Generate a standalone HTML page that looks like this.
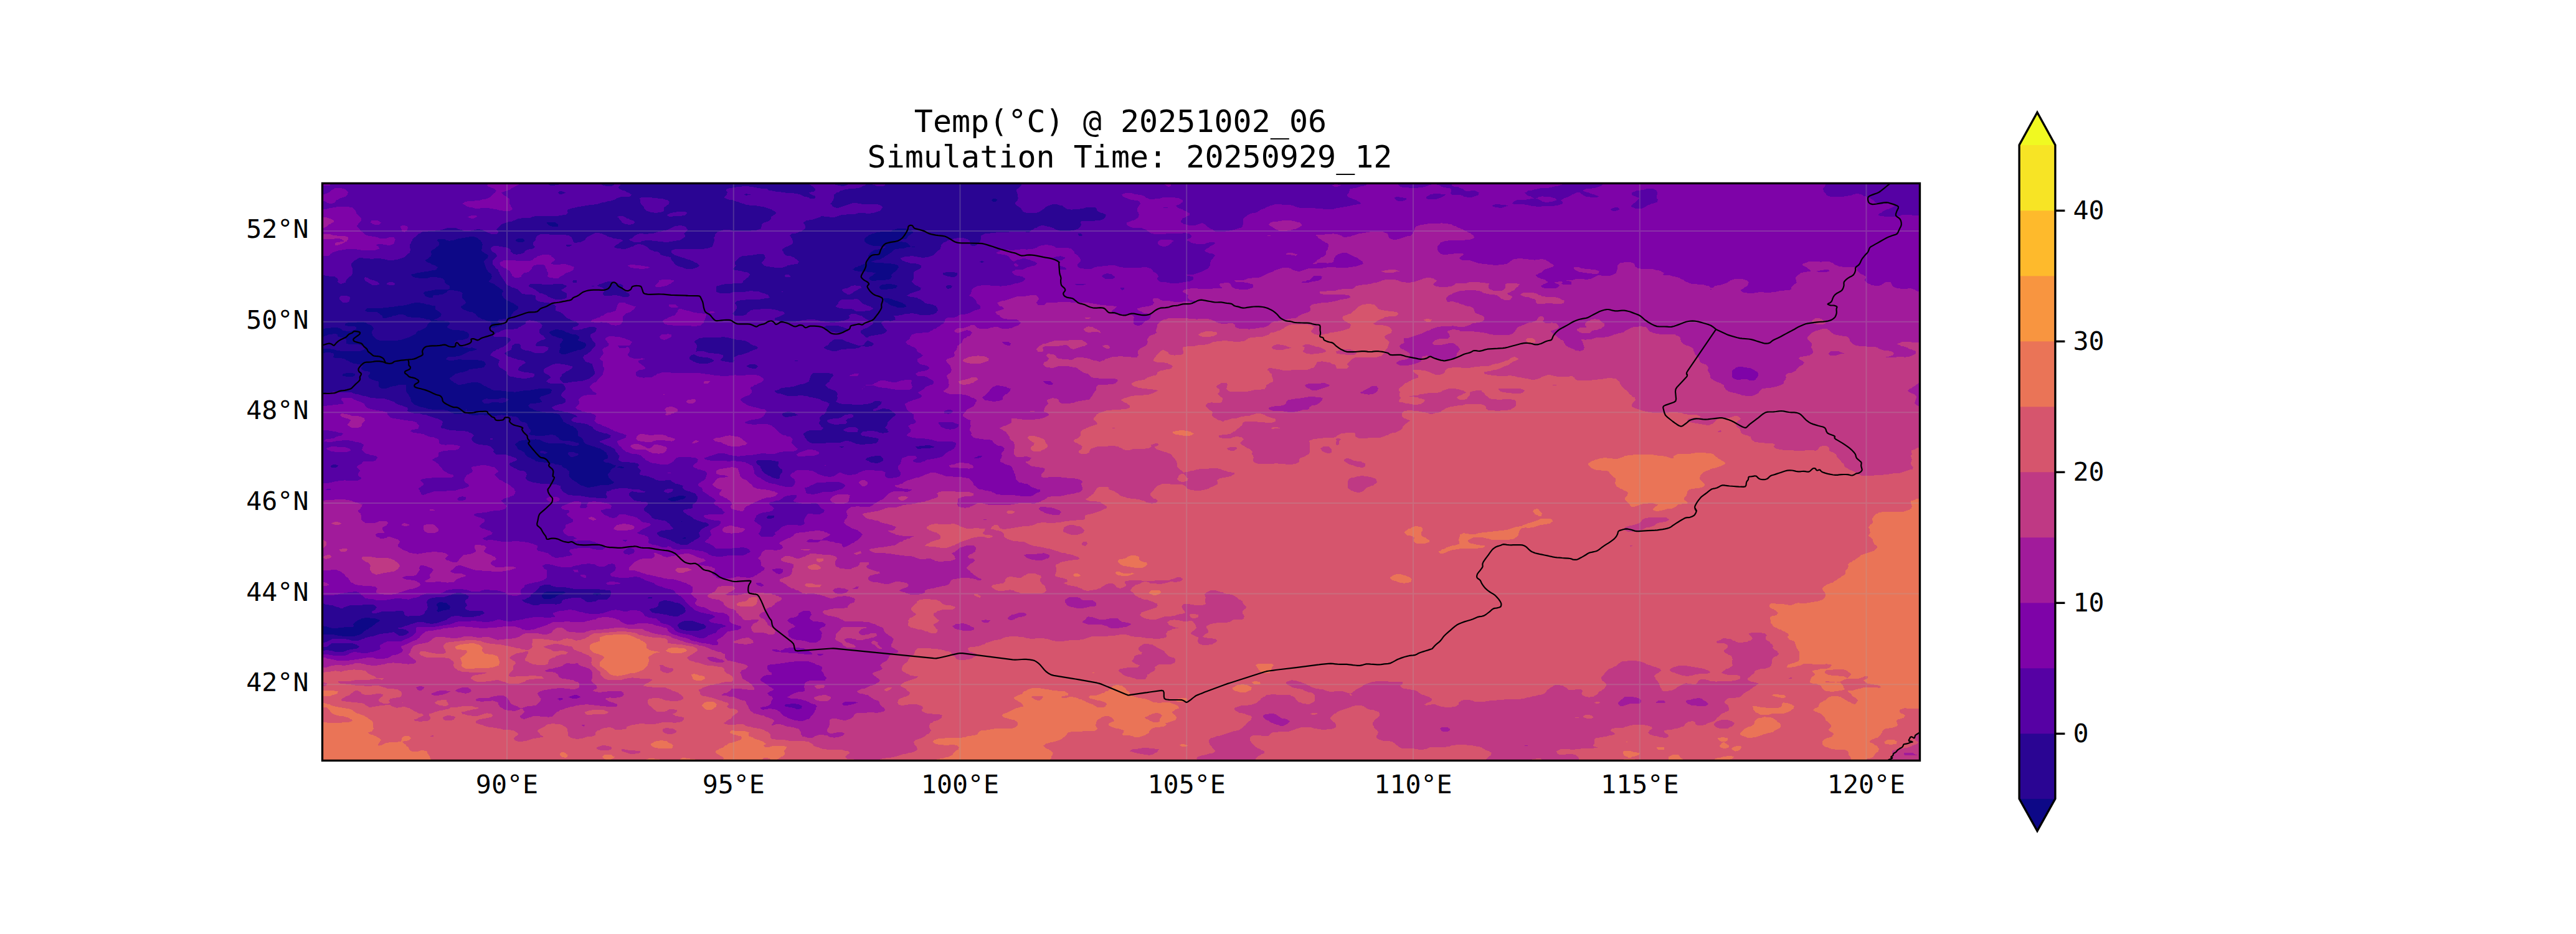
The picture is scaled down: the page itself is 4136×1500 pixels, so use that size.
<!DOCTYPE html>
    <html><head><meta charset="utf-8"><title>Temp</title>
    <style>
    html,body{margin:0;padding:0;background:#fff;}
    body{width:4136px;height:1500px;overflow:hidden;}
    svg{display:block;}
    text{font-family:"DejaVu Sans Mono","Liberation Mono",monospace;fill:#000;}
    .t{font-size:50px;text-anchor:middle;}
    .l{font-size:41.67px;}
    </style></head><body>
    <svg width="4136" height="1500" viewBox="0 0 4136 1500">
    <rect width="4136" height="1500" fill="#fff"/>
    <defs><clipPath id="ax"><rect x="517.5" y="294.4" width="2565.0" height="927.1"/></clipPath></defs>
    <g clip-path="url(#ax)">
    <rect x="517.5" y="294.4" width="2565.0" height="927.1" fill="#7e03a8"/>
    <rect x="517.5" y="294.4" width="2565.0" height="927.1" fill="#0d0887"/>
<g shape-rendering="crispEdges">
<path fill="#2a0593" fill-rule="evenodd" d="M518 291l2568 0 0 933 -2572 0 0-206 4 1 18 0 2 1 3 0 1 1 6 0 2 1 18 0 4-1 2-1 1 0 3-1 2-1 1-1 3-2 0-1 2-1 2-2 2 0 3-3 3-1 2-2 4-2 0-1 2-2 3-1 3-3 1 0 -1 0 -2-1 -4-1 -2-1 -6 0 -4-1 -6 0 -2 1 -4 0 -2 2 -4 1 -2 2 -2 1 -3 3 1 3 1 0 -1 0 -2 2 -12 0 -4 1 -6 0 -2 1 -10 0 0-1 -2 0 -4-1 -2-1 -4 0 -1-1 -3 0 -2 1 0-436 4-2 1-1 1 0 4-1 6 0 2 1 2 0 2 2 0 3 -2 1 4 2 10 0 2 1 2 0 2 1 2 2 2 0 2 1 2 2 2 0 4 2 4 0 2 1 3 0 1 1 2 1 3 1 -3 2 0 3 6 3 4 0 2 1 2 0 0 3 -3 3 1 3 0 1 6 3 4 1 2 1 2 0 2 2 0 7 2 2 4 1 6 0 2-1 4-1 0-1 2 0 4-1 2 0 4-1 2-1 12 0 0 3 1 0 -1 0 0 8 1 1 2 3 1 1 1 2 2 3 1 3 0 3 4 4 4 2 1 0 1 1 4 1 2 1 3 0 1 1 2 0 4 1 2 1 4 0 2 1 18 0 4 1 2 0 4 2 2 2 1 0 3 1 2 1 10 0 2-1 4 0 2-1 0-6 1 0 0 6 3 2 2 1 2 0 2 1 8 0 4-1 6 0 2 1 6 0 4 1 8 0 4-1 2 0 4-1 2 1 6 0 4 1 2 0 4 1 4 0 2 1 2 2 1 0 1 3 2 2 3 1 3 0 2 1 3 2 0 3 1 1 2 4 2 1 0 3 -2 3 -1 0 1 2 4 1 4 0 2 1 14 0 1-1 5 0 4-1 2 0 4 1 2 0 0 1 3 2 3 3 0 1 4 1 2 1 12 0 0 1 4 0 2 1 4 1 3 0 1 3 -4 2 -6 0 -4-1 -2 0 -1-1 -3 0 -2-1 -3-1 -25 0 -1-1 -1 0 -4-1 -8-4 -4 0 -2-1 -3 1 -13 0 -2 1 -4 0 -2 1 -2 0 -2 1 -2 2 -1 0 -2 3 2 3 1 1 2 4 4 1 2 2 4 1 1 3 1 2 1 1 3 2 2 1 1 0 3 2 2 1 1 0 3 3 2 0 4 1 6 0 2 1 6 0 4 1 3 0 3 1 2 1 4 0 2 1 3 0 1 1 1 2 1 1 4 1 2 2 3 2 1 0 0 5 -1 1 1 2 0 1 2 3 4 3 1 0 1 2 3 1 3 3 1 0 3 2 2 1 2 0 4 2 4 1 2 0 4-1 2 0 4-1 2 0 1-1 3 0 2-1 12 0 4-1 2-1 1 0 3-2 0-1 -4-2 0-1 -2-1 -2-2 -1-3 -1-2 0-1 2-3 2-2 0-1 2-3 6-3 1-3 -3 0 -6-3 -4-1 -2 0 -4-1 -1-1 1-3 4-1 2-2 0-3 -2-3 0-1 -2-2 -2-1 -2-2 -4-2 -1-1 -1 0 -4-1 -4-2 -2 0 -2-1 -4-1 -2-1 -4-1 -2-2 -2-6 -2-1 -2-2 -4-2 0-7 -2-3 -3-3 -1 0 -3-3 -3 0 -2-2 -3-1 -1 0 -2-2 -4-2 0-2 -4-6 -1-3 -1 0 -2-1 -4-1 -3 0 -1-1 -10 0 -4-1 -2 0 -4-1 -2-1 -4 0 -2-1 -4-1 0-1 -2-1 -4-1 0-1 -3-3 1 0 2-2 2-1 8 0 2-1 4 0 2-1 3-1 -3-2 0-1 -2-3 2-2 2-1 2 0 2-1 4-1 2-1 4-1 1-2 1-3 -2-2 -3-1 -16 0 -3 1 -2 0 -4 1 -2 0 -4 1 -9 0 -3 1 -2 0 -4 1 -2 0 -4 1 -2-1 -10 0 -2-1 -6 0 -3-1 -9 0 -4-1 -2-1 -1-1 -3-1 -2-1 -1-1 -3-1 -2-1 -1-1 -3-2 -2-1 -4-1 -8 0 -4 1 -3 0 -3 1 -2 1 -4 0 -2 1 -4 0 -2-1 -3-2 -1 0 -2-1 -2-2 -2-1 -2-2 1-3 1 0 3-3 1 0 2-2 2-1 1 0 3-1 4-1 2 0 3-1 1 0 2-1 4-1 0-1 2-1 4 0 2-1 6 0 2-1 4 0 4-1 2-2 2-3 -1-3 -1 0 -2-2 -4-1 -2 0 -4-1 -24 0 -2-1 -4 0 -2 1 -4 0 -2 1 -6 0 -4-1 -2-1 -1-1 1 0 2-2 2-1 10 0 4-1 2 0 4-1 1-1 1 0 4-2 1-1 1 0 6-3 4 0 2-1 4-1 1-1 -1-1 -4-1 -2-1 -4 1 -2 0 -3-1 -3 0 -4-1 -2-1 -3-1 -1 0 -2-1 -3-2 -1-1 0-2 4-2 1-1 7 0 4-1 2-1 3-1 1 0 1-3 0-3 -1-1 -1-2 -3-1 -4-2 -4 0 -4-1 -8 0 -4-1 -6-3 0-1 2-3 2-2 0-2 -3-2 -3 0 -4-1 -8 0 -4-1 -2 0 -3-1 3 0 2-1 4-1 0-1 2-1 2-2 1-3 -3-2 -2-2 -3-2 -1 0 -1-3 0-3 -1-1 -4 0 -2-1 -4-1 -2 0 -4-1 -2-1 -4 0 -2-1 -8 0 -2 1 -2 0 -4 1 -2 1 -3 0 -1 1 -2 0 -4 1 -6 0 -2 1 -5 0 -1 1 -6 0 -4 1 -6 0 -2 1 -25 0 -3 3 0 1 4 2 15 0 3 2 2 1 0 1 4 2 0 3 -1 0 1 0 2 1 4 0 1-1 1 0 4-1 2 0 3-2 3 0 4-1 2-1 6 0 4 1 2 1 0 1 4 1 2 0 4 1 12 0 2 1 4 0 2 1 4 1 3 0 3 2 0 1 -1 1 -3 2 -2 3 0 1 -1 2 -3 2 -8 4 -3 0 -3 3 0 2 -6 3 -3 1 -1 1 -2 1 -4 1 -1 0 -1 1 -4 1 -2 1 -4 0 -2 1 -28 0 -2-1 -4-1 -2-2 -2-3 -2-1 0-2 -1-3 1-3 0-1 2-2 -1-3 -1 0 -3-3 -6-2 0-1 -3-1 -2-1 -10 0 -2 1 -12 0 -4 1 -1 0 -1 3 -1 0 1 1 2 0 4 1 8 0 4 1 0 4 -4 1 -2 1 -1 0 -3 1 -6 0 -2-1 -4 0 -3-3 -3-1 -2-1 -10 0 -2 1 -6 0 -4 1 -6 0 0-237zM1591 321l3 3 4 0 2-2 2-1 -4-2 -4 0 -2 2zM878 357l1 3 1 1 4 2 2 0 0 1 10 0 0-4 -4-2 0-1zM1434 369l-2 1 -2 2 -17 0 -1 1 -4 0 -2 1 -4 1 -2 0 0 1 -4 1 -2 1 0 1 -4 2 -2 3 0 3 2 3 6 3 4 1 2 1 10 0 2 1 8 0 -2 2 -2 1 -2 0 -2 1 -2 0 -4 1 -2 0 -4 1 -2 2 -2 1 -4 6 0 4 -2 2 -1 3 -1 1 -1 2 -1 1 -4 1 -2 1 -1 1 -3 0 -2 2 -2 0 -2 1 -2 2 -2 0 2 1 2 2 4 0 2 1 12 0 4 1 6 0 2 1 5 0 -2 1 -3 2 -2 2 -3 1 -1 2 -1 1 1 2 4 2 6 0 1-1 13 0 4-1 2 0 4-1 0-1 2-3 -1-3 3-3 2-1 5-5 2-3 -1-3 -4-1 -2-1 -4 0 -2-1 -10 0 -2-1 -12 0 -4-1 -2 0 -2-1 2 0 2-1 4-1 2-1 4 0 2-1 3-2 1 0 2-2 4-2 2-2 1 0 3-2 4-4 4-2 4 0 2-1 6 0 4-1 2-1 4 0 2-1 4 1 2 0 1-1 -7 0 -2-3 -4-3 -2-1 -4 0 -2-1 -6 0 -3-1 3-1 2-1 3-1 7 0 3-3 2-3 1 0 2-2 2-1 2-2 0-1 -4-3 -2 0 -4-1 -2-1 -12 0 -4 1 -2 1zM747 381l-1 1 -4 0 -2 1 -4 0 -2 1 -4 1 -2 1 -4 0 -2 1 -4-1 -2 0 -2-2 -11 0 -1 3 3 3 0 3 -1 2 -4 2 -2 2 0 1 -4 1 -1 1 -1 3 1 3 -1 3 -1 1 -3 2 -2 2 -3 1 1 3 4 2 3 1 1 1 2 1 4 1 2 2 3 1 -2 3 -1 1 -2 1 -4 0 -2 1 -3 0 -3 1 -4 0 -2 1 -4 0 -2 1 -4 0 -2 1 -4 1 -2 0 -3 1 3 3 2 1 4 1 2 0 4 1 12 0 2-1 4-1 8 0 4 1 2 0 4 1 2 2 2 1 0 3 2 3 6 3 0 5 -4 1 -20 0 0 1 -4 0 -2 1 -4 0 -2 1 -4 0 -2 3 -1 0 3 3 0 1 4 2 1 0 1 1 6 0 1-1 1-3 8 0 2-1 4 0 2-1 1-1 3-1 2-2 0-1 4-1 6 0 2 1 4 0 2 1 2 0 2 1 2 2 1 0 -1 2 0 6 4 4 1 0 1 3 -2 3 -1 0 -3 2 -2 1 1 3 1 1 4 2 1 0 1 1 4 1 2 1 4 0 2 2 3 1 1 0 1 3 1 1 3 2 1 0 2 2 4 1 2 0 0 1 4 1 2 1 2 0 3 3 -1 3 0 1 -3 2 3 1 6 0 2-1 4-1 2-1 4 0 0-2 -2-2 -2 0 -2-2 -2-1 2-1 1-2 5 0 2-1 6 0 4-1 1-1 1-2 1-1 1-3 2-1 0-2 2-1 3-2 1 0 2-3 0-3 -2-1 -3-2 -1 0 -2-2 -2-1 -2 0 -2-2 -3-1 -1 0 -2-2 -2-1 -2-2 0-1 -2-3 0-3 2-3 -1-3 -1 0 -4-2 0-1 -2-1 -3-2 -1 0 -3-3 -3-1 -2-1 -3-1 1-3 2-1 1-2 1-3 -1-3 -3-3 -2-1 -1-2 -1-1 -1-2 -2-6 -1-2 0-1 -1-3 1-2 1-1 3-2 1-1 1-3 -3-3 -3-1 -2-2 -1 0 -2-3 1-3 0-3 1-3 -1-3 -2-2 0-1 -2-2 -2-1 -2-2 -2-1 -4-1 -6 0 -2 1zM829 384l-1 3 4 2 6 0 4-1 0-2 -1-2 -3-1 -6 0 -2 1zM1424 456l-4 1 -2 0 -4 1 -1 1 -1 2 -1 1 3 3 10 0 2-1 6 0 4-1 2 0 1-1 2-3 -3-1 -2-1 -3 0 -2-1zM1418 480l2 3 0 1 3 2 1 0 2 2 6 3 4 1 1 0 1 1 4 1 8 0 4-1 1-1 -1-3 -4-1 -1-2 -1 0 -4-1 -4-2 -2 0 -2-1 -4-1 0-1 -2 0 -4-1 -6 0zM885 531l-1 1 -3 2 5 5 4 1 1 0 1 1 4 1 2 1 3 0 3 3 -2 3 0 1 -3 2 0 3 1 3 -1 3 -1 2 0 4 1 0 3 2 6 0 2-1 3-1 1 0 2-1 4-1 1-1 2 0 3-1 2-1 4 0 1-1 1 0 4-2 1-1 1-2 1-1 0-3 -1 0 -2-2 -4-1 -2-1 -4-1 -1-1 3-3 0-3 -2 0 -2-2 -2-1 -4 0 -4-1 -4-2 -2 0 -2-1 -3-2 -1 0 -2-1 -4 0 -2-1 -4 0 -2 1 -4 1zM551 600l-1 2 0 2 4 0 2 1 10 0 4-2 0-3 -2 0 -2-1 -10 0 -2 1zM989 750l3 1 2 0 4 1 2 0 3-2 -3 0 -2-1 -4 0 -2 1zM1081 798l-3 1 -2 1 -4 1 0 1 6 3 6 0 2-1 2 0 2-1 4-1 2 0 1-1 3-1 1-2 -1-1 -4-1 -6 0 -2 1 -4 1zM1093 837l1 1 1-1zM1095 864l1 1 4 0 2-1 -2-1 -4 1zM875 951l-1 0 -2 3 -1 0 -1 3 1 3 1 1 2 1 10 0 4-2 2 0 3-3 3-1 2-1 4 0 6-3 0-1 -4-1 -26 0zM951 954l1 1 4 0 2 1 4-1 2 0 2-1 -2 0 -2-2 -7 0 -3 1zM702 969l-1 3 2 3 0 3 -2 3 3 2 2-1 3-1 1 0 2-1 4 0 2-1 4 0 0-1 1-3 -1-2 -1-1 -3-2 0-1 -2-1 -4 0 -2-1 -4 0zM530 537l2 0 4-1 2 0 3 1 1 1 0 2 2 1 4 1 2 0 4 1 2 3 0 6 1 0 3 1 14 0 4 1 2 1 3 0 1 1 3 2 -1 1 -1 2 -1 1 -4 1 -2 1 -30 0 -4-1 -2 0 -4-1 -2-1 -4 0 -2-1 -16 0 0-17 4-1 2-2 4-1 4-2zM808 639l2 0 2 1 2 0 4 2 -1 0 -3 2 -2 1 0 1 -3 0 -3 1 -4 0 -2-1 -10 0 -2 1 -4 1 -6 0 -2-1 -2-2 1-3 1 0 2-1 4-1 2 1 16 0 2-1 4-1zM868 724l4 0 2 1 4 1 1 0 -1 2 -4 1 -2-1 -4 0 -2-2zM914 726l8 0 0 1 4 1 3 1 1 0 -2 1 -2 2 -1 0 -3 1 -2 1 -4 0 -1-2 -1 0 -2-3 1-3z"/>
<path fill="#5601a4" fill-rule="evenodd" d="M518 291l368 0 -2 2 -3 1 0 3 3 1 6 0 2-1 4 0 2-1 4 0 2-1 16 0 1-1 1 0 4-1 2 0 4-1 2-1 20 0 4 2 3 1 1 1 2 1 3 1 1 1 2 0 4 1 8 0 4-2 2-3 4-2 2 1 1 1 1 3 -3 3 1 3 6 3 1 0 3 1 2 2 2 0 2 1 2 2 2 0 -1 3 -1 0 -3 1 -11 0 -4 1 -2 1 -1 0 -3 2 -2 1 -1 0 -3 1 -2 1 -4 0 -2 1 -2 0 -1 1 -3 0 -4 1 -2 1 -1 0 -3 1 -2 0 -4 1 -6 0 -2 1 -5 0 -1 1 -4 0 -2 1 -4 0 -2 1 -3 0 -1 1 -2 0 -4 1 -2 1 -2 0 -1 3 1 3 -2 1 -2 2 -4 0 -2 1 -4 0 -2 1 -36 0 -4 1 -1 0 -2 1 -3 1 -12 0 -2 1 -4 0 -6 3 -2 0 0 1 -4 1 -2 0 -4 1 -1 0 -1 1 -4 1 -2 1 -1 0 -3 3 -2 3 -1 0 -2 3 3 3 0 1 -1 2 -3 1 -8 0 -1-1 -3-1 -8-4 -3-1 -1 0 -2-1 -4 0 -2 1 -2 0 -2 1 -2 0 -4 1 -8 0 -4-1 -1-1 -1 0 -4-1 -2-1 -3-1 -13 0 -2 1 -4 1 -2 1 -2 0 -2 1 -6 0 -2 1 -10 0 -2 1 -6 0 -4 1 -2 2 -2 0 -3 3 -1 2 -3 1 -3 3 0 3 -1 0 -1 3 -2 2 0 7 1 0 0 3 -1 2 0 1 -2 2 -2 1 -3 3 -1 2 -4 1 -2 1 -4 1 -2 1 -4 0 -2 1 -10 0 0-1 -2 0 -4-1 -2 0 -4-1 -8 0 -4 1 -2 0 -4-1 -8 0 -2-1 -5 0 -3 1 -2 2 -4 2 -1 1 -1 2 -2 1 0 3 1 3 1 2 0 8 -1 2 -3 3 -1 0 -1 2 -2 1 -2 3 -1 3 -1 1 -4 1 -2 1 -4-1 -2-2 1-3 -1-3 -4-2 -1-1 -7 0 -4-1 -2 0 -4-1 -2-1 -4 0 0-150zM896 309l2 3 4 0 2-1 4-1 0-1 -4-1 -2-1 -4 0zM1034 291l24 0 -1 0 -3 2 -2 1 0 1 -4 0 -2 1 -4 0 -2-1 -4 0 -1-1 -1 0 -2-3zM1300 291l30 0 0 1 3 2 1 1 2 0 4 1 2 1 1 0 3 1 2 0 4 1 2 0 4-1 2-1 1 0 0-3 -1 0 -2-1 -4-1 -15 0 0-1 45 0 0 1 4 1 8 0 4-1 1-1 19 0 3 3 -2 3 -1 1 -2 1 -10 0 -4-2 -2 0 -2-1 -10 0 -2 2 -4 1 -2 2 -4 1 -2 0 -4 1 -8 0 -4 1 -2 0 -4 1 -2 1 -2 0 -2 1 -2 2 -2 0 -2 1 -2 2 -1 0 0 6 -1 3 -4 6 -2 0 2 1 2 2 0 1 4 2 1 0 1 1 4 0 2-1 4-1 2-1 3-1 1 0 2-1 4-1 1-1 1 0 4-1 6 0 2 1 4 0 2 1 24 0 4 1 2 1 1 0 2 3 -2 3 -3 3 -4 1 -2 1 -4 1 -3 0 -3 1 -6 0 -1-1 -11 0 -2 1 -4 1 -12 0 -2 1 -7 0 -3 1 -2 1 -4 1 -1 0 -1 1 -6 0 -4-1 -6 0 -2-1 -4 0 -2 2 -4 1 -2 1 -1 0 -3 1 -2 1 -4 0 -2 1 -4 0 -2 2 -2 1 1 3 1 1 1 2 0 3 -1 2 -4 2 -2 2 -2 0 -4 2 -4 1 -4 0 -2 1 -2 2 2 3 0 1 2 2 1 3 0 3 -3 3 -1 0 -1 1 -4 2 -2 0 -1 1 -3 2 -1 0 -1 3 2 3 0 2 1 1 3 2 2 1 5 0 1 1 4 1 2 1 0 1 4 2 2 3 1 0 -1 1 -1 2 -1 1 -4 0 -2 1 -4 0 -2 1 -4 0 -2 2 -4 1 -1 0 -1 1 -12 0 -3-1 -3 0 -4-1 -2 0 -4-1 -2-1 -3-3 1-3 3-3 1-2 2-1 -2-1 0-2 -2-3 -11 0 -1 1 -4 0 -2 1 -6 0 -4 1 -6 0 -6 3 -2 3 -1 0 -3 3 0 5 2 1 -3 3 -1 2 -2 1 4 2 4 0 2 1 4 0 2 1 4 1 2 0 3 1 3 3 -2 3 0 1 -4 2 -2 3 -2 0 -1 3 -1 1 -2 1 -12 0 -4 1 -10 0 -2 1 -2 0 -4 1 -2 1 -3 0 -1 2 0 8 4 1 2 1 16 0 2-1 4-1 18 0 1-1 5 0 2-1 4 0 2 1 8 0 4 2 4 1 2 0 0 1 4 1 2 1 0 2 2 1 -1 1 -3 1 -4 0 -2 1 -5 0 -1 1 -22 0 -2 1 -6 0 -4 1 -3 0 -3 3 0 2 2 1 1 3 0 3 -2 3 -3 3 -2 3 2 2 2 1 12 0 4-1 2-1 1-1 2-3 1 0 2-2 2-1 2 0 2-1 10 0 2-1 16 0 2 1 4 0 2 1 1 0 3 1 2 1 4 0 2 1 1 0 1 3 -10 5 -4 1 -1 0 -1 3 -1 0 1 1 2 0 4 1 2 1 2 0 2 1 6 0 2 1 4 0 2-1 6 0 3-1 3 0 4-1 2-1 6 0 2-1 11 0 3 1 2 0 4 1 2 1 5 0 1 1 6 0 4 1 6 0 2-1 4 0 1-1 1 0 4-1 2 0 4-1 2-1 1 0 3-2 0-2 -2-2 2-1 2-2 8 0 4 2 4 1 1 0 1 1 3 2 1 1 8 4 4 1 2 3 -2 3 -1 0 -3 2 -2 1 0 1 -4 1 -2 1 -2 0 -2 2 -2 1 0 3 2 3 1 0 3 3 1 0 1 2 4 0 1-2 1 0 4-1 2 0 4-1 2 0 4-1 2 0 4-1 2-1 1-1 3-2 0-1 -2-3 -2-1 -1-2 -1-1 -1-2 -2-3 2-3 1 0 2-1 6 0 4 1 2-1 4-1 2-1 -1-3 -1-2 -2-1 8 0 2-1 4 0 2-1 3-1 7 0 2-1 4 0 2 1 4 0 2 1 4 1 14 0 4-1 2 0 1-1 3-1 2-2 2-3 -1-3 -1-1 -1-2 -1-1 -4-1 -1-1 -1 0 -4-1 -2 0 -4-1 -2-1 -3-3 -1 0 -2-2 -2-1 -2 0 -2-2 -4 0 -1-1 -5 0 -2-1 -4-1 0-1 4-1 1-2 1 0 4-1 2-1 3-1 1 0 2-1 4-1 0-1 1-3 -1 0 -4-2 -1-1 -1 0 -4-2 -4-4 1-3 1-1 1-2 0-9 1-2 1-1 3-1 2-1 1-1 3-1 1-2 0-3 -1 0 -4-2 -2 0 -3-1 -7 0 -2-1 -4-1 -2 0 -1-1 -3-1 -2-1 -1-1 -1-3 2 0 2-1 4-1 6 0 2-1 4 0 2 1 4 0 2 1 4 0 2 1 4 0 2-1 4 0 2-1 3-1 1 0 2-1 2-2 2-1 1-2 1-1 3-2 1 0 2-3 0-1 1-2 0-3 3-2 0-1 2-1 4-1 0-1 2-1 4-1 2-1 1 0 3-1 2 0 4-1 8 0 4 1 2 1 1 0 3 2 1 1 1 3 0 4 4 1 2 0 4-1 0-1 3-3 3-2 0-1 1-3 0-6 1 0 6-3 6 0 4-1 6 0 2-1 18 0 4-1 24 0 2 1 4 0 1-1 1 0 2-3 2 0 3-3 3 0 2-2 3-1 1 0 2-1 3 0 3 1 1 0 3 1 2 0 4 1 2 1 1 0 3 2 2 1 4 1 2 1 16 0 2-1 4 0 2-1 4-1 5-5 1-2 0-1 -1-3 1-2 20 0 4-1 6 0 2-1 4-1 0-1 3-3 1-3 -6-3 -2 0 -2-1 -3-1 -1-1 -1-3 -3-3 -14 0 -2 1 -4 1 -2 0 -4 1 -8 0 -4 1 -2-1 -4 0 -2-1 -3-2 -1 0 -3-3 -3 0 -2-1 -4-1 -6 0 -2 1 -4 1 -1 0 -1 1 -4 2 -2 3 -1 0 -3 2 -2 1 0 1 -4 1 -2 1 -16 0 -2-1 -4-1 0-1 -4-6 -2 0 -2-2 -2-1 -2-2 0-1 1-3 3-2 0-1 1-3 -1-3 0-3 -2-6 1-3 1 0 2-2 2-1 2-3 0-3 2-3 1444 0 0 933 -2572 0 0-179 6 0 4-1 2 0 4 1 2 0 4 1 2 1 12 0 4-1 4-2 2 0 2-1 4 0 2-1 4 0 1-1 1 0 3-3 -3-1 -2-2 -4-1 -2-1 -34 0 -2 2 -1 0 -3 3 -1 0 -1 1 -6 0 -4-1 0-4 4-2 2 0 4-1 2-1 1-1 3-1 2-1 1-1 23 0 0 1 4 0 2 1 4 1 8 0 4-1 2-1 1-1 3 0 2-2 4 0 0-1 2 0 4-1 2 0 4-1 1-1 1 0 4-1 2-1 4 0 2-1 6 0 4-1 2 0 4-1 2 2 1 0 3 2 2 2 6 0 3-1 1 0 2-1 3-2 1-1 0-2 -4-2 -1-1 -1 0 -4-1 -6 0 -1-2 5 0 2-1 4-1 0-1 2 0 4-1 4-2 2 0 2-1 4-1 2-1 10 0 2 1 4 1 2 0 4 1 2 0 4-1 2 0 4-1 2-1 4-1 2-1 3-1 1 0 2-2 4-2 2-2 4 0 2-1 6 0 4 1 1 0 1 1 18 0 2-1 2 0 2-1 4 0 2-2 1 0 3-1 2-2 -3-2 -1-1 -20 0 -2-1 -4-1 -1-1 0-3 3-3 -1-3 -1 0 -1-3 1-3 4-2 0-1 1-3 -1 0 -4-2 0-1 -2 0 -4-1 -2-1 -6 0 -4 1 -2 1 -2 0 -1 1 -3 1 -4 1 -2 1 -4 1 -12 0 -2 1 -5 0 -1 1 -4 1 -1 1 -1 3 -1 0 0 3 1 1 0 2 1 3 -1 3 0 1 -3 2 -1 2 0 1 -2 3 -1 0 -3 1 -2 1 -16 0 -2 1 -4-1 -2-1 -1-1 0-3 -2-3 -11 0 -2 1 -20 0 -4 1 -2 1 -2 0 -2 1 -6 0 -1-1 1-3 4-1 2-4 1-1 -1 0 -2-3 -4-1 -14 0 -4 1 -19 0 -1 1 -4 1 -2 1 -2 0 -2 2 -2 0 -4-1 -1-1 -1 0 -4-1 -2-1 -3-1 -3 0 -4-1 -2 0 -4-1 -1-1 -1 0 -4-2 0-336 10 0 0-1 8 0 4-1 2 0 4 1 21 0 3 1 2 1 4 1 2 0 4 1 2 1 4 1 2 0 4 1 2 1 4 1 6 0 2 1 12 0 4 1 2 1 2 0 4 2 4 1 1 0 1 2 6 3 3 1 2 0 1 1 4 1 2 1 2 0 1 3 -1 3 4 2 4 1 2 0 0 1 10 0 2 1 4 1 3 0 3 1 2 1 4 1 2 1 4 1 2 1 2 0 6 3 3 3 -1 3 0 1 -2 2 0 3 2 1 2 0 4 1 2 1 2 0 2 1 8 0 4 1 12 0 2 1 3 0 1 1 2 1 4 1 2 3 1 0 -3 3 0 1 -2 2 2 2 0 1 2 2 6 3 4 1 3 0 3 1 6 0 2 1 3 1 3 3 1 0 2 3 -1 3 2 2 2 1 0 1 16 0 2 1 4 1 1 0 1 1 4 1 2 1 1 0 3 3 0 1 -4 2 -2 0 0 1 -4 1 -2 1 -1 0 1 1 0 2 2 2 3 1 1 1 2 1 3 1 1 1 2 1 4 1 4 0 2 1 2 2 1 0 1 3 -1 3 -1 2 0 2 2 2 4 2 4 1 2 1 4 0 2 1 4 0 2 1 12 0 4 1 8 0 4 1 2 1 2 0 0 3 1 3 1 1 1 2 1 1 4 2 2 2 4 1 3 0 3 1 12 0 2 1 4 0 2 1 4 0 2 1 10 0 2 1 12 0 3 1 2-3 -1-2 -1-1 0-3 1-1 0-2 2 0 4-1 2-2 4 0 2-1 4 0 2-1 12 0 4 1 2 0 4 1 10 0 4 2 4 1 2 0 -2 2 -10 0 -3-1 -3 0 -2-1 -1 0 -3 1 -2 2 -1 0 1 1 0 2 2 3 1 0 2 3 3 3 3 0 1 1 6 0 2 1 6 0 4 1 0 3 -6 6 0 2 -1 1 3 3 1 0 3 2 2 1 0 1 3 2 1 2 0 1 6 3 3 0 3 1 2 0 4 1 2 0 3 1 3 3 1 0 3 3 2 3 1 0 2 3 -3 1 -2 1 -6 0 -4 1 -4 0 -4 2 -3 1 0 3 3 3 2 1 4 1 2 1 2 0 4 2 4 1 2 2 4 1 2 2 4 1 1 0 1 1 4 1 8 0 4-1 0-1 2-1 2-2 2 0 2-2 6-3 1-1 3-2 0-1 -2-6 2-2 0-1 3-3 3-1 2-2 1 0 3-1 2-2 -2-3 -4-1 -2 0 -4-1 -2-1 -4-1 -4-2 -2 0 -2-3 -4-2 -1-1 -1 0 -4-2 -2-2 -3-2 0-3 3-1 2 0 4-1 2 0 3-1 1-1 0-5 2-1 2-2 2-1 1-2 1-3 0-3 -2-3 -3-3 -1 0 -2-1 -4-1 -1-1 -1 0 -4-1 -4-2 -2-2 0-2 1-2 -1 0 -2-1 -4-1 -2-1 -4 0 -2-2 -4-2 -2-2 -7 0 -3 1 -8 0 -2-1 -2 0 -2-1 -3-2 -1 0 -2-1 -4-1 -1-1 -1 0 -4-1 -2 0 -4-1 -2 0 -1-1 0-3 1 0 1-3 -5-5 0-1 2-3 -2-2 0-1 -2 0 -4-1 -6 0 -2-1 -12 0 -1-1 -3-1 -1-2 1-3 0-1 1-2 -1 0 -4-6 -2-1 0-2 -3-3 -3-1 -2-2 -4-1 -4-2 -2 0 -2-2 -3-1 -1 0 -1-3 1 0 4-1 2-1 3-1 1 0 2-1 4-1 0-1 1-3 -1 0 -6-3 -4 0 -2-1 -4-1 -2 0 -1-1 -3-1 -2-1 -1-1 -3-2 0-1 -2-2 -2-1 -2 0 -2-2 -2-1 -2 0 -2-1 -4 0 -2-1 -6 0 -3-1 -1 0 -2-1 -3-2 2-3 3-2 4 0 1-1 -1 0 -3-3 -1 0 -2-1 -4-1 -2-1 -4-1 -2 0 -4-1 -2-1 -4 0 -2-1 -4 0 -4-2 -2-2 0-1 6-3 4-1 2-1 4 0 1-1 1 0 4-2 0-4 -3-3 -1 0 -3-3 0-3 1 0 1-3 5-5 0-2 -1-2 -2-3 -1-1 -2-1 -18 0 -2-1 -2 0 -2-2 -2-1 2 0 2-3 4-2 0-1 -2-3 -8-4 -1-2 0-3 1-2 1-1 3-1 2-1 1-1 3-1 2-1 1-1 2 0 3-1 6 0 4 1 3 0 3 1 2 0 4 1 2 1 3 0 0 3 -3 2 -2 1 0 1 -4 1 -2 1 0 1 -4 2 -1 0 -1 3 0 1 -3 2 0 3 2 3 3 3 6 0 4-1 2 0 4-1 6 0 1-1 7 0 4-1 2-1 4-1 2-1 2-2 2-1 5-5 0-3 -2-6 -1-2 0-1 -1-3 -1-1 -4-1 -1-1 -1 0 -4-1 -1-2 -1-1 -1-2 -1-3 2-2 0-1 2 0 4-2 0-1 2-1 4-4 0-1 3-3 3-2 0-4 -4-4 -2-4 -1-1 -1-3 0-3 4-2 1-1 3-1 1-2 1-3 -2-2 -3-1 -7 0 -2 1 -4 1 -2 0 -3 1 0 1 -3 0 -4 1 -6 0 -4-2 2-2 0-1 2 0 4-1 2-2 1 0 0-3 -1 0 -2-1 -2-2 -2 0 -2-1 -4-1 0-1 -2-1 -4-1 0-1 -2-1 -4-4 0-1 -2-1 -3-2 -1 0 -2-1 -4-1 0-5 1-2 -1 0 -2-3 -4-1 -2-1 -4-1 -6 0 -2-1 -4 0 -2-1 -4-1 -2-3 0-4 -2-2 -2 0 -2-1 -10 0 -2-1 -4 0 -6-6 0-1 -2-1 -4-1 0-1 -2 0 -4-1 -2-2 -4-1 -2-2 0-1 -1-2 -2-3 -1-1 -1-2 -1-1 -1-2 -2-3 -1-1 0-2 -2-3 0-1 -2-2 -2-1 -1-2 -3-3 -1-3 0-3 1-3 2-1 1-2 3-3 -1-3 -1 0 -2-2 -4-2 -1-2 -1-3 2-3 4-1 6 0 2 1 4 0 2 1 4 0 2 1 4 1 2 3 0 3 1 0 3 3 2 0 4 1 2-1 4 0 2-1 4-1 0-1 2-3 4-1 2-1 4 0 1-1 1 0 3-3 -3-2 0-5 4-4 0-1 1-3 1-2 1-1 3-1 2-1 12 0 4 1 24 0 2 1 3 0 1 1 4 2 1 3 1 2 0 1 2 3 4 0 2-1 4 0 6-3 2-2 0-1 2-2 4-2 1-1 3-1 6-3 6 0 2 1 2 0 4 2 3 1 1 1 2 1 4 1 1 0 1 1 4 1 2 0 4 1 3 0 3 1 2 2 -6 3 -2 2 -3 1 -3 3 -1 0 1 1 2 1 4 1 3 0 3 1 6 0 1-1 1 0 4-1 4-2 2 0 2-2 3-1 1 0 2-1 4 0 2 1 1 0 3 1 4 2 4 4 4 2 1 0 1 1 4 1 2 0 4 1 2 3 0 1 4 1 2 1 1 0 3 1 2 0 4 1 1 1 1 3 0 1 4 4 0 1 2 2 6 3 4 1 1 0 1 1 4 1 2 1 10 0 2-1 4-1 2-1 3-3 -3-2 -2-2 -4-1 0-1 -2-1 -4-1 0-1 -2 0 -4-1 -4-2 -2 0 -2-1 -4-1 -2-1 -4-1 -2-1 -1-1 -3-2 0-4 4-1 2-1 46 0 2-1 4 0 2-1 4-1 2-1 0-1 1-2 2-6 0-3 -1-3 2-1 0-2 1-3 1-1 3-2 1 0 2-1 4-1 2-1 10 0 2 1 4 1 26 0 4-1 6 0 1-1 1 0 4-1 2-2 0-2 1-1 0-3 3-2 1-1 1 0 4-1 2-1 1-1 3-2 0-4 2-1 3-2 1 0 2-3 -2-3 -4-1 -2-2 -1 0 -3-1 -2-1 -4-1 -2-1 -4 0 -2-1 -4 0 -2-1 -10 0 -2-1 -4 0 -2-1 -3-1 -1 0 -2-1 -4-1 -1-1 -1 0 -4-1 -2-1 -3-1 -3 0 -4-1 -2-1 -3-1 1-3 2-1 1-2 1-3 -2-3 1-3 1 0 4-1 2 0 4-1 2 0 3-1 7 0 2-1 10 0 2 1 6 0 0 1 4 0 2 1 4 0 2 1 9 0 3 3 5 0 1 1 4 0 2 1 6 0 4 1 4 0 2 1 12 0 2 1 4 0 2 1 2 0 8 4 2 0 4 1 2 1 0 1 6 0 3-1 0-3 -3-1 -2-1 -3-1 -1-1 -1-2 1 0 4-1 2 0 3-2 0-3 -3-2 -2-2 -3-2 -1 0 -1-3 0-3zM1194 312l4 2 4-1 2 0 1-1 -3 0 -4-1 -2 1zM1731 375l1 3 0 1 4 0 2-1 -3-3zM909 393l1 3 4 0 2-1 2-2zM1572 420l4 2 4-1 0-1 -4-1 -2 1zM1514 438l0 3 2 1 4 1 2 1 3 0 1 1 6 0 2-1 3-3 0-3 -3 0 -2-1 -12 0 -4 1zM920 450l0 1 -1 2 1 1 6 0 0-4zM971 453l-1 1 -2 1 -4 1 -2 0 0 1 -4 2 -9 0 1 1 2 0 4-1 2 0 4 1 2 1 3 1 1 0 2 3 0 3 -2 3 1 3 1 1 12 0 2-1 6 0 2 1 2 0 6 2 7 0 3-1 1-2 -1-3 -4-1 -2-2 -4-2 0-5 1-2 -1 0 -2-2 -2-1 -2 0 -2-1 -4-1 -1-1 -1 0 -4-1 -6 0 -2 1zM851 456l-3 3 2 2 4 1 2 2 4 1 2 3 1 0 3 3 3 0 3 1 2 1 3 1 1 0 2 3 1 0 3 1 2 1 4 1 2 1 10 0 2-1 1 0 3-1 2-2 0-6 -2-1 -3-1 -1-1 -2-1 -1-2 1 0 2-1 3-2 1 0 2-3 -2-1 -4-1 -1-1 -13 0 -4 1 -14 0 -4-1zM1519 459l0 3 1 1 2 1 4-1 2-1 0-2 1-1 -1 0 -2-1 -4 0 -2 1zM1323 525l1 3 0 1 4 1 2 1 1 0 3 1 2 1 4 0 2 1 10 0 2-1 4-1 2 0 1-1 0-3 -1 0 -2-1 -4-1 0-1 -2 0 -4-1 -2-1 -18 0 -4 1zM1123 543l-3 2 -2 1 -1 0 -2 3 2 3 1 1 1 2 0 3 -1 3 0 3 -2 0 2 1 1-1 11 0 2 1 4 1 2 1 6 0 4 1 6 0 2 1 4 1 1 0 0 3 -1 2 -2 1 -1 3 3 1 2 0 4 1 2 0 4 1 6 0 1-3 -1-3 1-3 1 0 4-2 1-1 5 0 2-1 4-1 2-1 4-1 2-2 1 0 3-1 2-1 3-1 1 0 2-2 2-1 -2 0 -2-2 -2-1 -2 0 -6-3 -2-2 -6-3 -4 0 -2-1 -6 0 -4-1 -2-1 -4 0 -1-1 -1 0 -4-1 -2 0 -4-1 -2 0 -4 1 -26 0 -4 1zM1337 546l-3 3 -1 0 -2 3 -3 3 -1 0 -3 2 -2 1 2 2 3 1 1 1 2 0 4 1 2 1 6 0 4-1 2-1 3-1 7 0 2-1 12 0 4-1 2 0 2-1 2-2 6 0 2 1 4 0 2-1 4 0 0-1 3-3 -1 0 -2-2 -4-2 -3-1 -3 2 -2 3 0 1 -4 2 -6 0 -2-1 -4-1 -2-1 -4-1 -4-2 -2 0 -2-1 -3-1 -1-1 -2-1 -12 0zM1111 570l-3 2 -1 1 0 3 1 2 3 1 1 1 2 1 3 1 1 1 2 0 4 1 12 0 2-1 4-1 2-1 3-2 -3-1 -1-2 -1 0 -4-1 -2-1 -6 0 -4-1 -2 0 -4-1 -2-1 -3-1 -1-2 -2 2zM1275 579l1 1 4 0 1-1zM1204 585l-6 3 6 3 1 0 3 1 6 0 0-1 2-1 1-2 -1 0 -2-2 -3-1zM1304 600l-1 1 -1 2 -1 3 -1 1 0 2 -1 3 -1 1 -4 2 -1 0 -1 1 -4 1 -2 0 -4 1 -2 1 -4 1 -2 1 -5 0 -1 1 -6 0 -4 1 -2 0 -4 1 -2 2 -4 1 -2 0 1 3 1 1 4 1 2 0 4 1 2 1 4 1 2 1 16 0 2-1 6 0 4 1 4 0 4 2 4 0 2 1 3 0 1 1 2 0 4 1 2 1 0 1 4 1 2 1 1 0 3 1 2 2 2 0 -1 3 -1 1 -2 4 -1 1 0 3 -2 3 -3 3 -1 0 -3 2 -1 1 -1 3 1 3 -1 2 -1 1 0 3 3 3 0 1 4 2 0 1 -3 2 -1 1 -18 0 -2 1 -4 1 -2 2 -2 1 0 3 2 2 0 1 2 3 1 0 1 3 2 1 2 2 2 0 2 1 20 0 4-1 20 0 4-1 2-1 4-1 4 0 2 1 2 0 4 2 1 0 1 1 4 1 2 0 4 1 6 0 2-1 10 0 2-1 4 0 2-1 2-3 1-3 -3-1 -2-1 -4 0 -2-1 -4 0 -2-1 -4 0 -2-1 -3 0 -2-1 -1-2 -1-1 1 0 2-2 2-1 4 0 4-1 8 0 4 1 2 0 4 2 2 0 4 1 2-1 4 0 2-1 1-1 -1 0 -1-3 -1-1 -3-2 2-3 1-1 1-2 0-3 3-3 2-1 1-2 1-1 3-2 1 0 2-3 -2-3 -4-2 0-1 -2-1 -3-2 -3 0 -4-1 -2 0 -4 1 -2 1 -4 1 -2 1 -4 0 0-3 4-1 2-1 1-1 2-3 1 0 3-3 1-3 -2 0 -2-1 -6 0 -4 1 -2 2 -4 1 -2 0 0 1 -6 0 -4 1 -14 0 -4-1 -14 0 -2-1 -2 0 -6-3 2-3 1-3 -1-3 1-3 -1-3 -2-1 -1-2 -1 0 -4-1 -4-2 -2 0 -3-3 -2-3 3-2 0-1 2-1 2-2 1-3 1 0 1-3 3-3 -1-3 -3 0 -4-1 -24 0zM1257 663l-1 2 -1 1 3 3 4 1 2 0 4-1 2 0 4-1 2 0 4-1 1-1 -1 0 -4-2 0-1 -2 0 -4-1 -2-1 -4 0 -2 1 -4 1zM1348 717l0 1 4 1 2-1 1-1zM1470 717l2 3 2 1 4 0 2-1 12 0 4-1 2 0 3-2 -3 0 -2-1 -4-1 -6 0 -2 1 -6 0 -4 1zM1406 732l-4 1 -2 0 -4 1 -2 1 -2 0 -2 3 0 1 4 1 2 1 0 1 4 1 2 0 4 1 2 0 4-1 4-2 2-2 0-2 -5-5zM1213 741l1 1 2 4 2 1 3 3 1 3 1 0 0 3 5 5 3 1 1 1 2 1 3 1 1 1 2 1 4 1 1 0 1 1 4 0 2-1 0-4 1-2 2-3 1-1 0-3 -2-2 -2-1 -2-2 0-1 -1-2 1-2 0-4 -4 0 -2-1 -4 0 -2-1 -22 0 -2 2zM532 747l-1 3 1 1 6 0 3-1 1 0 1-3 -1 0 -4-1 -2 0zM1233 828l-1 2 -2 1 2 2 6 0 2-1 3-1 0-3zM873 939l-1 1 -4 1 -2 1 0 1 -5 5 -1 2 -3 1 -3 3 -1 0 -1 3 -1 1 -3 2 -1 0 -3 2 -2 1 -4 0 0 1 2 2 4 2 4 1 1 0 1 1 4 1 2 1 7 0 3-1 2-1 22 0 2 1 4-1 2 0 1-1 3-1 0-2 2-3 1 0 3-1 2 0 4-1 2 0 1-1 15 0 2 2 3 1 3 3 4 1 6 0 2-1 4 0 2-2 3-1 13 0 3-3 3-2 0-1 1-3 0-3 -1-2 -1-1 -5 0 -4-1 -6 0 -2-1 -42 0 -1-1 -3 0 -2-1 -4 0 -2-1 -16 0 -1-1 -1 0 -4-1 -2-1 -1-1zM1039 960l1 1 6 0 1-1 -1-1 -4 0 -2 1zM1059 966l-1 3 -1 0 0 3 -3 3 -1 0 -1 1 -4 1 -2 0 -3 1 1 3 2 2 2 1 1 0 3 1 6 0 2 1 4 0 2 1 4 0 2 1 4 1 2 0 4 1 6 0 2-1 3-2 1 0 2-1 3-2 1-1 1-2 -1-3 0-1 -4-4 0-1 -2-1 -3-2 -1 0 -2-1 -4 0 -2-1 -3-1 -1 0 -2-1 -4 0 -2-1 -4 0 -2 1 -4 1zM1094 999l-4 2 -1 1 -1 3 2 3 0 1 4 2 1 0 1 1 4 0 2 1 18 0 4-1 2-1 4-1 2-1 1-1 1-3 -2 0 -3-3 -3 0 -2-1 -4-1 -2-1 -4-1 -2-1 -12 0 -4 1zM1028 318l2-1 16 0 2 1 6 0 4 1 6 0 2 1 4 1 2 0 0 1 3 2 -1 3 -2 2 -2 1 0 1 -4 2 0 6 -2 1 -4 1 -2 0 -4 1 -2 0 -4-1 -2 0 -4-1 -2-1 -1 0 -3-2 -1-1 -1-3 -2-3 -2-1 -1-2 -1-3 0-3 -1-3zM1078 342l4-1 2 0 4-1 12 0 2 1 1 1 -3 3 0 1 -4 0 -2 1 -12 0 -4 1 -2 0 -4-1 -1-2 1-1 4-1 0-1zM992 348l2-1 6 0 4 2 2 2 3 0 1 1 2 1 4 1 1 0 1 2 1 1 -3 3 -2 0 -2 1 -2 0 -4-1 -2 0 -6-3 0-1 -4-4 0-1 -2-2 -2-1zM1084 363l4 0 2-1 4 0 2 1 1 0 3 1 2 2 0 1 2 2 -3 3 -1 2 -2 1 2 3 0 3 -1 0 -3 2 -2 1 0 1 -4 1 -2 0 -4 1 -2 0 -4 1 -2 0 -4 1 -6 0 -2-1 -6 0 -4-1 -6 0 -2-1 -10 0 -2 1 -4 0 -2 2 -10 0 -2-1 -3-1 -1 0 -2-3 6-2 0-1 3-3 3-1 2-1 3-1 4 0 3 1 6 0 2-1 6 0 4-1 2-1 3-1 3 0 4-1 2-1 4 0 0-1 2 0 4-2 1-1 1 0zM1262 441l3 0 3 1 1 2 -1 1 -6 0 -2-1 1-3zM586 445l4 1 2 1 0 1 4 1 2 1 2 0 4 2 3 1 1 2 1 1 -1 1 -4 1 -6 0 -2-1 -1-1 -3-1 -2-2 -4-2 0-1 -1-3zM626 453l4 0 2 1 2 2 -2 2 -6 0 -4-1 -2-1 -1 0 1 0 2-2 3-1zM1366 459l4 0 2-1 4 1 6 0 1 3 -1 1 -4 1 -2 2 -4 2 -1 0 -1 2 -3 1 -1 1 -2 1 -4 0 -2-2 -4-2 -1-1 -1-2 -1-1 1 0 2-1 4-1 2 0 1-1 3-1zM1255 468l3 0 -2 1 -2-1zM548 475l8 0 4 1 2 1 0 3 -1 3 -1 2 -4 1 -6 0 -3-3 -2-3 0-3zM1376 480l2 1 6 6 4 2 1 0 1 1 4 1 2 1 1 0 3 2 2 1 -2 2 -3 1 -1 1 -6 0 -2 1 -12 0 -4-1 0-1 -2-1 -4-1 -12 0 -2-1 -4 0 -2-1 -4-1 0-2 2-2 2-1 0-2 2-3 4-2 18 0 2-1zM844 516l4-1 2-1 4 1 2 0 4 1 2 0 0 1 4 1 2 1 0 1 3 2 -1 3 -3 3 -1 3 0 3 2 3 4 2 1 1 1 2 2 1 -2 2 -2 1 -2 0 -4 2 -3 1 -1 1 -1 2 -1 3 2 1 12 0 4 1 2 1 1 0 -1 2 0 1 -2 3 -2 0 -2 2 -2 1 -12 0 -4-1 -4-2 -2 0 -2-1 -4 0 -3-1 -2-1 -1 0 -3-3 1-1 0-2 -3-3 -7 0 -2 2 -2 1 0 3 -1 3 -1 1 -2 1 -3 1 -1 0 -2 2 -2 1 2 3 2 2 4 1 1 0 1 1 4 1 2 1 1 0 3 1 2 1 4 0 2 1 2 0 2 2 2 1 -2 2 -3 1 0 1 -3 2 -1 0 -2 3 -1 1 0 3 4 1 2 1 1 0 3 1 6 0 2 1 4 0 2 1 2 0 0 3 -1 2 -3 1 -2 0 -2 1 -2 0 -4 1 -6 0 -2-1 -6 0 -2-1 -2 0 -2-1 -4 0 -4-2 -2-2 0-4 -2-1 -3-2 -1 0 -2-2 -4-2 -1-2 -1-3 -1 0 1 0 2-6 -2-2 -10-5 -3-1 0-1 1 0 1-3 1-1 3-2 1 0 3-3 3 0 2-2 3-1 1 0 2-1 3-2 1 0 2-3 3-3 1 0 2-3 -1-3 -1 0 -4-1 -2-1 -18 0 -2-1 0-3 2 0 2-2 2-1 2 0 2-1 3-2 1 0 2-1 4-1 12 0 2-1 4 0 2-2 2-1 1 0 3-2 4-2 2-2zM1358 666l2 0 4-1 2 0 4 1 0 4 -4 1 -2 1 -2 0 -2 1 -2 2 2 3 -2 3 -10 0 -2 1 -6 0 -2-1 -2 0 -2-1 -4-1 -1-1 -1-2 -1-1 3-1 4-1 2 0 2-1 8 0 2-1 4-1 0-1 2-1 3-2zM1360 687l4-1 8 0 4 1 2 3 -1 3 -1 1 -16 0 -1-1 -1 0 -4-2 -1-1 1 0zM788 704l2 0 2 1 -2 1 -2 0 -2-1zM1070 786l2-1 6 0 3 1 -1 3 -4 2 -4 1 -2-1 -4-1 0-1 2-3z"/>
<path fill="#7e03a8" fill-rule="evenodd" d="M518 291l10 0 3 3 -1 3 0 1 -16 0 0-7zM788 293l1-2 51 0 -3 3 -2 1 -3 2 -6 3 -1 0 -1 1 -4 2 -2 2 -4 1 -2 1 -4 1 -2 1 -2 0 2 1 1 2 1 1 4 2 2 2 2 1 2 2 0 7 2 3 0 2 2 1 1 3 -3 2 -2 1 -10 0 -2-1 -4 0 -2-1 -4-1 -2 0 -4-1 -2 0 -4-1 -12 0 -2 1 -6 0 -4-1 -2-1 -4 0 -2-1 -4-1 -2-2 -4-2 4-2 0-1 2 0 4-1 8 0 4-1 6 0 2-1 3-1 3 0 4-1 1-1 1 0 4-2 0-1 3-3 3-2 1-1 1-2 1-1 -1 0 -2-3 -1 0 -3-1 -4-2 -2 0 -2-3 3-3zM1820 291l66 0 0 1 -4 2 -1 0 -1 3 0 2 -4 1 -2-1 -3-2 -1 0 -2-3 -6 0 -4-1 -8 0 -4 1 -20 0 -4-1 -2-1 -1-1zM2198 291l44 0 0 1 1 2 2 3 3 3 2 0 2 1 8 0 4 1 12 0 2-1 6 0 2-1 2 0 2-1 4-1 0-1 2 0 4-1 6 0 2 1 2 0 2 1 2 2 2 0 2 1 2 0 4 1 2 0 3 1 1 1 0 4 -1 1 1 3 2 1 12 0 4 1 2 1 0 1 4 0 2 1 6 0 4-1 2-1 4-1 2-2 0-1 1-2 -1 0 -6-3 -7 0 -1 1 -6 0 -4-2 -1-2 -1 0 -4-1 -2-1 -1-1 -5 0 -4-1 -1-2 0-3 1 0 4-1 2 0 4-1 26 0 4-1 161 0 -3 3 -2 1 -16 0 -2 1 -4 1 -1 0 -1 1 -4 1 -2 0 -4 1 -2 0 0 1 -4 0 -2 1 -12 0 -4 1 -2 0 0 1 -4 0 -2 1 -4 1 -4 0 -2 1 -2 2 -2 0 2 3 2 2 4 1 2 0 0 1 4 2 6 0 2-2 4 0 2-1 4 1 8 0 4 1 2 1 3 0 1 2 1 1 -1 1 -4 1 -2 1 -4 0 -2 1 -6 0 -1-1 -3 0 -2-2 -6-3 -4-1 -2 1 -4 0 -2 1 -4 0 -2 1 -14 0 -6 3 -2 3 4 1 14 0 4 1 2 0 4 1 1 0 1 1 6 0 4 1 6 0 2-1 18 0 4-1 2 0 4-1 2-1 3-1 0-3 -3-2 0-1 4-1 1-2 1 0 4-1 2-1 1-1 3-1 2-2 1 0 3-1 4-2 4 0 4 3 2 2 3 1 1 1 6 0 2 1 10 0 4-2 -2 0 -2-1 -4-1 0-1 -2 0 -4-1 -4-2 -2 0 -2-1 -4-1 -1-1 1-1 4-1 0-1 8 0 4-1 2 0 4-1 2-1 4-1 5-5 -3-1 -2-1 -1-1 364 0 0 3 -1 0 -2 6 -1 0 -2 3 2 6 1 0 2 3 0 1 4 2 2 0 0 1 22 0 2-1 4 0 2-1 4 0 4-2 2 0 2-1 4 0 2 1 1 0 3 1 2 2 3 0 1 1 2 1 4 1 2 2 3 1 3 3 0 1 4 1 2 1 2 0 2 1 2 0 1-1 5 0 4-1 6 0 2 1 1 0 1 3 -2 2 -8 4 -3 0 -1 1 -6 3 -2 2 -2 0 -2 3 0 1 4 1 3 0 3 1 18 0 2-1 4 0 2-1 1-1 16 0 1 1 12 0 4-1 0 879 -2572 0 0-173 12 0 4 1 2 0 4 1 18 0 2-1 4-1 0-1 2-1 4-1 2-1 4 0 2 1 4 0 2 1 10 0 2-1 4-1 2 0 4-1 2-1 3-1 1 0 3-3 -1-2 0-1 1-3 3-1 2-2 1 0 3-1 2-1 22 0 1-1 1 0 6-3 4-1 2-2 4-1 1-2 5-5 0-7 2-1 28 0 2-1 4 0 2-1 4 0 2-1 4 0 2-1 4 0 1-1 1 0 4-1 4-2 2 0 2-1 18 0 4-1 6 0 2 1 6 0 4 1 8 0 4-1 2 0 4-1 1-1 1 0 4-1 2 0 4 1 1 0 1 1 4 0 2 1 6 0 4-1 2 0 3-1 3 0 4-1 2 0 4-1 2-1 4 0 2-1 4 0 2-1 16 0 2 1 10 0 2-1 4 0 1-1 -3-3 0-3 2 0 2-1 4-1 2-1 6 0 4-1 2 0 4-1 2 0 4 1 2 0 4 1 2 1 4 1 2 0 4 1 2 1 4 0 2 1 16 0 2-1 4 0 2-1 4-1 2-1 3-1 1 0 2-1 4 0 2-1 4 1 2 0 4 1 1 0 1 1 6 0 3-1 1 0 2-1 9 0 3 1 3 0 1 1 4 2 4 6 2 0 4 2 4 0 2 1 6 0 0 1 2 2 2 1 2 2 0 1 4 1 2 1 3 0 1 1 2 0 4 2 1 0 1 2 2 1 2 2 0 1 2 2 6 3 4 1 2 0 0 1 4 0 2 1 4 0 2 1 1 0 3 1 2 1 4 1 2 1 4 1 6 0 6-3 1-2 1 0 4-1 2-1 1-1 3 0 3-3 2-3 1 0 2-2 2-1 2 0 2-1 4-1 0-1 -4-1 -2-1 -3-1 -3 0 -4-1 -2 0 -4-1 -2 0 -1-1 -3-2 0-1 10-5 0-1 -4-2 0-1 -2 0 -4-1 -2 0 -4-1 -2 0 -1-1 -3 0 -2-1 -4-1 -1-1 -1 0 -4-2 0-1 -2-1 -2-2 -2-1 -8-8 0-1 -4-4 0-1 -2-1 -2-2 -2 0 -3-3 -3-2 0-1 -2-3 -4-1 -2-1 -4 0 0-1 -2 0 -4-1 -4-2 -2 0 -2-1 -4-1 -1-1 -1 0 -3-3 -1 0 -2-1 -4-1 -2-1 -4-1 -2-1 -1-1 -3-1 -2-1 -1-1 -3 0 -2-1 -4 0 -2 1 -6 0 0 1 -16 0 -2-1 -4 0 -2-1 -4 0 -2-2 0-3 2-1 3-2 1 0 2-3 0-2 1-1 -1-2 0-1 -1-3 -1 0 -4-1 -2 1 -4 0 -2 2 -3 1 -1 1 -8 0 -2-1 -2 0 -2-2 -3-1 -3 0 -4-1 -2 0 -4 1 -6 0 -2 1 -4 1 -2 0 -4 1 -2 0 0 1 -4 1 -14 0 -4-1 -2 0 -3-1 -1 0 -2-1 -4-1 -2 0 -2-1 -6 0 -6 3 3 3 1 2 4 1 0 6 -1 0 1 1 0 6 -3 2 -1 0 -2 2 -4 1 -1 0 -1 1 -4 1 -2 0 -4 1 -2 0 0 1 -4 0 -2 1 -4 1 -1 0 -1 3 0 1 -4 2 -2 3 -1 0 1 1 0 2 1 3 -1 1 -4 1 -2 1 -6 0 -4-1 -2 0 -4-1 0-1 -2-1 -2-2 -2 0 -2-1 -4-1 -2 0 -3-1 -9 0 -4-1 -6 0 -2 1 -3 0 -1 1 -2 1 -12 0 -4-1 -2-1 -4-1 -2 0 -4-1 -14 0 -4 1 -2 0 -4 1 -2 0 0 1 -4 2 -6 2 -20 0 -4 1 -2 1 -4 1 -2 1 0 1 -4 1 -2 1 -4 0 -2 1 -4 1 -2 1 -4-1 -6 0 -2-1 -10 0 -2 1 -4 0 -2 1 -5 0 -1 1 -16 0 -2-1 -4-1 -6 0 -2-1 -4 0 0-1 -2-1 -1-2 -3-1 -1-2 -1-1 -3-2 -1 0 -2-1 -4 0 -2 1 -6 0 -4 1 -2 0 -4 1 -2 0 -4 1 -1 0 -1 1 -4 0 -2 1 -18 0 -4 1 0-181 12 0 4-1 2 0 2-1 2 0 2-1 4 0 2-1 6 0 4-1 2 1 18 0 4-2 2-2 -2-2 -2-1 -1-3 1-3 2-3 -6-6 2-2 6-3 1-1 2-3 15 0 4-1 2-2 2-3 -2-2 0-1 -2 0 -4-1 -2 0 -4-1 -1-1 -1 0 -4-1 -5-5 2-6 1-2 0-1 -4-2 0-1 -2 0 -4-1 -2 0 -4-1 -2-1 -4 0 -2-1 -10 0 -2 1 -8 0 -2 1 -2 0 -4 1 -6 0 -2-1 -4 0 0-1 3-3 7 0 2-1 4 0 2-2 4-1 2-1 4 0 0-1 3-3 -1 0 -2-1 -4 0 -2-1 -4-1 -2 0 -4-1 -2 0 -4-1 -12 0 0-39 10 0 2-1 6 0 4-1 6 0 2-1 6 0 2-1 -1-3 -1 0 -3-3 1-1 1-2 15 0 2 1 2 2 2 0 4 2 4 1 6 3 1 0 1 3 0 1 2 2 4 2 4 1 1 0 1 1 4 0 2 1 4 0 2 1 4 0 2 1 4 1 2 1 0 3 1 0 2 3 1 1 2 1 4 1 2 0 4 1 2 0 4 1 2 0 4 1 4 0 2 1 6 0 2 1 4 1 1 0 1 3 1 0 2 3 -1 3 -2 2 -2 0 -4 1 -3 0 -2 3 3 1 2 1 4 0 2 1 6 0 0 1 4 0 2 2 2 0 4 2 4 1 3 0 3 1 2 1 3 1 1 1 1 2 0 3 1 2 3 1 3 0 4 1 2-1 10 0 2 1 4 0 2 1 3 1 -2 3 -1 1 -2 1 -4 1 -10 0 -2 1 -6 0 -2 1 -4 1 -1 0 -1 3 0 4 -4 2 -2 0 0 1 -4 2 0 1 4 2 2 2 2 1 3 3 1 2 4 4 2 3 4 2 2 2 4 1 2 1 3 0 1 2 0 2 -4 1 -30 0 -2 1 -9 0 0 1 -3 0 -4 1 -1 1 1 2 2 1 2 3 0 1 -2 2 -2 1 -2 2 -1 0 -1 3 2 2 0 1 2 3 0 2 4 1 2-1 4-1 0-1 2 0 4-1 2-1 3-1 19 0 2-1 12 0 4-1 2-1 4-1 2 0 4-1 2-1 4-1 1-2 -1-3 -4-1 -2-2 0-1 -2-2 2-1 0-2 2-3 0-1 2-2 2 0 2-2 3-1 1-1 1-2 -1-2 -1-1 0-3 1 0 2-1 4 0 2-1 4 0 2-1 8 0 2 1 2 0 4 1 2 1 3 0 3 3 1 0 2 3 1 0 0 1 -2 2 -2 1 -2 2 2 3 4 3 2 3 1 0 3 1 2 2 1 0 3 2 3 1 3 2 2 2 3 2 3 3 0 2 2 1 -1 3 -1 1 -1 2 -1 1 -4 1 -2 1 0 1 -4 0 -2 1 -4 1 -2 2 -2 1 4 4 3 2 1 0 2 3 -2 3 0 1 -4 1 -2 1 -2 0 -2 1 -8 0 -4 1 -2 0 -4 1 -2 0 0 1 -7 0 -3 1 -6 0 -2 1 -2 0 -1 3 3 1 2 1 4 1 2 0 0 1 4 1 2 1 0 3 -2 3 -1 0 -3 2 -1 1 -1 3 2 2 4 1 1 0 1 1 4 1 2 1 2 0 2 2 2 1 1 0 -1 1 0 2 -2 1 -4 1 -2 1 0 1 -4 1 -2 1 -2 0 2 2 2 1 4 1 2-1 6 0 4 1 2 0 4 1 2 0 4 1 14 0 4-1 8 0 4 1 6 0 2 1 4 0 2 1 3 1 3 0 0 1 4 1 2 1 1 0 0 3 -1 1 0 3 3 2 2 0 1 1 4 0 2 1 4 1 1 0 1 1 3 2 3 3 2 0 4 2 4 0 2-1 6 0 2-1 2 0 2-1 4 0 2-1 3-1 -2-3 -1 0 -2-3 2-3 3 0 3-1 4 0 2-1 18 0 4 1 2 1 4 0 2 1 10 0 0-1 2-1 2-2 -1-3 -1 0 -2-1 -4-1 -2-1 -4-1 -2-1 -3-1 -1 0 -2-1 -4-1 -18 0 -2 1 -4-1 -2-1 2-1 4-1 0-1 -4-1 -2-2 -6 0 -4-1 -2-2 -1 0 -2-3 -1-1 0-2 2-3 2-2 0-4 2-1 4-1 0-1 2 0 4-2 0-4 -4-2 0-1 -2-1 -3-2 -1-2 0-1 4-2 0-3 -2-1 -4 0 -4-1 -2-1 -1-1 1-3 2-1 4-1 0-1 2 0 6-3 4-1 2-1 6 0 4 1 1 1 0 3 -1 2 -1 1 1 3 8 0 3-3 -1-3 2-2 0-1 2-1 4 0 2-1 4 0 2 1 6 0 4 1 2 0 0 1 4 0 2 1 4 1 2 3 -1 3 -1 1 -6 0 -4 1 -2 1 -3 0 0 3 5 5 4 1 2 1 3 2 2 0 1 1 4 0 2-1 1 0 3-2 0-1 2-2 10 0 2 1 4 1 1 0 1 1 4 0 2 1 4 1 1 0 1 2 2 1 4 4 4 1 2 0 4 1 3 0 2 3 -3 2 -8 4 -1 0 -3 2 -2 1 0 1 -4 2 -2 0 2 2 4 1 1 0 1 1 4 0 2 2 2 0 3 3 1 3 -1 3 1 3 1 0 3 1 2 1 4 0 2 1 1 0 3 1 2 1 4 1 6 0 2-2 4 1 2 1 0 1 4 2 2 0 4 1 2 0 4-1 15 0 3 1 2 0 4 1 2 0 4 1 3 0 3 1 2 1 3 1 3 3 1 0 3 1 2 1 4 0 2 1 10 0 2-1 4 0 2-1 24 0 4-1 2-1 2-2 2 0 3-3 -1 0 -1-3 -1 0 -4-2 -2 0 -3-1 -3 0 -4 1 -8 0 -4 1 -24 0 -2-1 -1-1 -2-3 -1 0 -2-1 -3-2 -1 0 -2-1 -4-1 0-1 2-3 2-1 2-2 0-1 4-4 0-1 -2-6 2-1 1-2 1 0 10-5 1-1 1-2 1-1 0-3 -1 0 -2-1 -6 0 -4-1 -2 0 -2-1 -2 0 -2-1 -4-1 -1-1 -1-3 2-1 4 0 2-1 22 0 4-4 -2 0 -2-3 -3-3 -1 0 -3-2 0-1 -3-1 -2-1 -1-1 -1-3 2-1 1-2 -1-1 -1-2 -3-1 -2-2 -4-2 0-1 -2-1 -3-2 -1 0 -2-2 -2-1 0-3 -1-3 -1 0 -2-1 -3-2 0-3 3-2 2-2 4-1 0-1 3-3 2-6 0-3 -3-2 -1-1 -1 0 -4-1 -2-1 -4 0 0-1 -2-1 -4-1 -1-1 0-3 1-1 3-2 1 0 2-3 1-3 -1 0 -2-2 -2-1 -4 0 -4-1 -18 0 -2 1 -2 0 -3 3 -1 2 -1 1 -3 2 -6 3 -12 0 -2-1 -4 0 -1-1 -5 0 -2-1 -4-1 0-1 -2-1 -4-1 0-1 -2-2 -2-1 -2-2 0-1 -2-1 -4-1 -2-1 -6 0 -4-1 -2-1 -3-1 -1 0 -2-1 -2-2 -2-1 -2-2 0-1 -2-2 -2-1 -2-4 -1-1 0-3 1 0 2-1 4-1 0-1 2 0 4-2 1-1 1-3 -2-1 -4-1 0-1 -2 0 -4-1 -4-2 -2 0 -2-1 -3-2 -1 0 -2-1 -3-2 -1 0 -2-1 -3-1 -2-1 -1 0 -3-2 -3-1 -4-1 -2-2 -2-3 2-2 0-1 1-3 -1-2 -1-1 -3-1 -2-1 -3-1 -3 0 -4-1 -2-1 -4 0 0-1 -2-1 -4-1 -2-1 -3-3 3-1 1-2 3-3 0-3 -1-3 2-3 3-2 1-1 3-1 2 0 4-1 12 0 2-1 -3-3 -3-1 -1-2 -3-3 -1-3 2-3 1 0 2-3 4-1 2-2 1 0 1-3 2-1 1-2 5-5 0-1 2-6 0-3 -2-3 0-7 -2-2 -2-1 -1-2 1-2 1-1 2-3 1-1 1-2 -2-6 1 0 2-3 1 0 3-1 2-1 1-1 1-3 -2-1 -1-2 -3-3 0-3 6-3 8 0 2 1 6 0 4 1 2 1 2 0 4 2 4 1 2 2 3 1 -2 3 -3 3 -19 0 3 3 0 1 10 0 2-2 3 1 1 1 1 2 0 3 -1 3 -1 0 -1 3 2 3 2 1 4 1 2 1 10 0 2-1 4 1 1 0 -1 1 -4 1 -2 0 -3 1 0 3 3 2 2 1 0 1 4 2 2 3 -2 2 -4 1 -3 0 -3 1 -2 2 -1 0 0 6 1 1 2 1 4 1 2 0 4 1 2-1 10 0 2-1 2-2 2 0 3-3 3 0 2-1 4-1 12 0 2 1 46 0 2 1 6 0 0 1 6 0 4 1 2 0 4 1 7 0 1 1 12 0 4-1 6 0 2-1 4 1 12 0 2-1 16 0 2 1 1 0 3 1 2 2 2 0 2 3 0 1 -1 2 -3 2 -2 1 -1 0 -3 1 -2 2 -3 0 -3 3 -2 0 -1 3 2 3 0 3 -5 5 -4 1 -6 3 -1 0 -1 2 -2 1 4 4 4 2 2 2 3 1 1 1 2 0 4 1 2 1 3 0 1 1 2 0 4 1 2 1 5 0 1 1 3 2 -2 3 -1 2 -1 1 -1 2 -1 1 -3 2 -2 1 -1 0 -3 1 -2 0 -4 1 -2 0 -4 1 -2 0 0 1 -4 1 -2 1 -1 0 1 1 2 1 4 1 4 0 2 1 6 0 2-1 16 0 2 1 4 1 2 1 0 1 4 2 2 3 1 0 2 3 3 3 1 0 3 2 2 1 3 0 1 1 2 1 4 0 2 1 0 1 3 2 -2 6 2 3 3 3 4 3 1 0 -1 3 -1 0 -3 1 -2 1 -16 0 -2 1 -4 0 -2 1 -4 1 -2 1 -12 0 -4-1 -6 0 -2 1 -4 0 -2 1 -4 0 -2 1 -10 0 -2 1 -7 0 -3 1 -2 0 -3-1 -3 0 -4-1 -2 0 -4-1 0-1 -2 0 -4-1 -8 0 -4 1 -1 0 -1 1 -4 1 -2 1 -2 0 -4 2 -4 1 -1 0 1 3 1 0 3 1 2 0 4 1 24 0 2 1 4 0 2-1 6 0 4 1 6 0 2 1 4 0 2 2 2 0 2 1 2 2 2 0 3 3 1 3 0 2 1 1 0 3 1 3 2 2 2 1 0 1 4 1 2 1 0 1 4 2 1 0 1 2 3 1 1 0 2 2 4 0 2 1 4 0 2 1 4 1 2 1 3 0 1 1 2 0 4 1 8 0 4-1 0-1 2-3 1-3 -1-2 0-1 -3-3 -3-2 -1-1 0-3 1-1 3-2 1 0 3-3 3-1 18 0 2 1 4 0 6 3 2 2 4 1 2 1 4 1 2 1 4 0 2 1 4 0 2-1 1 0 3-1 2-2 1 0 3-2 2-1 1 0 3 1 2 1 4 1 1 0 1 1 6 0 4-1 2 0 4-1 2-2 4-1 4-2 2 0 2-1 12 0 4 1 10 0 6 3 -1 3 0 3 3 2 2 1 6 0 4-1 2 0 4-1 2-1 1 0 1-3 0-3 -2-2 0-1 -2-3 0-3 1-3 3-3 1-3 0-3 1-1 1-2 1 0 4-1 2-1 1-1 12 0 3 3 0 1 -4 2 -1 0 -1 3 -1 0 1 0 2 1 4 1 6 0 4-2 2 0 2-2 3-1 3 0 4-1 2 0 4-1 2 0 2-1 2 0 2-1 4-1 0-1 2-1 1-2 3-2 2-2 4-1 2-2 4-1 0-1 2-3 0-2 1-1 0-3 -1 0 -2-1 -4-1 -24 0 -1-1 -1 0 -4-1 -2-1 -4 0 0-1 -6 0 -2-1 -12 0 -4-1 -2 0 -4-1 -2-1 -4-1 0-1 2-3 2-1 2-2 0-1 1-2 -1 0 -4-6 2-1 2-2 4 0 2-1 3-2 -1-3 -2-1 -1-2 0-6 -1-1 -3-2 -1 0 -2-2 -2-1 -2-2 0-1 -1-3 -1-2 -1-1 0-3 1 0 2-1 2-2 2 0 2-1 4-1 0-1 2 0 4-1 2-1 3-1 1 0 2-3 -3-3 -3-2 0-1 4-2 2-2 4-1 0-1 2-3 4-1 4-2 2 0 3-3 0-3 -1 0 -2-2 -6-3 -1-1 -3-1 -2-1 -10 0 -2-1 -2-3 2-1 2-2 4 0 2-1 4 0 2-1 3-1 1 0 2-3 -2-3 -4-1 -2-1 -4 0 -1-1 -1 0 -3-2 -1-1 -1-3 0-3 1 0 4-2 4-4 -2 0 -3-3 -3-1 -2-2 0-3 -4-3 -2-1 -4-1 -2-2 -4-1 0-1 -3-3 1 0 3-3 3-1 1-2 1-3 1 0 1-3 2 0 2-1 4-1 8 0 2-1 8 0 2-1 3-2 1 0 2-2 2-1 2 0 3-3 3-1 2-2 4-2 1-1 1-2 1-1 0-3 3-2 2-1 10 0 2-1 4-1 0-1 2-1 4-1 6 0 0-1 2 0 4-1 2-1 1-1 3-1 2-1 1-1 3 0 2-1 4-1 0-4 -3-3 -1 0 -2-3 0-1 -1-2 -2-3 -1 0 -2-3 -4-1 -2-1 -1-1 1 0 2-1 1-2 1-3 0-3 2-1 1-2 1 0 6-3 4 0 2-1 12 0 4 1 12 0 2 1 4-1 6 0 2-1 4 0 2-1 3-1 1 0 2-1 4 0 2-1 3-1 1 0 2-1 3-2 1-2 0-1 -4-2 -1-1 -1 0 -4-1 -2 0 -4-1 -2-1 -3-3 1-3 2 0 2-2 12 0 8-4 2 0 2-1 4-1 2 0 1-1 3-1 1-2 -1-1 -3-2 -1 0 -2-1 -4-1 -1-1 -1 0 -4-1 -2-1 -4 0 -2 1 -4 1 -2 0 -6 3 -4-2 -2-2 -1-2 -2-3 -1 0 -2-1 -4-1 -2 0 -4-1 -2 0 -4-1 0-2 4-1 2-2 4 0 2-1 6 0 4 1 6 0 2-1 6 0 4-1 6 0 2 1 4-1 6 0 1-1 1 0 4-1 2-2 4-1 2-1 4 0 2-1 4 0 2 1 4 0 2 1 3 1 1 1 2 1 18 0 4 1 1 0 6 6 1 3 1 0 3 2 1 1 1 2 2 1 1 3 0 3 -3 2 -1 1 -1 3 1 3 1 1 4 1 2 0 4 1 9 0 3-1 4-2 2 0 2-1 6 0 4-1 6 0 1-1 11 0 2 1 4 1 2 1 4 0 2 1 28 0 2-1 6 0 4 1 2 1 3 1 1 2 1 1 1 2 3 1 3 3 1 0 1 3 -2 3 0 2 1 1 3 2 2 1 7 0 3 1 2 0 4 1 12 0 2-1 4 0 1-1 5 0 2-1 4 0 4-2 2-2 0-3 -2-1 -2 0 -2-1 -4 0 -2-2 12 0 2-1 4-1 1-1 1 0 4-1 2-1 1-1 3-1 2-1 1-1 3-1 2-4 1-1 0-3 2-6 1 0 2-3 0-1 3-2 -2-3 -1 0 -2-1 -4 0 -2-1 -3-1 -1 0 -2-3 3-3 3-1 2-2 6-3 3-3 -3-1 -6 0 -2 1 -3 0 -1 1 -2 1 -12 0 -4-1 -2 0 -2-1 -2 0 -2-2 -3-1 -1 0 0-3 4-1 3-3 0-2 -1 0 -3-3 -3 0 -2-1 -4 0 -2 1 -25 0 -3 1 -18 0 -1-1 -1 0 -4-1 -2-2 -4-3 -2-1 -4-1 -1-1 -13 0 -4-1 -6-3 -1-2 0-3 1 0 4-1 2-1 1-1 3 0 2-1 3-2 1 0 2-3 1-3 -1-1 0-2 -2-3 0-2 -1-1 1 0 1-3 1-2 1-1 2-3 -1-3 -4-2 -4 0 -2-1 -4 0 -2-1 -4-1 -1-1 -1 0 -6-3 0-1 -1-2 1 0 2-1 4-1 8 0 4 1 2 1 4 0 2 1 4 0 2 1 4 1 2 3 1 0 3 1 2 1 6 0 4-1 6 0 1-1 1 0 4-1 18 0 2 1 4 0 6 3 1 0 0 3 -1 1 -3 2 -1 1 -2 1 -4 1 0 1 2 2 4 2 4 1 2 2 4 1 2 2 4 1 0 4 -4 1 -2 1 0 1 -4 1 -2 1 0 1 -2 2 0 3 2 1 2 2 3 0 1 1 2 0 4 1 8 0 4-1 2-1 4-1 2-1 4 2 3 3 3 2 2 1 0 1 4 1 2 2 4 2 14 0 4-1 2 0 4-1 2 0 1-1 3 0 2-1 4-1 2-1 1 0 3-1 1-2 1-3 0-9 3-3 1 0 3-3 3-1 2-1 4-1 2 0 4-1 2-2 1 0 3-2 2-1 4-1 2-2 4-1 2-1 1-1 3 0 2-1 4-1 8 0 4 1 12 0 2 1 2 0 4 2 4 1 2 0 0 1 24 0 4 1 8 0 4 1 14 0 4-1 2-1 4 0 2-1 4 0 2-1 4 0 2-1 4 0 0-1 2 0 4-1 2 0 4-1 2 0 3-1 -2-3 -1 0 -2-1 -3-2 -1 0 -2-1 -4-1 0-1 -2 0 -4-2 -1-1 0-3 3-3 1-3 0-3 3 0 4-1 2 0 4-1 2-1 4-1 2 0 4-1 2-2 3-2 -1-3zM2644 303l-2 1 -4 1 -2 0 -4 1 -5 0 -1 1 -2 1 -4 1 0 4 4 2 2 0 0 1 4 1 2 1 -2 3 -1 0 -5 5 -2 1 -3 3 1 3 1 0 3 1 2 1 10 0 2-1 1-1 3-1 2-2 4-1 4-2 2 0 2-1 4-1 1-1 1-3 -2-3 0-3 1-3 0-3 -1-3 -6-3zM2297 312l-1 0 -2 2 -3 1 -1 2 -1 1 1 1 4 1 12 0 2-1 3-1 1 0 6-3 3-3 -7 0 -2-1 -10 0 -2 1zM2238 318l4 4 4 1 6 0 2-1 3-1 1-1 0-2 -4 0 -2-1 -4 0 -2-1 -4 0zM2395 330l1 1 2 1 4 1 2 0 4 1 2 0 3-1 1 0 2-1 4-1 2-1 -2 0 -4-1 -6 0 -2-1 -6 0 -4 1 -2 1zM1867 333l1 1 6 0 1-1zM2593 333l-3 1 -2 1 -3 1 3 2 2 1 4 0 2-1 4-1 0-2 -3-2zM1690 414l0 1 4 2 1 0 1 1 10 0 0-1 2-1 3-2 -3-1 -2-1 -4-1 -2 1 -4 0 -2 1zM1699 429l1 2 2 2 10 0 0-1 -3-3 -1 0 -2-1 -4-1 -2 1zM1771 441l-2 3 3 2 2 1 0 1 12 0 4-2 0-2 -4-2 0-1 -2-1 -3 0 -3-1 -4 1 -2 1zM1725 456l1 1 4 1 8 0 4-1 1-1zM1799 462l1 3 2 1 2-1 1 0 0-3zM1516 660l0 4 4 0 2 1 4-1 2-1 1 0 1-3 -4-2 -4 0 -2 1zM1507 678l0 3 3 3 0 1 4 2 1 0 1 1 4 1 2 0 4 1 2-1 4 0 2-1 1-1 3-1 1-2 0-3 -1 0 -4-1 -2-1 -3-1zM1570 732l-2 2 -4 1 0 1 6 0 3-1 1 0 3-3zM1328 774l-4 1 -12 0 -2 1 -3 1 -1 1 -2 1 -4 1 -2 2 -4 1 -3 0 1 1 1 2 1 3 0 3 4 1 2 0 4 1 2 0 4-1 2 0 1-1 3 0 2-1 4-1 14 0 1-1 3 0 2-1 4-1 2-1 1 0 3-1 2-2 1 0 2-3 -2-3 -1 0 -2-1 -6-2zM522 786l2 1 6 0 2-1 -2-1 -4 0 -2 1zM1270 795l-2 1 -4 0 -2 1 -4 1 -2 3 -1 0 -3 2 -2 1 -4 0 -2 1 -4 1 -2 0 -3 1 0 3 3 2 2 1 0 1 3 2 -2 3 -1 1 -2 1 -4 1 -3 0 -3 1 -2 0 -4 1 -2 1 -2 0 -2 2 -2 1 0 3 -1 0 -2 6 3 2 2 2 4 2 1 0 1 3 1 0 -1 2 0 1 -1 3 -1 2 -1 1 -1 3 4 4 18 0 1-1 3-2 1-1 -1-3 2-1 3-2 1 0 2-3 3-3 1 0 2-1 4-1 2-1 16 0 2 1 4 0 2-1 1 0 3-3 -1-3 0-3 1 0 1-3 1-2 1-1 2-3 7 0 2 1 10 0 6-3 1-1 1-3 -6-3 -4-6 -4-2 -6 0 -4 1 -12 0 -2-1 -4 0 -1-1 -1 0 -4-1 -2-1 -1-1 1 0 2-3 1 0 2-3 0-3zM738 798l-2 1 -2 2 -1 0 3 3 6 0 4-1 2-2 0-3 -2 0 -4-1 -2 1zM1000 867l0 1 4 2 3-3zM1005 882l-1 1 -3 2 0 3 3 2 2 0 4 1 2-1 4-1 2-1 0-1 1-2 -1-1 0-2 -2-1 -4-1 -2 0 -4 1zM1261 1131l-1 3 2 1 2 0 4 1 2 0 4 1 1 0 1 1 4 1 2 0 4-1 1-1 1-3 -6-3 -2 0 -4-1 -6 0 -2 1zM3064 291l11 0 -1 2 -4 1 -2-1 -4-1zM2138 297l2 0 4-1 2 0 4 1 3 0 -1 1 -2 1 -4 1 -2 0 -4-1 -2-2 -1 0zM538 302l10 0 2 1 2 0 2 1 2 2 1 0 2 3 -1 3 -4 4 -4 1 -2 1 -1 0 -3 1 -2 2 -2 0 -1 3 -1 0 -2 2 -4 1 -2 0 -4-1 -2-1 -1-1 -3-1 -6 0 0-10 4 0 0-1 2 0 4-1 2-1 1-1 3-1 1-2 1-1 4-1 0-1zM538 333l4-1 18 0 2 1 3 0 3 3 1 0 2 3 1 2 0 1 2 3 1 0 2 3 3 3 0 3 -2 3 -1 0 -2 3 -1 1 -1 2 1 2 4 4 2 3 1 0 5 5 4 1 2 1 4 0 2 1 4 0 2 1 2 0 4 2 10 0 2-1 3-1 8 0 1 3 1 0 -1 1 0 2 -1 3 -1 2 -4 1 -2 1 -4 0 -2-1 -4 0 -2-1 -6 0 -4 1 -1 0 1 1 4 2 1 3 -1 1 -4 1 -2 1 -22 0 -2-1 -4 0 -2-1 -16 0 -2 1 -4 0 -2 1 -5 0 -1 1 -4 1 -2 1 -2 0 -2 2 -2 1 0 2 -4 1 -12 0 0-74 4 0 2-1 4 0 2-1 4-1 2 0 4-1zM752 348l2-1 4-1 6 0 2 2 -6 3 -2 0 -4-1 -4-2zM598 354l7 0 3 1 2 2 2 0 -2 3 -2 1 -6 0 -3-1 -1 0 -2-2 -2-1 2-2 0-1zM644 363l2-1 4 0 2 1 2 0 1 3 -1 3 -2 2 -2 1 0 1 -2-1 -2 0 -1-3 -1-2 -1-1 0-3zM1862 386l2-1 16 0 2 1 3 1 -3 1 -1 2 -1 1 -3 2 -1 1 -2 1 -4 1 -2 0 -4-1 -4-2 -1-3 1-3zM866 411l2-1 4-1 8 0 4 1 1 1 1 2 3 1 1 2 1 1 -1 2 -3 1 -3 3 2 1 4 1 8 0 4-1 6 0 2 1 4 1 1 0 1 1 4 1 2 1 -1 3 -1 2 -3 1 -1 1 -2 1 -4 1 -1 0 -1 1 -3 2 -1 1 -6 3 -2 2 -6 0 -4-1 -2 0 -4-1 -1-1 1-3 0-3 -2-3 0-2 -1-1 -2-6 -1 0 -2-1 -10 0 -2 1 -2 0 -2 1 -2 2 0 2 -6 6 -4 1 -2 0 -4 3 -1 3 -1 1 -4 1 -6 0 -2-2 -1 0 -1-3 -2-2 0-1 -1-3 -1 0 -4-2 0-1 -2-1 -4-1 -2-2 -3-2 0-2 -1-1 2-3 2 0 2-2 18 0 4 1 20 0 4-1 4-4 2 0 2-2 2-1zM1630 423l1 0 3 2 1 1 -1 2 -4 0 -2-2 1-3zM1010 426l2-1 6 0 4 1 6 0 2 1 4 0 2 1 4 0 2 1 2 0 -4 2 -4 0 -2 1 -6 0 -4-1 -6 0 -2-1 -4 0 0-1 -2-1 -3-2zM1060 450l4-1 12 0 2 1 4 0 0 1 -2 2 -2 1 -2 2 -1 0 -3 2 -2 1 -2 0 -2 1 -2 0 -4 1 -6 0 -2-1 -1-1 1 0 2-3 4-4 0-2zM1550 477l1 0 -2 0zM995 486l8 0 1 1 2 1 4 1 2 1 4 1 2 1 3 0 -2 3 -3 3 -1 0 -3 3 -2 1 -4 1 -2 1 0 1 -3 2 -1 3 0 3 1 0 -1 0 0 3 -2 3 0 1 -4 2 -2 0 -4 1 -2-1 -4 0 -2-1 -3-2 -1 0 -2-1 -6 0 -3-1 -3 1 -6 0 -4-1 -2 0 -2-1 2-1 1-2 1 0 4-1 4-2 2 0 2-2 2-1 2 0 3-3 3-1 2-1 4 0 1-1 1 0 4-1 2-1 1-1 2-6 0-1 1-2 2-3zM1076 489l8 0 4 3 1 0 -1 2 -10 0 -4-2 0-3zM1090 496l4 0 2 1 4 1 2 0 0 1 4 0 2 1 4 1 2 1 4 0 2 1 6 0 4 1 4 0 0 3 -1 3 -1 1 0 2 -2 3 0 2 -1 1 -3 2 -2 2 -4 0 -2 1 -6 0 -4-1 -26 0 -4-1 -6 0 -2-1 -4-1 0-1 -2-3 2-3 4-1 2-2 4-1 4-2 2 0 3-3 2-3 1-1 0-2zM1138 501l4-1 2 0 4 1 0 1 -4 1 -2 0 -4-1zM1064 537l6 0 2-1 4 1 2 0 0 3 -2 2 -6 3 -4 1 -2-1 -4-1 0-1 -1-3 1-1 3-2zM1372 600l7 0 -1 1 0 2 -2 1 -12 0 -1-1 1 0 2-1 4-1 1-1zM1412 612l2-1 6 0 4 1 1 0 1 1 4 0 2 1 6 0 4-1 2-1 4-1 2 0 4-1 8 0 2 2 -1 3 2 6 -1 3 -4 2 -22 0 -2-1 -6 0 -1-1 -3 0 -2-1 -6 0 -4-1 -2 0 -4-1 -2-1 -4-1 -12 0 0-1 10 0 2-1 2-2 2 0 2-1 3-2zM1388 621l0 2 -1-2zM1384 624l2 0 -2 1zM532 717l8 0 2 1 12 0 2 1 4 1 1 0 1 2 2 1 -4 2 -4 1 -18 0 -2-1 -4 0 -2-1 -3-1 -1 0 -2-3 2-1 4-1zM1294 723l4-1 6 0 2 1 3 0 1 1 2 1 3 1 0 3 -3 1 -2 1 -4 1 -12 0 -2 1 -10 0 -2-1 -1-3 1 0 2-2 4-1 2-1 4-1zM1324 747l3 0 -3 1 -1-1zM1072 759l7 0 -1 0 -2 1 -4 0 -1-1zM883 798l11 0 2 1 2 2 1 0 -1 2 0 1 -2 1 -4 1 -8 0 -4-1 -2-2 -1-2 1-1 4-2zM920 915l8 0 0 3 1 0 -1 1 -6 0 0-1 -3-3zM932 923l5 0 3 1 1 0 0 3 -1 1 -2 0 -6-3 -1-1zM974 936l2-1 4-1 6 0 2 1 3 0 3 1 3 0 -3 2 -6 0 -2 1 -10 0 -2-1 -1-2z"/>
<path fill="#a11b9b" fill-rule="evenodd" d="M518 349l6 0 2 1 4 1 6 3 0 2 -1 1 -3 1 -2 2 -2 0 -4 4 -4 2 -2 0 0 1 -4 0 0-17zM2060 354l13 0 1 1 4 0 2 1 4 1 2 0 4 3 0 3 -1 0 -3 2 -6 3 -2 0 -4 1 -1 0 -1 1 -4 0 -2 1 -12 0 -3-2 -1 0 -2-1 -3-2 -1 0 -2-2 -4-2 -1-2 1-1 3-2 1 0 2-1 6 0 4-1 2 0 3-1zM2288 360l2 0 4-1 18 0 2-1 4 1 6 0 2 1 4 0 2 2 4 1 1 0 1 1 4 2 1 0 1 1 4 1 2 2 4 1 2 1 0 1 4 1 2 1 0 1 4 2 1 3 -1 2 -4 1 -2 1 -6 0 -4 1 -24 0 -2 1 -5 0 -1 1 -4 1 -2 1 0 1 -2 2 -2 3 0 6 1 0 1 3 2 2 2 1 4 1 6 0 2-1 6 0 4-1 12 0 2 1 1 0 -1 0 -3 3 -3 2 -1 1 1 2 4 2 12 0 2 1 3 1 1 0 2 1 4 1 2 1 4 0 2 1 6 0 4 1 6 0 2 1 6 0 4-1 6 0 2-1 4 0 0-1 2-1 2-2 2-1 2-2 4-1 2 0 4-1 6 0 2 1 6 0 4 1 6 0 2 1 2-1 4 0 4-1 2 0 4 1 2 0 0 1 4 2 2 2 4 2 2 2 1 0 -3 3 -1 0 -3 1 -2 1 -4 1 -1 0 -1 1 -3 2 -3 3 -1 0 -3 1 -2 2 -2 0 1 3 1 1 2 1 3 1 1 1 2 0 4 1 2 1 0 1 4 2 -6 3 -1 0 -3 2 -2 1 2 3 2 0 2 1 18 0 2-1 4-3 -3-3 -1 0 -2-1 -3-2 5 0 4-1 2 0 3 1 -2 3 3 1 12 0 1-1 0-3 -1-1 -4-1 -2 0 -3-1 11 0 4-1 2-1 12 0 4 1 2 0 4-1 2 0 12-6 4 0 2 1 12 0 4-1 6-3 1-1 2-6 0-6 3-2 0-1 2-1 4 0 2-1 10 0 2 1 3 1 1 1 1 2 1 3 1 0 3 2 2 0 4 1 18 0 2 1 4 1 2 0 4 1 1 0 1 2 4 1 0 1 -3 2 3 1 8 0 4 1 2 1 3 0 1 1 2 0 4 1 2 1 0 1 4 1 2 2 4 2 1 0 1 1 4 1 2 1 8 0 2 1 8 0 4 1 2 1 3 0 3 3 4 0 3-3 3 0 2-1 4 0 2-1 4-1 2-1 4-1 0-1 2-1 3-2 1 0 2-1 4-1 12 0 2 1 3 1 2 0 1 2 2 1 -1 3 -1 2 -2 2 -4 2 -2 2 -3 1 1 3 4 2 4 0 2 1 10 0 2-1 4 0 2-1 6 0 4 1 8 0 4-1 6 0 0-1 2 0 4-1 6 0 2-1 6 0 4-1 0-3 2-3 4-3 3-3 -1 0 0-3 -1-3 1-3 3-3 1 0 2-2 2-1 2 0 2-1 4 0 2-1 4 0 1-1 -3-3 -2-1 -2-2 -6-3 1-3 1 0 4-1 4-2 16 0 4 1 2-1 11 0 1 1 4 1 2 2 4 2 1 0 1 1 4 1 2 0 3 1 22 0 1 3 0 3 4 4 4 2 1 0 1 1 4 2 0 2 -1 1 -1 3 2 3 2 2 4 1 2 2 4 0 2 1 6 0 4-1 2-2 1 0 3-2 1-1 9 0 1 3 1 2 0 1 2 2 4 1 2 1 4 0 2 1 10 0 2-1 4 0 2 1 4 1 2 2 4 1 2 2 4 0 0 754 -2572 0 0-168 8 0 4 2 4 0 2 1 3 0 1 1 2 0 4 1 18 0 2-1 6 0 2-1 4 0 4-1 2 0 4-1 2 0 3-1 9 0 4 1 2 1 12 0 4-1 2 0 1-1 3-1 2-2 4-1 2 0 4-1 1-1 1 0 4-2 2-2 1-2 -1-1 -1-2 -1-3 2-1 4-1 0-1 2 0 4-2 1-1 1 0 4-2 1-1 1 0 4-1 2-2 4-2 0-1 2-3 3-3 1 0 2-2 2-1 2 0 2-1 6 0 4-1 2 0 2-1 4 0 4-1 2-1 6 0 2-1 8 0 2-1 4 0 2-1 10 0 2 1 10 0 2 1 8 0 2 1 12 0 2-1 12 0 4-1 6 0 2-1 18 0 4 1 2 1 1 0 3 1 2 2 4 0 2 1 6 0 3-1 3 0 4-1 2-1 1-1 3 0 2-1 4-1 1-1 1 0 4-1 2-2 1 0 3-1 4-2 16 0 4-1 6 0 2 1 22 0 2-1 4-1 2 0 2-1 2 0 2-1 4 0 2-2 4-1 2 0 4-1 8 0 4 1 2 0 4 1 1 0 1 1 4 1 3 1 2 3 1 0 6 3 1 0 1 1 12 0 2-1 1 0 3-1 16 0 2 1 5 0 1 1 4 1 2 1 3 0 1 1 2 0 4 1 2 1 3 0 3 3 0 1 1 2 3 2 2 2 4 1 2 1 1 0 3 1 2 1 4 1 2 0 0 1 4 0 2 1 4 1 2 2 4 1 2 0 0 1 4 0 2 1 4 1 2 0 0 1 6 0 4 1 2 0 4 1 2 1 6 0 3-1 0-3 -2-3 2-3 1 0 2-1 3-2 1 0 2-3 1 0 2-3 1 0 2-3 4 0 2-1 4 0 2-1 4 0 1-1 1 0 4-2 0-2 -1-2 -3 0 -2-1 -4-1 -2-1 -4-1 -2-2 -1-3 0-6 -3-2 0-1 -2-1 -4-1 0-1 -8 0 -4-1 -2 0 -4-1 -2 0 -1-1 -3-1 -2-2 -6-3 -4 0 -2-1 -4-1 -2-1 -2-3 1-3 1 0 1-3 -3-3 -2-1 -5-5 2-3 1-1 0-7 -1-1 -3-2 -1-1 -1 0 -4-2 -1-1 -1 0 -4-1 -2-1 -3-1 -1 0 -2-1 -4-1 -2 0 -1-1 -9 0 -2-1 -4 0 -2-1 -4-1 -2 0 -4-1 -2-1 -4 0 -1-1 -1 0 -4-1 -2 0 -4-1 -1-1 -1 0 -4-1 -4-2 -2 0 -2-1 -4-1 -8 0 -1-1 1-1 0-2 2-3 1 0 2-3 1 0 2-3 10-5 2 0 1-1 15 0 2-1 3-2 0-3 -1-3 4 0 0 1 4 1 2 1 1 0 3 2 2 1 1 0 3 1 2 0 1-1 3 0 2-1 4 0 2-1 4-1 2 0 4-1 2 0 4-1 6 0 2 1 4 1 8 4 4 1 2 1 3 0 3 3 1 0 -1 1 -2 1 -4 1 -1 0 -1 1 -4 1 -2 1 2 1 4 0 2 1 4 0 2 1 5 0 1 1 4 0 2 2 2 0 2 2 0 2 -3 2 -1 1 -1 2 1 2 4 2 2 2 0 1 4 1 2 0 4 1 2 0 4-1 6 0 2-1 4 0 1-1 1 0 4-1 2 0 4 1 7 0 1 1 6 0 1-1 3 0 2-1 3-2 1 0 2-2 4-2 2-2 4-2 1-1 1-3 -2-1 -3-2 -1 0 0-6 -1-3 -1-1 -3-2 2-3 1 0 2-3 0-1 1-2 2-3 1 0 2-2 12 0 4 1 2 0 4-1 2 0 1-1 3-1 1-2 -1-3 -4-2 -1-1 1-2 1-1 3-1 2-1 1-1 3-1 4-2 2 0 2-2 3-1 1 0 1-3 1-1 4-1 2 0 2-1 8 0 2-1 4 0 2-1 6 0 3-1 7 0 2 1 4 0 2 2 3 0 1 1 2 1 3 1 -3 3 -6 3 -2 0 0 2 -4 1 -12 0 -2-1 -4 0 -2 1 -1 0 -2 3 3 1 14 0 3-1 1-1 2-1 10 0 2 1 4 1 4 0 4 2 4 0 3 1 2 0 1 2 0 1 2 3 4-1 2-1 1-1 3-1 2-2 4-1 2-2 4-2 4-4 2-1 2-4 1-1 -1 0 -2-3 -4-2 0-1 -2-1 -4-1 -2-1 -4-1 -2-2 -6-3 -3-3 2-6 1 0 2-3 0-1 1-2 -1-1 0-2 -1-3 1-3 3-3 1 0 2-2 6 0 4-1 2 0 4 1 14 0 1-1 3-1 2-2 4-2 2-2 4-1 0-1 2-1 4-1 0-1 3-3 3-2 0-1 3-3 3-1 2-1 3-1 15 0 4 1 2 0 4-1 2-1 2-2 -4 0 -4-1 -6 0 -2-1 -4 0 0-1 -2 0 -4-1 -2-2 -1 0 1 0 2-1 4 0 2-1 1-1 3 0 3-3 3-1 4-2 2 0 2-1 4-1 1-1 1 0 4-1 2 0 4-1 0-1 2 0 6-3 4-1 2-1 1-1 9 0 2 1 4 1 2 1 1 0 3 1 2 1 4 1 8 0 4 1 12 0 2 1 4 0 2 1 3 0 3 3 1 0 2 3 1 1 1 2 1 3 1 0 5 5 4 1 2 0 4 1 2 1 4 0 2 1 3 0 1 1 2 1 3 1 1 1 2 1 4 0 3 1 22 0 1 1 6 0 4 1 14 0 4-1 1-1 2-1 2-2 1 0 2-1 4-1 0-3 -1-1 -3 0 -2-1 -3-1 -2-1 -1 0 -4-2 0-1 -2-1 -3-2 -3 0 -4-1 -2-1 -4 0 0-1 -2-1 -2-2 -1-3 0-3 -1 0 0-3 -2-3 0-2 -1-1 -2-6 -1 0 -2-2 -2-1 -2 0 -2-1 -4-1 0-1 -2-1 -4-1 0-4 2-3 1-3 -1-3 1-3 1 0 2-3 0-2 1-1 -1 0 -3-3 -3-1 -2 0 -4-1 0-1 -2-1 -3-2 -1-2 0-1 -2-1 -4-1 -8 0 -2-1 -4 0 -4-1 -2 0 -4-1 -2-1 -3-3 1-3 -1-3 -1 0 -1-3 1-3 0-1 1-2 -1-2 0-6 1-1 -1 0 -2-1 -4-1 0-1 -2-1 -3-2 -1 0 0-4 2-2 2-1 2-4 1-1 3-1 2-1 1-1 3-1 2-2 0-1 2-2 1-3 1-1 0-2 -4-2 -1-1 -1 0 -4-1 -2-2 -1 0 -3-1 -2-1 -4 0 -2-1 -18 0 -4-1 -2-1 -3-1 -1 0 -1-3 2 0 2-3 1 0 3-3 1-3 -1-3 0-6 -1 0 -2-6 3-3 3-1 1-2 1-3 -2-6 -2-3 -2-1 -2-2 0-1 -2-2 2-1 1-2 1 0 4-1 2-1 3-1 1 0 1-3 -1-3 1-3 3-3 1-3 0-3 1 0 3-3 3-1 1-2 1-3 2-3 2 0 2-2 2-1 2 0 3-3 2-3 -3-2 -1-1 -1 0 -4-1 -2 1 -1 0 -3 1 -2 1 -4 1 -1 0 -1 1 -2-1 -2 0 -2-3 3-3 3-1 8 0 4-1 1-1 1 0 4-1 2-2 6 0 4 4 2 1 4 1 12 0 2-1 4-1 2 0 2-1 5 0 3 1 2 1 4 1 8 0 4-1 2 0 6-3 4-1 2-2 3-2 -2-3 -1 0 -2-2 -3-1 -13 0 -2-1 -4 0 -6-3 -1-2 -1-1 -4-1 0-1 -3-3 3-1 4-1 1-1 1 0 4-1 2-2 -2-1 -2-2 -2 0 -3-2 0-1 -2-3 3-1 2-1 4-1 2 0 4-1 2-1 3-1 1 0 2-1 4-1 1-1 1 0 4-1 12 0 2-1 4 0 1-1 11 0 2 3 1 0 1 3 -2 3 -3 3 3 3 0 1 10 0 2-2 3-2 15 0 4-1 17 0 3 1 28 0 2 1 4 0 2 1 4 0 2 1 3 0 1 1 8 0 4 1 8 0 4 1 3 0 -3 3 0 1 -4 2 -1 3 1 2 3 1 1 1 24 0 2 1 4 1 1 3 -1 3 0 6 2 3 1 0 3 1 2 0 3-1 1 0 3-3 3-2 0-1 2-1 4-1 0-1 3-3 2-6 -5 0 -4-1 -2 0 -4-1 0-1 -2-1 -4-1 -1-1 -1-3 -1 0 3 0 4-1 2-1 4 0 2-1 4 0 2-1 4-1 1-1 1-2 2-1 -2-1 -1-2 0-3 1-1 6 0 3 1 1 1 2 1 4 1 10 0 2 1 2 0 4 1 12 0 2-1 10 0 2 1 3 1 1 1 2 0 1-1 0-3 -3 0 -4-1 -2 0 -2-2 -1-3 1-3 -4-2 -1-1 -3-1 -2-2 -1 0 1 0 3-3 3 0 2-1 4 0 2-1 10 0 2 1 22 0 2-1 12 0 3-1 -3-1 -1-2 -1-3 2-1 4 0 2-1 6 0 4 2 1 3 1 2 6 3 4 0 2 1 12 0 4-1 2-1 3-1 1-1 0-3 -2-2 -2 0 -2-1 -4-1 -3 0 -3-1 -12 0 -2-3 14 0 4-1 4-2 4 0 4-1 8 0 4-1 1-1 1 0 4-2 1-1 1 0 4-2 1-1 1 0 4-1 2-1 1-1 2-1 6-2 1 0 2-1 4-1 8 0 4 1 2 2 4 1 2 1 2 0 2 1 2 0 4-1 2-1 4-1 2-1 4-1 20 0 4-1 2 0 4-1 12 0 2 1 18 0 2-1 4 0 4-1 2 0 4-1 2-1 4-1 2-1 1-1 -1 0 0-3 -2-1 -3-2 -1 0 -3-3 -3-1 -14-7 -6 0 -4 1 -2 1 -1 0 -3 2 -2 1 0 1 -2 2 0 3 -1 3 -1 1 -2 1 -4 0 -2 1 -4-1 -12 0 -2 1 0 1 -6 0 -1-1 1 0 2-1 3-2 1 0 1-3 1 0 4-2 0-1 2-1 4-1 0-1 3-3 0-3 1-3 2-2 0-1 1-3 0-3 -3-3 -2 0 -2-2 -4-2 -2-2 -4-2 0-1 -2-2 -2-1 2-1 12 0 2-1 10 0 2-1 4 1 2 0 4 1 2 1 1 0 3 2 2 1 4 0 2-1 4 0 4-2 2 0 2-1 4-1 1-1 5 0 2-1 4 0 2-1 4 0 1-1 20 0 3 1 2 1 3 1 1 1 1 2 1 3 0 1 4 2 1 0 1 1 6 0 2-1 2 0 2-1 4-1 1-1 1 0 4-1 2-1 4 0 2-2 3-2 0-3 1 0 2-6 0-1 2-2 2 0 2-1 4-1 2 0 3-1zM2915 435l3 1 2 1 12 0 4-1 1-1 -1-2 -6 0 -4 1 -2 0 -4 1zM2108 444l0 1 -3 2 -3 3 -4 0 -2 2 -4 0 -2 1 -1 0 1 1 12 0 0-1 2 0 4-1 2 0 4-1 2 0 1-1 3-1 2-2 0-1 1-2 -1 0 -2-1 -10 0zM2746 465l4 0 -4-1zM1609 549l1 2 2 2 4 1 2 1 3 0 1 1 0-1 1-3 -1-1 -3-2zM2786 591l0 1 -4 2 -1 3 0 9 1 1 4 2 1 0 1 1 6 0 2-1 10 0 0 1 4 1 6 0 2-1 1-1 2-3 1 0 1-3 0-3 -1-2 -1-1 -3-1 -1-2 -1 0 -6-3 -4 0 -2-1 -4 0 -2-1 -6 0 -4 1zM1675 612l1 2 2 2 4 1 2 1 5 0 1-1 1-2 -1 0 -2-1 -2-2zM1595 621l-1 0 -2 3 -1 0 -2 3 -3 3 0 1 -3 2 -3 3 -1 0 -2 3 3 3 2 1 4 0 2 1 4 0 2 1 4 0 2-1 4 0 2-1 3-1 1-1 0-2 1-3 1-1 3-2 1 0 3-3 3-2 0-1 1-3 -1 0 -4-1 -2-1 -1-1 -3 0 -2-1 -4 0 -2-1 -4 0 -2 1zM1239 915l1 1 3 2 3 3 2 0 2 1 2 0 1-1 3-1 1-2 0-3 -1-1 -4-1 -6 0 -2 1 -4 0zM1213 936l1 1 1 2 1 1 4 1 2 1 4-1 0-2 -4-2 0-1zM1289 981l-1 1 -2 1 -3 1 -1 2 0 1 -2 3 -4 1 -2 1 -4 0 -2 1 -4 3 0 1 2 2 2 1 3 2 1 0 2 2 2 1 1 0 -3 3 -1 0 -3 1 -2 2 -1 0 -2 3 1 3 0 3 1 3 1 0 2 2 3 1 1 0 2 1 4 1 6 0 2 1 4 0 2 1 4 1 2 1 10 0 2-1 3-2 1 0 2-3 0-1 1-2 0-3 1-3 -1-3 -1 0 -2-3 2-3 4-1 2-1 1-1 1-3 -2 0 -2-2 -3-1 -3 0 -4-1 -6 0 -2-1 -1-1 -3-2 0-1 1-3 2-3 -1-3 -3-3zM1261 1041l-3 2 -2 1 -1 0 -3 2 -1-2 -1 0 -4-1 -6 0 -1 1 1 1 4 1 2 1 6 0 4 1 8 0 4 1 12 0 2 1 7 0 3 1 12 0 0-1 -2-3 -2 0 -3-3 -3-1 -4-2 -4 0 -4-1 -14 0 -4 1zM1312 1050l0 1 3 2 3 0 4-2 0-1zM1276 1062l-2 1 -6 0 -4 1 -2 0 -4 1 -4 0 -2 1 -6 0 -2 1 -6 0 -4 1 -1 0 -1 3 0 3 2 3 0 1 4 2 1 0 0 3 -1 1 -6 0 -4 1 -2 1 -1 0 -3 3 -1 3 1 2 4 2 2 2 1 0 3 2 2 2 4 2 2 2 3 1 -3 2 -2 1 -1 0 -3 2 -2 1 2 3 0 1 4 1 2 1 0 2 1 1 -1 1 -1 2 -1 3 0 1 -4 4 -2 1 -1 0 -3 1 -2 0 -4 1 -2 1 2 2 4 1 2-1 4 0 2-1 4 0 2 1 4 0 2 1 1 0 3 2 2 1 1 0 1 3 4 4 4 1 2 2 4 1 2 1 4 1 2 1 4 0 2 1 6 0 4-1 4-2 2 0 3-3 2-3 1 0 4-6 1-3 1 0 0-3 2-3 -2-1 -2-2 -2 0 -2-1 -4-1 0-1 -2-1 -4-1 -1-1 -1 0 -4-1 -2-1 -4 0 -2-1 -10 0 -2-1 -4-1 0-1 4-1 1-2 1 0 4-2 1-1 1 0 4-1 2-1 6 0 4-1 0-4 -1-2 0-3 1 0 0-3 2-3 4-1 2-1 24 0 1-1 2-3 -2-3 -1 0 -2-6 -1 0 -2-3 1-3 0-3 -6-3 -2 0 -2-1 -3-2 -1 0 -2-1 -4-1 -2-1zM921 1116l-1 1 -4 1 -2 1 -2 0 4 2 3 1 7 0 2-1 4-1 0-1 -6-3zM894 1122l2 1 2 2 4-1 2-2 -2-1 -4 0 -2 1zM1354 1128l-2 3 2 2 6 0 4-1 2 0 2-1 2 0 2-1 4-1 1-1 -1 0 -4-1 -14 0zM518 376l12 0 2 1 4 1 3 0 3 1 12 0 2 1 3 1 0 3 -2 3 -1 1 -2 0 -2 2 -4 2 -4 1 -1 0 -1 1 -4 0 0-4 4-1 2 0 4-1 2 0 3-1 -3-1 -1-2 -1 0 -4-1 -6 0 -2 1 -22 0 0-8zM2036 378l6 0 -4 1 -2 0 -3-1zM2066 407l2-1 6 0 4 1 2 1 3 0 -3 3 -2-1 -4 0 -2-1 -6 0 -3-1zM2528 429l8 0 0 1 4 1 2 0 4 1 7 0 1 1 6 0 4 1 2 1 2 0 -1 3 -1 1 -2 1 -6 0 -4-1 -6 0 -1-1 -5 0 -2-1 -4 0 -8-4 -1-1 0-3zM1132 612l8 0 -2 3 -2 1 -6 0 -1-1 1 0 1-3zM1066 633l1 0 -1 2 -2-2zM1106 642l2 0 4-1 2 0 3 1 0 3 -3 2 -2 1 -6 0 -4-2 -1-1 1-1 3-2zM1072 654l4-1 2 0 4 1 6 3 0 4 -4 1 -2 1 0 1 -4 0 -2 2 -2 0 -2 1 -2 0 -3-1 3-2 0-1 -1-3 -2-3 3-2 0-1zM548 664l2 0 4 1 2 0 4 1 2 0 0 1 4 1 8 0 4 1 2 0 0 1 4 1 1 1 1 3 -2 3 -1 0 -2 3 0 3 -1 0 -2 2 -4 1 -8 0 -4-1 -2-2 -1 0 -1-3 2-1 2-4 1-1 -1-1 -3-1 0-1 -3 0 -2-1 -4-1 -2-1 -2-3zM1024 699l4-2 6 0 2 1 4 0 2 1 6 0 4-1 12 0 2 1 1 0 3 1 2 2 4 0 2 1 4 1 2 1 -2 3 -2 0 -2 1 -2-1 -6 0 -4-1 -12 0 -2 1 -2 0 -4 2 -10 0 -2-1 -6 0 -1-1 -3 0 -3-3 1-2 0-1zM1160 702l2-1 4-1 2 0 4-1 2 1 4 0 2 1 4 0 2 1 1 0 3 2 2 1 0 1 3 2 3 3 3 0 -3 2 -2 2 -4 0 -2 1 -4 1 -12 0 -2-1 -4 0 -2-2 -4-1 -2-1 -1-1 -3-1 -2 0 -4-1 -2 0 -1-1 -2-3 3-1 2-1 6 0 2-1zM1114 708l4-1 2 1 3 0 -3 2 -2 1 -4 1 -2 0 -2-1 2 0zM1016 714l2-1 6 0 4 1 6 3 2 0 0 1 4 2 2 0 4-1 1-2 1-1 3-2 4 0 3 1 2 0 4 1 2 1 2 0 2 1 1 2 -1 3 0 1 -3 2 -1 1 -2 1 -4 0 -2 1 -4-1 -6 0 -2-1 -3-1 -1 0 -2-2 -4-2 -14 0 -4-1 -2-1 -3-2 -1-1 0-1 2-2zM1538 744l2-1 6 0 4 1 5 0 1 1 2 1 4 1 1 3 -1 2 -4 0 -2 1 -4-1 -12 0 -2-1 -12 0 -1-1 -1-3 2 0 2-1 4 0 4-2zM1174 750l1 0 3 1 2 0 4 1 1 1 1 3 0 2 1 1 1 3 0 3 2 2 2 1 0 1 4 1 2 1 4 3 2 3 1 0 3 3 2 3 2 0 4 2 4 0 2 1 6 0 4 1 2 0 4 1 2 1 3 0 1 1 2 1 3 1 -5 5 -4 1 -2 0 0 1 -6 0 -4 1 -2 1 -3 0 0 1 -6 2 -1 1 -2 1 -4 1 -2 2 -4 1 -2 2 -4 1 -2 3 -1 0 0 3 -3 2 -2 0 -4-1 -2 0 -3-1 -1 0 -2-1 -4-1 0-1 -1-3 1-2 1-1 0-3 -1 0 -2-3 -4-2 0-1 -2-1 -4-1 0-1 -2-1 -4-1 -1-1 0-3 1-2 2-1 1-3 -3 0 -2-1 -4-1 0-1 -2-1 -3-2 -1-3 3-3 1 0 1-3 1-1 3-2 1 0 2-1 6 0 4-1 2 0 1-1 -1 0 -2-1 -4-1 -6 0 -2-1 -4-1 0-5 6-3 4 0 2-1 4 0 2-1 4 0zM1384 771l4 0 2 2 3 1 0 3 -3 3 -1 0 -1 1 -4 0 -4-4 -1-3 3-2 1-1zM1342 795l4-1 14 0 4 1 1 0 -1 3 0 1 -1 2 0 3 -3 3 -2 1 -4 1 -12 0 -2-1 -3-1 -1 0 -3-3 0-3 3-3 4-2 1-1zM518 804l2 0 4-1 12 0 2-1 16 0 2 1 4 0 2 1 2 0 4 2 4 1 2 0 0 1 4 1 2 1 2 0 -1 3 -1 1 -2 4 -3 1 0 3 3 2 1 1 1 3 0 7 2 2 2 1 2 2 16 0 2-1 4-1 0-1 12 0 3 3 -1 1 -1 2 -1 1 -4 2 -1 0 -1 3 -1 0 1 1 2 4 2 1 -2 1 -8 0 -4 1 -1 1 1 3 0 1 4 1 2 1 0 1 6 0 2-1 2 0 2-2 4 0 2 1 4 1 2 1 4 1 2 1 0 1 2 2 -1 3 -1 0 -1 3 1 3 1 0 3 2 2 2 4 1 2 1 1 0 3 2 2 1 3 0 1 1 6 0 2 1 4-1 2 0 4-1 2 0 4-1 6 0 2-1 6 0 4 1 6 0 2 1 2 0 2 1 2 2 2 0 -3 3 -1 2 -2 1 2 2 2 1 1 0 3 1 2 1 4 1 6 0 2-3 1 0 1-3 4-4 3-2 3 0 4-1 2 0 4-1 1-1 1 0 4-2 0-2 -1-2 -1-3 0-3 2-1 6 0 3 1 4 0 1 1 3 2 -2 3 -3 3 2 2 6 3 3 1 1 0 2 2 4 1 1 0 1 3 1 0 -3 3 -2 0 -2 1 -2 2 0 3 2 2 3 1 1 1 2 1 12 0 4-1 12 0 2 1 3 1 -3 1 -2 1 -4 1 -2 1 -4 0 -2 1 -4 0 -2 1 -16 0 -2-1 -12 0 -4-1 -8 0 -2-1 -2 0 -2-1 -4-1 -6-2 -2-1 -4-1 -2-1 -4 0 -2 1 -1 0 -3 2 -1 1 -1 2 -3 1 -1 1 -1 2 1 1 4 1 2 1 11 0 1 1 4 1 2 1 -2 2 -4 1 -2 0 0 1 -4 1 -2 1 -1 0 -5 5 -6 0 -4 1 -2-1 -6 0 -4-1 -6 0 -2 1 -12 0 -4-1 0-1 4-2 1-1 1 0 3-3 -1-3 1-3 1 0 2-3 0-1 2-2 -2-1 -2-2 -4-1 -3-1 0-1 -3 0 -2-1 -4 0 -2 1 0 1 -1 2 1 3 -6 9 -2 0 -2 1 -12 0 -2 1 -4 1 -1 0 1 1 4 2 1 0 1 1 6 0 4 1 2 0 3 1 1 0 2 2 3 1 1 1 1 2 -1 2 -6 3 -4 1 -1 0 -1 1 -4 0 -2 1 -4 1 -1 0 -1 1 -4 1 -2 1 -2 0 -4 2 -4 1 -3 0 -3 1 -12 0 -1-1 -5 0 -2-1 -4-1 0-4 1 0 1-3 -2-1 -2-2 -4 0 -2-1 -12 0 -4-1 -5 0 -2-1 -1 0 -4-1 -2-2 -1 0 -3-2 0-1 -2-3 -3-3 -1 0 -4-6 -2 0 -2-3 -4-1 -4-2 -8 0 -2 1 -16 0 0-112zM688 819l4-1 2 0 4 1 0 1 -6 0zM946 831l4-1 2 1 1 0 3 2 1 1 -1 1 -4 1 -2-1 -3-1 -1 0 -1-3zM646 841l4-1 2 1 4 1 1 1 -1 1 -4 1 -2 0 -4-1 -2-1zM682 843l4-1 8 0 3 1 3 3 1 0 2 3 1 1 0 3 -4 2 -1 0 -1 1 -12 0 -1-1 -3-1 -1-2 -1-3 0-3 1-3zM992 843l3-1 3 0 2-1 4 0 2 1 4 0 2 1 1 0 3 1 2 2 1 0 -1 2 0 1 -6 2 -2 0 -4 1 -14 0 -4-1 -4-2 2 0 1-3 1-1 3-2zM1166 846l2-1 4-1 2 0 4 1 2 1 4 0 2 1 4 1 2 0 4 1 0 1 -1 2 -3 2 -2 1 -3 0 0 1 -9 0 -4 1 -2-1 -6 0 -2-1 -2 0 -3-3 1-1 0-2 2-2 2-1zM518 935l2 0 4 1 2 2 3 1 -3 1 -2 1 -4 0 -2 1 -4 0 0-8z"/>
<path fill="#bf3984" fill-rule="evenodd" d="M2218 435l4 0 2-1 4 0 2-1 10 0 2 1 4 1 3 0 -1 0 -2 1 -4 0 -2 1 -4 1 -12 0 -2-1 -4-1zM2288 447l2-1 6 0 4 1 2 0 0 1 4 2 1 0 -1 2 -1 1 -3 2 -1 1 1 2 4 2 2 0 4 1 12 0 2-1 4 0 6-3 0-1 2-1 16 0 2-1 4-1 14 0 4 1 6 0 2 1 4 0 1 1 -1 3 0 3 2 3 2 0 4 2 12 0 4-1 0-1 3-3 0-6 3-1 14 0 4 1 3 0 -1 0 -2 3 0 1 -4 2 -2 3 0 1 -4 1 -2 1 0 1 -4 1 -2 1 2 3 1 0 3 1 2 2 -2 3 0 1 -4 1 -6 0 -2-1 -3-1 -1 0 -2-3 -4-2 -1-1 -1 0 -4-1 -6 0 -2-1 -4 0 -1-1 -1 0 -4-1 -2-2 -1 0 -3-1 -2 0 -4-1 -14 0 -4 1 -6 0 -2 1 -1 0 -3 1 -2 1 -4 1 -2 2 -4 1 -2 3 -1 0 -1 3 1 3 1 2 2 0 4-1 2 0 4 1 2 1 3 0 1 1 2 1 4 1 1 0 1 1 4 1 2 1 4 0 6 3 2 6 0 1 4 2 1 0 1 1 4 1 2 1 3 3 0 3 -3 3 -2 1 -4 1 -2 0 -4 1 -3 0 -3 1 -2 2 -1 0 -3 1 -2 1 -4 1 -8 0 -4-1 -2 0 -4-1 -2 1 -16 0 -2 1 -5 0 -1 1 -4 1 -2 1 -1 0 -3 2 -2 1 -3 0 -1 1 -8 4 -4 1 -2 1 -4 1 -2 1 -1 0 -3 1 -2 1 -4 1 -6 0 0 6 1 0 -3 3 -1 0 -3 2 -1 1 1 3 0 1 4 2 1 0 1 1 4 2 2 2 3 1 1 2 0 4 -1 0 -2 3 -1 0 -2 1 -4 1 -2 0 -4 1 -2 0 0 1 -4 2 0 2 1 1 3 1 2 1 12 0 4-1 2 0 2-1 2 0 2-1 4-1 1-1 1 0 4-2 0-1 1-3 0-3 1-1 4 0 2-1 4 1 2 1 2 0 4 2 3 1 1 0 2 1 4 0 2 1 4 0 2 1 6 0 4-1 2-1 1-1 3-1 2-2 0-2 1-1 0-3 3-2 0-1 2-3 -2-3 -3-3 -1 0 -2-3 -4-1 -6 0 -2 1 -2 0 -2 1 -2 0 -4 1 -12 0 -2-2 1-3 1-1 3-2 1 0 2-1 4-1 12 0 1-1 1 0 2-3 -1-3 -3-3 1-3 1 0 4-1 2-1 4 0 2 1 4 0 2 1 0 1 22 0 2 1 6 0 4 1 3 0 3 1 2 0 4 1 2 1 4 0 2 1 24 0 3-1 1 0 2-1 2-2 2-1 2-4 1-1 2-3 1 0 2-1 4-1 0-1 2 0 6-3 4-1 2 0 4-1 0-1 2 0 4-2 0-1 2-3 0-1 4-1 2 0 3 2 0 3 -2 3 3 2 2 1 6 0 4-1 2 1 4 0 2 2 2 1 1 3 -3 3 -2 1 -4 1 -2 1 -2 0 1 3 3 3 1 0 3 2 2 2 3 2 3 3 2 0 3 3 1 3 1 0 1 3 2 1 2 2 2 0 4 2 3 1 1 1 2 1 4 0 2 1 4-1 2-1 1-1 1-3 -3-9 -1-2 -3-1 3-1 2 0 4 1 2-1 6 0 4-1 2-1 4-1 12 0 2-1 4 0 1-1 1 0 4-1 4-2 2 0 2-1 4-1 2 0 1-1 3 0 2-2 6-3 1-1 3-1 2-1 4-1 6 0 2-1 4 0 2 1 4 0 2 2 2 1 1 3 1 1 2 1 3 1 1 1 2 0 4 1 2 0 4 1 23 0 1 1 2 1 3 1 3 3 0 3 1 0 0 3 3 3 6 3 2 0 6 3 1 0 2 3 0 3 1 0 2 6 1 0 2 3 3 3 0 2 1 1 1 3 4 2 3 1 1 0 2 2 2 1 1 3 -1 3 1 3 1 2 1 1 1 3 0 4 3 2 1 1 8 4 4 1 2 2 3 1 1 1 0 2 2 3 0 1 3 2 1 1 2 1 4 1 2 0 0 1 4 0 2 1 4 1 1 0 1 1 4 1 2 0 4 1 8 0 4-1 6-3 2-2 0-1 2-2 2-1 1-2 5 0 2-1 6 0 4-1 2 0 2-1 2 0 2-1 4-1 6-3 0-4 3-3 1-3 -1-3 2-3 1 0 2-1 4 0 2-1 1-1 3-1 2-2 0-1 2-2 2-1 1-2 1 0 4-2 1-1 1-2 1-1 -1 0 -3-3 -3-1 -2-2 2-3 4 0 2-1 4 0 2-1 4 0 0-1 2-1 3-2 0-3 -1-3 -2-2 0-1 1-3 0-3 -1-1 -1-2 -1 0 -4-4 0-3 1-2 3-2 0-1 3-3 3-1 4-2 2 0 2-1 4-1 2-1 7 0 3 2 2 1 0 1 2 2 2 1 2 2 2 0 2 1 2 0 4 1 2 0 4 1 3 0 3 1 2 2 1 0 2 6 3 3 6 3 3 0 1 1 12 0 2 1 12 0 4 1 2 2 3 1 1 0 2 1 4 1 6 0 2 1 2 0 2 1 2 2 1 0 -1 2 -2 2 -4 1 -2 1 -4 0 0 1 16 0 2-1 10 0 2 1 4-1 2 0 4-1 6-3 2-2 0-3 -2-1 -4-1 -1-1 -1 0 -4-1 -2-2 -1 0 -3-1 -2-1 -4 0 0-1 -2-1 -4-1 -1-1 1 0 4-1 4-2 14 0 2 1 16 0 0 60 -3 2 -3 3 0 1 -4 2 -2 2 -3 1 -3 3 -2 0 -3 3 1 2 6 3 3 1 3 3 1 0 0 3 -3 9 3 3 3 1 2 1 4 1 0 570 -2572 0 0-152 10 0 1-1 1 0 4-1 2-1 4 0 1-1 11 0 2 1 4 0 1-1 5 0 2-1 4 0 4-2 10 0 0 1 4 0 2 1 4 1 4 0 2 1 8 0 3-1 3 0 4-1 2 0 4-1 2-1 6 0 4-1 2 1 10 0 2 1 6 0 4 1 2-1 6 0 2-1 2-2 0-1 -3-3 -1 0 -2-3 -1 0 -3-2 -1-1 -1-3 3-3 2-6 1-1 1-2 1-1 4-1 1-1 1 0 4-1 2 0 4-1 2 0 2-1 2 0 2-1 3-2 1 0 2-3 4-2 1-1 15 0 2 1 6 0 2 1 10 0 2-1 4 0 2-1 4-1 12 0 2 1 4 0 2 1 6 0 4-1 8 0 4 1 2 1 3 1 1 0 2 1 4 1 2-1 6 0 3-1 9 0 4-1 2 0 4-1 1-1 2 0 3-2 2-2 4-1 2-1 19 0 3 1 2 0 4 1 6 0 2-1 3-1 1 0 3-3 2-3 1 0 2-2 3-1 7 0 2 1 3 2 3 3 1 0 3 1 8 0 4 1 12 0 4-2 2 0 2-1 4-1 6 0 2-1 10 0 2-1 6 0 4-1 6 0 0-1 15 0 3 1 2 0 4 1 20 0 3 1 1 1 2 1 4 1 1 0 1 1 4 1 2 1 1 0 3 1 2 0 4 1 2 0 4 1 5 0 1 1 2 0 4 1 2 1 0 1 4 1 2 1 2 0 4 2 4 1 1 0 1 1 4 1 2 1 2 0 2 1 2 0 4 1 2 1 5 0 1 1 4 1 2 0 4 1 1 0 1 1 4 1 8 4 2 0 4 2 4 1 3 0 3 2 2 1 2 0 0 6 2 3 2 2 4 0 2 1 2 0 2 1 2 0 4 1 2 1 3 0 1 1 2 0 4 1 2 1 1 0 2 3 -3 2 -2 2 -4 1 -2 1 0 1 -2 2 2 3 2 6 0 1 4 2 2 2 4 1 2 3 2 0 4 6 1 0 0 3 -1 1 -8 0 -4-1 -6 0 -2-1 -16 0 0 1 -2 3 -1 0 -3 2 -2 1 -4 0 -2 2 -2 1 2 1 6 0 2 1 4 1 6 0 6 3 1 0 1 1 4 1 2 1 3 0 3 3 0 1 1 2 2 3 1 2 0 1 2 3 0 1 3 2 3 3 3 0 1 1 2 0 4 1 2 1 4 0 2 2 4 1 2 0 0 1 4 1 2 1 3 3 -2 3 -3 3 2 1 3-1 1 0 2-1 6 0 4 1 1 0 1 1 4 1 2 1 5 0 1 1 4 0 2 1 4 1 1 0 3 3 2 3 0 3 2 3 0 1 4 0 2 1 4 1 6 0 2-1 2-2 2 0 2-1 4-1 6 0 2 1 4 0 2 2 4 1 2 0 4 1 2-1 4 0 2-1 3-1 1 0 2-2 2-1 -2-2 -2-1 -8 0 -2 1 -2 0 -4 1 -2 0 -4-1 -1-1 -1-2 -1-1 1 0 1-3 1-2 1-1 1-3 0-6 1-3 1 0 2-1 6 0 4 1 2 0 0 1 4 0 2 1 4 0 2-1 3-1 1 0 2-1 3-2 1 0 1-3 1-2 1-1 3-1 14 0 4-1 8 0 4 1 2 0 4-1 2 0 2-1 2 0 2-2 2-1 -2-1 0-2 -2-1 -3-2 -1-1 -1-2 -1-3 -3-3 -1 0 -2-1 -4-1 0-1 -2-1 -3-2 -1 0 -3-3 -3 0 -2-1 -4-1 -2 0 -4-1 -3-3 1 0 8-4 4 0 2-1 1-1 3-1 4-2 2 0 2-1 4-1 0-1 6-3 1-3 -1 0 -3-3 -1 0 -3-3 -3-2 -1-1 1-3 4-1 2-1 3-1 1 0 2-1 3-2 -2-3 -1-1 -1-2 3-3 4-2 1-1 3-1 2-4 1-1 1-3 2-1 2-2 4-1 2 0 4-1 0-2 -2-2 -4-2 -1-1 -3-1 -1-2 0-3 1-2 1-1 2-6 -3-2 0-1 -6-3 -2-2 -2-1 -2-2 0-1 -1-3 -1-2 -1-1 -3-1 -4-2 -2 0 -2-2 -2-1 -2 0 -2-1 -4-1 -1-1 -7 0 -4-1 -26 0 -4-1 0-1 -2-1 -4-1 0-1 -2-1 -4-1 -2 0 -1-1 -3 0 -2-1 -4 0 -4-2 -2 0 -3-3 1-3 2-1 4 0 2-1 3-1 3 0 4-1 14 0 4-1 2 0 1-1 1-3 2-1 1-2 1 0 4-1 2-2 1-3 -3-3 -4-1 -2-1 -4 0 -2-1 -4 0 -2 1 -6 0 -4 1 -2 1 -1 0 -3 1 -2 0 -4-1 -2-1 -4-1 0-1 -2 0 -4-1 -2-1 -4 0 0-1 -2 0 -4-1 -8 0 -4 1 -2-1 -4 0 -2-2 -4-2 -1-1 -1 0 -4-1 -2-2 -4 0 -2-2 -4-2 -2-2 0-1 -4-1 0-1 -2-1 -4-1 0-4 4-1 2-1 1-1 3 0 2-1 4-1 0-1 3-3 1-3 0-3 1-3 1-1 0-5 -4-1 -2-1 -4 0 0-1 -2 0 -4-1 -4-2 0-3 2-1 2-2 4-1 6 0 2 1 1 0 3 1 2 1 4 1 2 0 4-1 4-2 2 0 2-2 3-1 1 0 2-2 10 0 2 1 6 0 4 1 11 0 1 1 2 0 4 1 2 1 1 0 1 3 -2 2 0 1 -1 3 0 3 1 3 0 1 4 1 2 1 0 1 6 0 4 1 8 0 3-2 1 0 2-1 4-1 2-1 2-3 1-3 14 0 0 3 -1 1 -3 2 1 3 4 2 4 1 2 1 4 1 2 1 3 0 1 1 1 2 -1 0 -4 1 -2 0 -4 1 -2 1 -2 0 -2 1 -2 2 0 3 2 3 4 1 2 1 6 0 4 1 2 0 0 1 4 0 2 1 6 0 4-1 2-1 4-1 2-1 6 0 4 1 2 0 4 1 1 0 1 1 3 2 -1 3 -4 2 -4 1 -1 0 -1 1 -4 2 0 1 4 1 2 1 2 0 4 2 4 1 2 1 12 0 4-1 2 0 4-2 1-1 0-3 1 0 4-2 2 0 3-1 3 0 4-1 2-1 4 0 0-1 2 0 4-1 2 0 4-1 2-1 3-3 1-2 0-1 2-2 3-1 3 0 3-1 3 0 4-1 12 0 2 1 4 0 2 1 1 0 3 1 2 1 4 0 2-2 1 0 -1 0 -2-1 -4-1 0-1 -2-1 -3-2 -1 0 -2-3 -4-2 0-1 -2-2 -2-1 -2-2 0-1 2-3 2-1 1-2 1-1 4-1 0-1 3-3 -1-1 -1-2 -7 0 -3-3 3-2 0-1 2-1 4-1 0-1 2-1 2-2 1-3 0-3 -3-2 -1-1 -11 0 -2 1 -4 1 -2 1 -2 0 -2 1 -2 2 0 1 -4 2 -2 2 -4 1 0 1 5 5 1 3 -2 2 -4 1 -2 1 -10 0 -2 1 -6 0 -4-1 -3 0 0-1 -3-1 -2-1 -3-1 -5 0 -2 1 -8 0 -4-1 -2-1 -4-1 0-1 -2 0 -4-1 -8 0 -4-1 -5 0 -2-1 -5 0 -2-1 -4 0 -2-1 -6 0 -4-1 -14 0 -4-1 -2-1 -3-1 -1-2 0-1 4-1 2 0 4-1 2 0 3-1 7 0 2-1 4 0 2-1 4 0 2-1 4 0 2-1 6-4 2-1 2 0 2-2 2-1 2 0 2-2 4 0 2-2 4-1 1-1 -17 0 -2-1 -4 0 -2-1 -4 0 0-1 -2-1 -4-1 -6-3 -1-1 7 0 4-1 2-4 1-1 -1 0 -2-1 -4-1 -1-1 -1 0 -4-1 -2-1 -4 0 0-1 -2 0 -4-1 -2-1 -1-1 -3-1 -2 0 -4-1 -2-1 -4 0 -2-1 -4-1 0-1 -2-1 -2-2 -1-3 3-1 2 0 4-1 2 0 3-1 3 0 4-1 2 0 4-1 2-1 4-1 2-1 1-1 3 0 2-1 12 0 4-1 2-1 1 0 3-1 2-1 4 0 2-1 6 0 4-1 2 0 4-1 2-1 4 0 2-1 4 0 2-1 1-1 3 0 2-1 4-1 0-1 2 0 4-1 4-2 0-3 -2-2 0-1 1 0 3-2 2 0 1-1 22 0 1 1 22 0 2 1 4 1 1 0 0 3 -1 1 -4 1 -8 0 -4 1 -2 0 0 1 -4 1 -2 1 0 6 -1 0 0 3 1 2 0 1 2 1 4 1 2 0 4 1 2-1 4 0 2-2 1 0 3-1 2-1 1-1 3-1 2-1 6 0 4 1 3 1 2 0 1 1 36 0 1-1 5 0 2-1 4 0 2-1 18 0 4 1 2 0 4-1 0-1 2 0 4-1 2-2 4-1 2-2 1 0 3-2 0-1 3 0 3-1 14 0 4-1 2 0 2-1 2 0 2-1 4 0 2-1 4 0 1-1 1 0 4-1 2 0 4-2 2-3 0-3 -2-6 2-3 -2-3 -4-1 -2-1 -4 0 -1-1 -11 0 -2-1 -6 0 -4-1 -18 0 -2 1 -6 0 -4-1 0-5 2-2 2-1 1-2 1-3 -2-1 -3-1 -3 0 -3-1 -3 0 -4-1 -2 0 -4-1 -2-2 -3-2 -1 0 -1-3 2 0 3-1 2-2 2-3 -2 0 -2-1 -4-1 -2 0 -4 1 -8 0 -4-1 0-1 -2-3 0-6 1-3 0-6 -1-3 0-1 -3-2 -1 0 -2-3 -1 0 0-3 -2-3 -3-3 0-1 -2-2 -4-2 -1-1 -3-1 -1-2 1 0 4-2 1-1 2 0 3-1 6-3 2-2 0-6 8 0 2 1 6 0 2 1 18 0 4-1 6 0 0-1 2 0 4-1 2-1 1-1 3-1 2-2 -3-3 -3-1 -3-2 1 0 2-6 2-3 2-1 1-2 -1-2 -1-1 0-3 1 0 2-1 4-1 2-1 4 1 2 0 4 2 0 3 2 2 4 1 12 0 2-1 4 0 4-2 1 0 3-1 4 0 2-1 4 0 1-1 5 0 3-3 2-3 1 0 1-3 1-2 1-1 2-3 1-1 0-5 2-2 2-1 14 0 2-1 6 0 4-1 2-2 3-2 -1-3 -2 0 -2-1 -24 0 -4-1 -6 0 -2-1 -1 0 -3-2 0-1 -2-1 -2-2 -2 0 -2-1 -4-1 -2-2 -3-2 -1 0 -2-3 -4-1 -2 0 -4-1 -2 0 -3-1 -15 0 -4 1 -2 1 -4 1 -2 0 -4-1 -2 0 -4-1 0-1 -2-1 -2-2 2-2 0-1 2-1 4-1 0-1 2-3 -2-3 -1 0 -1-3 2-2 2 0 4 1 2 0 3 1 3 3 0 1 4 2 4 0 2 1 8 0 4 1 2 0 4-1 0-1 2-1 4-1 8 0 4 1 2 0 4 1 1 0 1 1 4 1 2 1 4 0 2 1 4 1 4-2 2 0 3-3 3 0 2-1 4-1 1-1 8 0 3-1 6 0 2 1 11 0 1 1 10 0 0-1 2-3 -1-3 0-3 1-2 1-1 3-2 1-1 1 0 4-2 4-4 1-3 -1-3 1-3 1-1 1-2 1-1 4-1 1-1 2 0 3-2 1-1 -1-3 2-6 0-3 2-3 2-1 1-2 1-1 4-1 0-1 3 0 3-1 2-1 30 0 4 1 8 0 4 1 2-1 15 0 3 1 2 0 4 2 3 1 1 1 2 1 4 1 1 0 1 1 10 0 1-1 8 0 3 2 1 1 0 3 1 1 4 1 2 1 12 0 4 1 2-1 6 0 4-1 2 0 4-1 6 0 0-1 2 0 6-3 0-1 3-3 3-1 2-1 4 0 4-1 2 0 4-1 2 0 3-1 1 0 2-1 4 0 2-1 6 0 4-2 1-2 1 0 4-2 1-1 1 0 4-1 2-1 3-1 1 0 2-3 0-3 -1-3 3-3 2 0 2-1 4 0 2-1 4 0 2-1 10 0 2-1 4 0 2-1 4 0 0-1 2 0 4-1 2-1 4 0 2-1 4 0 2-1 4-1 0-2 -3-2 -3 0 -4-1 -32 0 -4-1 -2 0 -1-1 0-3 9 0 4-1 12 0 2-1 3-1 3 0 4-1 14 0 4-1 0-1 2-2 2-1 2 0 2-1 4 0 2-1 6 0 3-1 3 0 4-1 2-1 4 0 1-1 1 0 4-1 4-2 2 0 2-1 16 0 2 1 2 0 4 2 4 1 4 0 2 1 6 0 2-1 4 0 2-1 4-1 1-1 1 0 4-1 4-2zM2939 564l-3 3 1 3 1 1 10 0 2-1 4-1 2-1 4 0 1-1 -1 0 -4-1 -2-1 -3-1zM2121 615l-1 1 -18 0 -4 1 -2 1 -1 0 1 2 0 1 2 2 4 1 2 2 4 1 6 0 2-1 4-1 1-1 1 0 4-1 2-1 3-1 1 0 3-3 -1 0 -2-1 -4-1 -1-1zM2200 621l-2 2 -3 1 -1 1 -2 1 -3 1 0 1 -6 2 3 2 2 0 4 1 2 0 4 1 2-1 4 0 6-3 2-3 0-1 1-2 -1-1 -1-2 -1-1 -6 0zM2089 639l-3 1 -6 0 -2 1 -4 0 -2 1 -4 0 -2 3 -1 0 0 3 -3 2 -2 1 -2 0 -2 1 -8 0 -4 1 -2 0 -3 1 -1 0 -1 3 1 1 4 1 2 1 16 0 2 1 4 0 2 1 10 0 2-1 4 0 0-1 2 0 4-1 2-1 6 0 4-1 0-3 2-1 3-2 3 0 4-1 2-2 1 0 3-2 0-1 3-3 1-3 -2 0 -2-1 -6 0 -4-1 -8 0 -4 1 -2 0 -4 1zM1668 816l1 3 1 1 2 1 3 1 1 1 2 1 4 1 1 0 1 1 4 0 2 1 10 0 2-2 2-3 -2-1 -1-2 -1 0 -4-1 -4-2 -2 0 -2-1 -6 0 -4-1 -8 0zM1578 834l2 1 2 0 4-1zM1644 891l2 3 2 2 4 1 2 1 4 1 2 0 4 1 8 0 4-1 4-2 2 0 3-3 0-3 -1 0 -2-1 -4-1 -2-1 -4 1 -6 0 -2 1 -16 0 -2 1zM1375 942l-3 2 -2 1 -2 0 2 1 6 0 2-1 0-1 1-2zM1340 945l0 1 -3 2 2 3 1 1 2 1 4 1 6 0 2-1 4-1 2-2 3-2 -3-1 -2-1 -3-1 -3 0 -4-1 -2 0 -4 1zM1714 960l-2 2 -2 1 0 3 1 3 1 1 1 2 1 1 4 1 2 1 3 0 1 1 2 0 4 1 8 0 4-1 2 0 1-1 3 0 2-1 6 0 4-1 0-4 -3-3 -1 0 -2-2 -16 0 -1-1 -1 0 -3-3 -1 0 -2-1 -12 0zM1635 984l-1 1 -4 1 -2 1 -4 0 -2 2 -2 1 -3 3 1 1 4 2 2 0 4-1 2-2 1 0 3-1 2-1 4 0 2-1 1 0 3-1 2-2 -2-2 -2-1zM1744 993l-3 3 -3 2 0 2 4 1 2 1 4 1 20 0 4 1 2 1 2 0 2 1 2 2 2 0 2 1 12 0 2-1 4 0 2-1 4 0 2-1 1-1 3-1 2-2 -2-1 -4-1 -2 0 -3-1 -3 0 -3-2 -2-1 -3-3 -12 0 -2 1 -2 0 -4 1 -8 0 -4-1 -2-1 -4-1 -2-1 -4 0 -2-1 -4 2zM1576 996l0 2 1 1 3 1 6 0 2-1 0-1 2-2 -4 0 -4-1 -2 1zM1535 1002l-1 0 -2 2 -3 1 2 3 1 1 2 1 4 1 1 0 1 1 4 0 2 1 12 0 4-1 2-1 1 0 -1 0 0-3 -2-1 -4-1 -2-2 -4-1 0-1 -2 0 -4-1 -2 0 -4 1zM1134 1056l4 4 4 2 1 0 1 1 4 0 2 1 10 0 4-2 -4-2 -1-1 -3 0 -2-1 -4-1 -1-1 -1 0 -4-1 -6 0 -2 1zM910 1065l-6 3 -2 2 -4 1 -2 0 0 1 -4 0 -2 1 -4 1 -5 0 -1 1 -2 1 -4 1 4 2 8 0 4 1 1 0 1 1 4 2 1 3 1 2 3 1 1 1 6 0 2 1 4 0 2 1 4 0 2 2 4 1 2 0 0 1 2 2 0 6 -4 2 -4 1 -6 0 -2-1 -6 0 -4-1 -8 0 -4 1 -6 0 -2 1 -4 0 -2 1 -4 0 -2 1 -4 1 -1 0 -1 1 -3 2 1 3 4 6 1 0 -1 1 0 2 -2 3 -1 0 -5 5 -4 0 -2 1 -6 0 -4 1 -2 1 -4 1 -2 0 -4-1 -2-2 -4-1 -6-3 -2-4 -1-1 -1-3 -2-1 -1-2 -1 0 -4-2 -8 0 -4 1 -2 0 -4 1 -2 0 0 1 -4 1 -14 0 -4 1 -1 0 -1 3 2 1 4 0 2 1 4 0 2-1 10 0 2-1 4 1 2 1 3 1 1 0 0 3 2 3 0 1 4 2 2 2 4 1 1 0 1 1 6 0 4 1 2 0 4-1 2-1 1 0 3-2 2 0 2 2 2 3 0 1 -3 2 -3 3 -1 0 0 3 1 1 2 1 4 1 2-1 4-1 1-1 2 0 3-1 2-1 10 0 2 1 10 0 2 1 4-1 2 0 3-2 2-3 3-3 2 0 2-2 2-1 2 0 2-1 4-1 0-1 2 0 4-1 2-1 4 0 1-1 1 0 4-1 2 0 4-1 6 0 2-1 4 0 2 1 6 0 4 1 6 0 2 1 8 0 2 1 14 0 3-1 0-3 -3-1 -4-2 -2 0 -2-1 -4-1 -2-2 -3-2 3-1 2 0 4-1 2 1 6 0 4-1 2 0 3-1 1 0 2-2 2-1 -1-3 -1-1 -2-1 -1-1 -21 0 -2 1 -6 0 -4 1 -2 0 -4-1 -2 0 -3-1 -1 0 2-3 2 0 3-3 -1 0 0-3 -2-1 -2-2 -2-1 -2-2 0-1 -1-2 1 0 1-3 0-9 -1-2 -1-1 -2-3 -1 0 -2-1 -4-1 -1-1 -1 0 -4-1 -2-1 -3-1 0-2 -3-1 -1 0 -3 1 -6 0 -2-1zM668 1104l2 3 0 1 4 1 2 0 3-2 1 0 1-3 -1-1 -4-1 -2 0 -4 1zM741 1104l-1 1 -4 1 -2 1 -1 0 -2 3 3 1 2 1 4 0 2 1 3 0 1 1 2 0 2-1 2 0 2-1 3-2 -1-3 -4-2 -1-1zM701 1110l-1 1 -2 1 -4 1 -1 0 0 3 1 0 4 1 6 0 1-1 5 0 2-1 4-1 6-3 1-1 -5 0 -2-1 -10 0 -2 1zM2608 1119l-2 3 -4 2 -1 1 -1 2 -2 1 0 3 2 2 2 1 4 0 2-1 4-1 2-1 4-1 14 0 3-2 0-3 -2-3 -1 0 -2-1 -4-1 -2 0 -2-1zM2720 1122l-4 1 -2 1 -4 0 -2 1 -1 0 0 3 3 3 1 0 3 1 2 1 6 0 4 1 12 0 2-1 3-2 -2-3 -1 0 -2-2 -4-2 -2-2 -4-1 -2 0 -4 1zM2662 1125l-2 2 -2 1 2 1 12 0 2-1 -3-3zM2041 1146l-3 0 -2 1 -4 0 -4 2 0 3 2 2 2 1 0 1 4 1 2 1 0 1 4 2 1 0 1 1 4 1 2 1 2 0 4 2 4 0 2-1 1-1 3-1 5-5 -3-1 -2-2 -4-1 -2 0 -4-1 -2-2 -3-2 -1 0 -2-2 -4-1zM933 1164l1 1 4 2 1-3zM2312 1170l2 3 0 1 4 1 6 0 4-2 0-3 -2 0 -2-2 -10 0zM2446 1197l4 1 2 0 1-1zM3057 1209l0 3 1 1 18 0 3-1 -3 0 -2-1 -3-2zM2444 471l2-1 16 0 2 1 1 0 3 1 2 2 3 0 1 1 2 1 4 0 2 1 15 0 1 1 2 0 4 1 2 1 0 1 4 1 2 1 -1 3 -1 1 -4 1 -12 0 -2-1 -10 0 -2 1 -12 0 -2-2 0-3 -2-2 0-1 -2 0 -4-1 -2-1 -3-1 -3 0 -4-1 -2-1 -3-1 2-3zM1742 510l9 0 -1 1 -2 1 -4 0 -2-1 -1-1zM2554 513l4 0 2-1 4 1 3 0 3 3 1 0 1 2 4 1 0 5 -4 2 -2 2 -2 0 -4 2 -4 0 -2 1 -1 0 -3 2 -2 2 -12 0 -2-1 -2 0 -2-2 -2-1 0-3 2 0 2-2 10 0 2-1 -2-1 -1-2 0-3 1 0 2-3 4-1zM2912 513l2-2 6 0 4 1 2 1 0 1 4 1 1 1 0 3 -1 1 -4 1 -8 0 -4-1 -2 0 -1-1 -2-3 2-3zM1745 525l3-1 2 1 4 0 2 2 4 1 1 0 1 2 3 1 1 1 1 2 -1 1 -1-1 -3-1 -8 0 -4 1 -2 0 -4-1 -2-1 -1-1 -1-3 2-1 2-2zM1718 546l19 0 1 1 4 2 2 2 2 1 -2 2 -2 1 0 1 -4 0 -2 1 -4 1 -2 1 -4 1 -2 1 -4-1 -2-1 -1-1 -2-3 -1 0 -2-1 -4 0 -2 1 -4 0 -2 1 -22 0 -4 2 1 3 0 3 -3 1 -6 0 0-1 -3-3 6-6 1 0 2-1 3-2 3 0 4-1 2-1 1-1 3 0 2-1 4-1 20 0 3-1zM1772 555l2-1 4 0 2 1 1 0 1 3 -2 2 -2 0 -4-1 -1-1 -1 0 -3-3zM1558 573l4-1 6 0 2-1 4 1 6 0 2 1 1 0 3 2 2 1 -1 3 -1 1 -4 1 -2 1 -1 0 -3 1 -2 1 -16 0 -2-1 -4 0 0-1 -2 0 -4-2 -1-1 3-3 2 0 6-3zM1562 606l6 0 2 3 -2 2 -4 2 -2 2 -2 0 -4 2 -4 0 -2 1 -4 0 -2-1 -4-1 0-1 -1-3 1 0 4-1 2-1 4 0 0-1 2 0 4-1 4-2zM1654 660l7 0 0 1 -7 0zM1444 798l4-1 6 0 2 1 2 0 -4 4 -4 2 -2 0 -4-1 -2-2 -1 0 1 0 1-3zM532 840l4-1 2-1 4 0 2 1 4 1 0 1 -4 2 -6 0 -2-1 -4-1zM518 867l1 0 1 1 4 2 0 5 -6 6 -4 1 0-16zM548 882l2-1 6 0 2 1 -1 3 -1 0 -2 1 -6 0 -2-1 -1-3zM1286 882l15 0 -1 1 -2 1 -6 0 -4-1 -2 0 -1-1zM1382 885l1 3 -1 1 -4 1 -2 1 -4-1 -1-2 1 0 4-1 2-1 3-1zM526 891l4 0 2 3 -2 2 -3 1 -1 0 -2 1 -4-1 -1-3 1-1 4-1zM584 894l12 0 2 1 4 0 2 1 18 0 4 1 1 0 1 1 4 1 2 1 0 1 4 2 2 3 1 0 1 3 -4 6 -1 0 -3 2 -2 1 -4 0 -2 1 -4 0 -2 1 -4 0 -2 1 -2 0 -2 1 -2 0 -4 1 -4-2 -2 0 -4-6 0-3 1-3 -1-3 -2-1 -2-2 -4-1 -2-2 -1 0 -2-3 1-3zM517 909l-3 1 0-3zM1088 912l16 0 4 2 3 1 -3 1 -2 1 -4 1 -2 0 0 1 -4 1 -6 0 -4-2 -2-2 0-1 3-3zM1420 921l5 0 -6 0zM1154 942l2 0 4-1 14 0 4 1 1 0 1 3 -2 3 -1 0 -3 2 -2 1 -2 0 -2 2 -2 1 -3 0 3 1 2 1 16 0 2-1 4 0 1-1 1 0 4-1 6 0 2-1 22 0 2 1 10 0 2 1 0 1 4 0 2 2 3 0 1 1 2 1 3 1 0 3 -3 2 -2 1 -1 0 -3 2 -2 1 0 1 -2 2 -2 1 -2 2 -3 0 -1 1 -4 2 -2 2 0 1 -2 2 -4 1 -2 3 -1 0 0 3 3 3 1 0 3 1 2 2 1 0 1 3 2 2 0 1 2 3 1 0 3 2 2 1 1 0 3 2 0 1 1 3 -1 3 0 1 -4 1 -6 0 -4-2 -2 0 -2-1 -16 0 -2-2 -2-6 1-3 1-1 1-2 1-1 4-1 2-2 3-2 -3-1 -8 0 -4 1 -8 0 -4-2 0-1 -2-3 -4-2 0-1 -2-2 -2-1 0-3 -4-2 -1-1 -3 0 -2-1 -4-1 -2-2 -3-2 -1-1 0-2 -3-3 -3-1 -2-2 -4 0 -2-1 -4 0 -2-1 -3-1 -1 0 -2-3 2-3 4-1 2-2 1 0 3-1 2-4 1-1 2-3zM1351 1008l3-1 36 0 2 1 -2 1 -2 0 -4 1 -2 1 0 1 -3 2 0 3 3 2 2 1 4 0 2-1 4 0 4-2 9 0 1 3 -2 2 -3 1 -1 1 -2 0 -4 1 -2 1 -4 0 -2 1 -4 1 -8 0 -3-2 -3 0 -4-1 -6 0 -2 1 -2 0 0 3 2 2 2 1 2 0 4 2 4 1 1 0 1 2 2 1 -2 2 -12 0 -2-1 -1-1 -3-1 -2-4 -6-3 -3-1 -1-1 -1-2 1-3 0-3 1-3 3-2 0-1 2-2 2-1zM1190 1026l2-1 4 0 2-1 4 0 2 2 1 0 3 2 1 1 1 3 1 0 -1 0 -2 1 -4 1 -2 0 -4 1 -2 0 -4-1 -6 0 -2-1 -4 0 -2-1 1-3 1 0 4-1 2-1 3-1zM1402 1029l2 0 6 3 -1 3 5 5 3 1 -3 1 -2 0 -4-2 -1-2 -1 0 -3-3 -1 0 -2-1 -2-2 3-3zM1310 1101l2-1 10 0 2 1 1 0 -1 1 -1 2 -1 1 -4 0 -2 1 -4 0 -2-1 -1-1 -1-3zM1322 1116l3 0 3 1 2 1 3 1 1 1 0 2 -4 3 -2 1 -12 0 -2-1 -2 0 -2-1 -3-2 1-3 2 0 2-1 4-1 2 0 3-1z"/>
<path fill="#d6556d" fill-rule="evenodd" d="M2188 489l4 0 2-1 6 0 4 1 2 0 6 6 0 1 4 1 2 1 3 0 1 1 6 0 2 1 6 0 4 1 3 0 2 3 -3 3 -2 1 -10 0 -2 1 -4 0 -2 1 0 1 -4 1 -8 4 0 1 -4 2 -1 0 1 2 4 1 9 0 3 1 2 0 4 1 2 1 1 0 2 3 1 1 1 2 -1 3 0 1 -4 1 -6 3 -1 1 1 3 0 1 4 2 2 3 1 0 -1 1 0 2 -2 6 0 1 -3 2 -1 2 -1 1 -1 3 0 1 -3 2 0 1 -3 1 -4 1 -1 0 -1 1 -34 0 -6 3 -2 2 0 1 -3 2 -3 3 2 2 2 1 -2 3 -2 1 -16 0 0-1 -1-3 -3-3 -2 0 -2-1 -3-2 -3 0 -4-1 -2 0 -4-1 -2 1 -4 0 -2 1 0 1 -1 2 -2 3 -3 3 -2 0 -4 2 -4 1 -24 0 -2 1 -12 0 -2-1 -2 0 -2-1 -4 0 -2-1 -4 0 -2-1 -5 0 -3 3 2 1 2 2 0 1 3 2 1 1 0 2 2 6 0 3 1 0 -1 0 -2 2 -4 1 -2 2 -3 1 0 3 -1 1 -1 2 -1 1 -4 0 -2 1 -10 0 -2 1 -2 0 -2 1 -2 0 -4 1 -26 0 -4-1 -4-4 2-1 0-2 1-3 -1-2 -1-1 -8 0 -3 2 -3 1 -1 1 -1 2 1 2 2 1 2 2 0 3 -1 1 -2 3 5 5 3 1 0 3 -1 3 -1 1 -3 1 -10 0 -2-1 -4 1 -2 0 -2 1 -2 2 0 3 6 6 3 1 1 1 1 2 -1 3 1 3 1 1 4 2 2 2 4 1 2 0 0 1 4 1 2-2 4 0 2-1 4-1 1-1 7 0 4-1 2-1 3-1 3 0 4-1 6 0 4-2 2 0 2-1 4-1 6 0 2 1 4 1 2 2 3 1 1 0 2 1 4 1 2 1 2 0 2 2 0 3 -4 1 -2 1 -10 0 -2-1 -10 0 -2-1 -18 0 -4 1 -2 6 -1 0 -3 2 -2 2 -3 2 0 1 -3 2 -1 0 -3 2 -2 1 0 1 -4 0 -2 1 -6 0 -4 1 -3 0 0 3 1 1 2 0 4 1 12 0 4-2 2 0 2-1 4 0 2 1 4 0 2 3 1 0 -3 3 0 1 -3 2 2 3 1 1 3 1 1 1 2 1 2 2 1 0 3 1 2 2 1 0 2 3 -1 3 2 3 1 3 -1 3 0 3 2 2 3 1 1 0 2 1 24 0 4-1 2 0 4 1 8 0 4 1 8 0 4-1 2 0 1-1 3-1 2-2 0-3 2-3 2 0 2-1 4-1 0-1 6-3 1-3 0-15 -1-3 2-1 4-1 0-1 6 0 2-1 6 0 4-1 14 0 4-1 3-3 3-1 2-1 1-1 5 0 4-1 12 0 2 1 0 5 1 1 3 1 2 1 12 0 4-1 18 0 1-1 1 0 4-1 4-2 2 0 2-2 3-1 1 0 2-1 4 0 2-1 1-1 3-1 2-1 1-1 3-2 0-1 1-3 3-3 2-1 2-2 4-2 0-1 -4-1 -4-2 -2 0 -3-3 0-6 1 0 2-3 4 0 2-1 6 0 4 1 7 0 1 1 4 0 2 1 4 0 2 1 1 0 3 1 2 1 4 0 2-1 4-1 2 0 4-1 2-2 4-2 2-2 4-1 1-1 1 0 4-1 2 0 4-1 2 0 3-1 7 0 2-1 4-1 24 0 2 1 4 1 2 3 0 3 1 0 3 2 8 0 4 1 6 0 2-1 10 0 2-1 4 0 0-1 6-3 2-3 0-6 -3-3 -3 0 -2-1 -12 0 -4 1 -6 0 -2-1 -6 0 -4-1 -2-1 -3-3 -1 0 -2-3 -3-3 -1 0 -1-3 -10 0 -1 1 -2 0 -4 1 -2 1 0 4 -4 4 0 1 -2 2 -4 1 -6 0 -2-1 -3-2 2-3 1 0 2-1 4-1 0-1 2-1 4-1 0-1 -4-2 0-1 -2 0 -4-1 -2-1 -4 0 -1-1 -12 0 -1 1 -4 1 -2 1 -1 0 -3 2 -2 1 -2 0 -2 1 -14 0 -4 1 -2 0 -4 1 -5 0 -1 1 -2 1 -6 0 -4 1 -4 0 2 1 6 0 2 1 4 0 2 1 0 1 4 0 2 1 4 1 -1 3 -3 2 -2 1 0 1 -4 0 -2 1 -6 0 -4-1 -2 0 -3-1 -3 0 -4-1 -2-1 -4 0 -2-1 1-3 1-2 2-1 -2-1 -1-2 0-3 1-3 -2-3 0-3 3-3 3-1 1-2 1-1 3-2 3-1 3-2 1 0 2-2 3-1 1 0 2-1 4-1 1-1 0-3 -1-1 -3-2 -1 0 -3-3 0-3 12 0 1 1 6 0 2 1 4 1 6 3 1 0 1 1 4 1 6 0 2-1 3-1 1 0 2-3 0-2 1-1 3-2 1-1 5 0 2-1 12 0 4 1 12 0 2-1 4 0 2-1 6 0 3-1 13 0 2-1 4-1 0-1 2 0 4-1 2 0 4-1 2-1 4-1 4-2 2 0 2-1 2-2 4-2 3-1 1 0 6 3 0 1 -6 3 -4 1 -2 2 -3 2 -1 1 -2 1 -4 1 -1 0 -1 1 -4 2 -1 0 -1 1 -4 1 -2 1 -4 0 -2 1 -4 1 -2 0 -4 1 -3 0 0 3 1 1 2 0 4 1 2 0 4 1 6 0 2 1 16 0 1-1 5 0 2 1 4 0 2 1 4 1 4 0 2 1 2 0 4 1 2 0 3 1 2 0 1 1 6 0 2-1 2 0 2-1 4-1 0-1 2-1 4-1 1-1 1 0 4-1 2 0 4 1 2 0 0 1 4 0 2 1 18 0 4-1 2 0 3 2 1 1 1 2 1 1 4 1 20 0 4-1 6 0 2-1 6 0 4-1 2 0 4-1 6 0 2 1 4 0 2 1 0 1 3 2 1 1 1 2 1 3 1 0 1 3 4 4 4 2 2 3 1 0 1 3 2 1 2 2 0 1 4 1 1 1 1 3 -2 3 -1 0 -2 3 -1 2 0 3 1 1 3 1 2 1 3 1 1 0 2 1 4 1 2 1 1 0 3 1 2 0 4 1 2 0 4 1 24 0 2-1 12 0 4 1 3 0 3 1 2 1 4 0 2 1 14 0 4 2 3 1 -3 2 -12 0 -2 1 -2 0 -2 1 -1 2 1 1 4 2 1 0 1 1 4 0 2 1 4 0 2 1 4 0 2 1 4 0 2 1 4 0 4-2 2 0 2-3 3-3 3-2 2-1 2 0 2-1 12 0 4-1 1-1 1 0 4-1 2 0 3 1 1 0 2 3 1 0 -3 3 -1 0 -3 3 -1 3 1 3 0 1 3 2 3 3 0 2 1 1 1 3 4 2 4 1 1 0 1 1 4 1 1 1 1 3 0 1 3 2 1 1 2 1 4 0 2 1 8 0 2 1 12 0 4 2 -2 2 0 2 3 2 1 1 2 0 4 1 2 0 4 1 14 0 4 1 14 0 3-1 13 0 2 1 4-1 4-6 2 0 2-1 6 0 2 1 3 3 0 3 1 2 4 1 2 1 3 2 1 1 1 2 1 3 1 0 2 3 3 3 0 1 3 2 1 0 2 6 4 2 2 2 4 1 8 4 0 1 4 2 1 0 1 1 4 1 18 0 2-1 12 0 4-1 6 0 2-1 4 0 2-1 10 0 1-1 1 0 4-1 2-1 3-1 1 0 2-1 4-1 2 0 1-1 1-3 -2-1 -1-2 -1-3 2-6 -2-6 2-3 -1-3 0-3 1 0 4-1 2-2 4-1 2-1 1-1 3-1 0 462 -4 0 -2 1 -1 0 -3 2 -1 1 -1 3 1 3 1 2 4 1 0 1 -3 3 -6 2 -1 0 -2 2 -4 1 -1 0 -1 1 -4 0 -2 1 -4 0 -2 1 -5 0 -1 1 -4 1 -2 1 0 2 -1 1 1 1 0 6 -4 2 -1 0 -1 2 -2 1 -3 3 -489 0 -1-3 -1 0 -1-3 -1-2 -1-1 -3-2 -1-1 -1 0 -4-1 -8 0 -4 1 -8 0 -4-2 0-1 -1-3 1 0 6-3 14 0 2 1 6 0 2-1 6 0 4-1 18 0 2-1 4 0 2-1 1 0 -3 0 -4-1 -2-1 -1-1 1 0 2-3 0-7 3-2 3 0 4-1 2 0 4-1 2 0 3-1 1 0 2-1 4 0 2-1 3-1 -2-3 -1 0 -2-1 -3-2 3-2 0-1 2 0 4-1 12 0 4-2 2 0 2-1 4-1 2 0 2-1 17 0 3 1 2 0 4 1 2 1 2 0 1 3 -3 2 -2 1 0 1 -2 2 2 3 2 1 4 1 2 1 4 0 2 1 4 1 2 0 4 1 2 0 4-1 1-2 -1-3 -4-1 -2-2 0-2 -1-1 3 0 4-1 6 0 2-1 3-1 3 0 4-1 4-2 2 0 3-3 2-3 1 0 2-2 4 0 2-1 1 0 3 1 2 2 0 2 4 2 8 0 2-1 2 0 2-2 3-1 1 0 2-1 4-1 2-1 4-4 1-2 1 0 3-3 1 0 2-3 4-1 2-2 1 0 3-1 2-2 0-3 -1-3 -3-3 -2-1 -1-2 1-3 3-3 1 0 2-1 10 0 2-1 4 0 2-1 4-3 2-3 1 0 3-2 1-1 1 0 4-2 0-1 2-1 2-2 4-2 1-1 3-2 1-1 -1-1 -4-1 -2 0 -1-1 -3 0 -6-3 0-3 4-2 0-1 2-2 4-2 1-2 1-3 4-1 2-1 4-1 6 0 2-1 4-1 4-4 1-3 0-6 1-1 1-2 1-1 4-1 4-4 -2-2 0-1 -2-2 -4-2 -2-2 1-3 -1-3 -4-2 0-1 -2-2 -4-2 -1-2 0-3 1-2 1-1 -1 0 -2-3 -4 0 -2-1 -16 0 -2 1 -2 0 1 3 3 3 1 0 1 3 -2 1 -2 2 -3 0 0 1 -3 1 -4 0 -2 1 -6 0 -4-1 -2-1 -1-1 -3 0 -2-2 -3-1 -3 0 -4-1 -2 0 -4 1 -2 2 -4 1 -1 0 -1 3 -1 0 1 0 2 1 10 0 4 2 2 2 0 2 -4 4 -2 1 0 3 2 2 3 1 1 1 2 1 3 1 1 1 1 2 1 3 -1 3 0 3 1 3 -2 3 -1 0 -3 2 -2 1 -2 0 -2 1 -2 2 -1 0 -3 3 -1 0 1 1 4 1 2 1 1 0 3 1 14 0 4 1 2 1 0 3 1 0 -1 0 -2 2 -4 1 -1 0 -1 1 -4 0 -2 1 -22 0 -2 1 -4-1 -6 0 -2-1 -3-1 -1 0 -2-1 -6 0 -4 1 -2 3 0 1 -3 2 -1 1 -6 0 -1-1 -5 0 -2-1 -4 1 -1 0 -1 1 -4 2 -1 0 -1 1 -4 2 -2 2 -3 1 -1 1 -2 1 -4 0 -2 1 -6 0 -4-1 0-2 -2-3 -2-6 -2-2 0-1 -3-3 -1-3 -2-2 0-1 2-3 4-2 1-1 3-2 1-1 -1-2 -1-1 -3-1 -4-2 -2 0 -2-1 -4-1 -1-1 -1 0 -4-1 -2-1 -1-1 -3-1 -2-1 -4-1 -2 0 -4-1 -12 0 -2 1 -7 0 -3 1 -2 2 -1 0 -5 5 -4 1 -2 2 -4 1 -1 0 -1 2 -2 1 -3 3 -1 2 -4 4 -1 3 1 3 0 1 4 2 2 3 1 0 0 3 -1 1 -2 4 -3 1 -3 3 -2 0 -4 6 -1 0 -3 1 -2 2 -5 0 -1 1 -4-1 -2 0 -6-3 0-1 -1-2 1 0 1-3 -2-2 0-1 -10 0 -1 1 -10 0 -4-4 -4-2 -1-1 -3 0 -2-1 -6 0 -4 1 -2 2 -3 1 -3 3 -1 0 -2 3 -4 4 -3 1 -2 1 -4 0 -2 1 -4 1 -2 0 -4 1 -1 0 -1 1 -4 0 -2 1 -4 1 -3 0 -3 1 -24 0 -2 1 -10 0 -2 1 -10 0 -2 1 -4 0 -2 1 -16 0 -2-1 -3-1 -1 0 -2-1 -10 0 -2 1 -1 0 -3 2 -2 1 0 3 -1 1 -3 2 -1 0 -1 1 -4 0 -2 1 -10 0 -2-1 -4 0 -2-1 -4-1 -2-1 -3-1 -3 0 -4 1 -2 0 -4 1 -2-1 -3-1 3 0 2-2 3-1 1 0 2-1 3-2 0-3 -3-1 -2-2 -4-1 -4-2 -2 0 -2-1 -3-2 -1 0 -2-3 -4-1 -2-1 -4 0 -2-1 -4 0 -2-1 -4 0 -4-2 -2-2 0-1 4-2 0-3 -1-1 -21 0 -2-1 -18 0 -4 1 -3 0 -3 1 -2 1 -4 1 -1 0 -1 1 -4 2 -2 2 -3 1 -1 1 -2 1 -3 1 -3 3 -1 0 -3 3 -2 0 2 3 1 0 -1 1 -2 0 -1-1 0-3 -3 0 -2-1 -4-1 -2-1 -13 0 -3 1 -6 0 0-1 -2 0 -4-1 -2-1 -3-1 -3 0 -4-1 -2 0 -4-1 -2-1 -4-1 -2-2 -4-1 -1-2 -1 0 -4-1 -4-2 -2 0 -2-1 -4-1 -2 0 -4-1 -2 1 -4 1 -2 1 -1 0 0 3 1 1 6 3 2 2 2 0 2 1 2 0 4 1 2 0 4 1 1 0 1 1 4 2 1 0 1 1 4 1 2 0 3 1 3 3 1 0 0 9 -3 3 -6 3 -4 0 -2-1 -4 0 -2-1 -3-1 -1 0 -2-1 -4-4 0-1 -2-3 -4-1 -2-1 -1-1 -21 0 -2-1 -6 0 -4 1 -4 0 -2 1 -2 2 -2 0 -2 2 -2 1 0 1 -2 2 -2 1 -3 3 -3 1 -2 1 -4 1 -2 0 -4 1 -8 0 -4 1 -1 0 -1 1 -4 1 -2 1 0 3 2 2 3 1 1 1 2 1 4 0 2 1 1 0 3 1 2 1 4 1 1 0 3 3 -1 3 -3 3 -1 0 -3 3 -2 3 -1 1 -3 2 -2 3 -1 0 -3 2 -2 1 -2 0 -2 1 -2 0 -4 1 -2 1 -1 0 -3 1 -2 1 -4 1 -2 1 -4 1 -2 1 -4 0 -2 1 -6 2 -2 0 -3 3 0 3 1 3 0 2 4 4 2 3 1 0 2 3 -2 3 -1 0 -2 1 -4 0 -2 1 -4 1 -2 0 0 1 -4 0 -2 1 -4 1 -1 0 -1 2 -1 1 1 2 1 1 1 2 2 1 -528 0 2 0 2-1 4-1 2-1 4-1 2-1 3-1 3 0 4-1 6 0 2-1 4 0 0-1 2 0 4-1 2-1 3-1 1 0 2-1 4 0 2-1 4-1 2 0 4-1 2-1 1-1 3-1 1-2 -1-3 -2-3 -2-1 0-2 -1-3 1-1 3-2 1 0 2-1 4-1 6-3 2-2 3-2 1 0 3-3 2-3 -2-3 -1-1 0-5 1 0 1-3 2 0 2-2 2-1 2 0 2-1 4-1 0-1 2-1 2-2 1-3 -3-1 -2-1 -10 0 -2-1 -6 0 -4-1 -2-1 -3-1 -1-1 0-2 2-3 -1-3 -1 0 -2-1 -4-1 -2-1 -12 0 -4 1 -2 0 -4 1 -2 0 -4-1 -2-1 0-1 -1-2 1-2 0-1 2-3 4-1 4-2 2 0 6-3 1-3 -3-3 -2-1 -1-2 -1-1 -6-3 -3-2 3-2 0-1 2-1 3-2 1 0 2-1 4-1 2-1 4-1 2-1 4-1 2-3 -6 0 -2-1 -4 0 -2-1 -1-1 -3-1 -2-1 -1-1 -3-1 -2-2 0-2 -1-1 1 0 2-6 4-3 2-2 2-1 0-3 2-1 0-2 2-1 2-2 2-1 2-2 0-1 1-2 1-3 2-1 1-2 20 0 3 1 8 0 4 1 2 0 4 1 2 0 0 1 4 1 2 0 4 1 1 0 1 3 1 0 1 3 2 1 2 2 0 1 3 2 1 0 2 1 10 0 2-1 4 0 2-1 4-1 0-1 2-1 4-1 0-3 -1-1 -3-1 -4-2 -2 0 -3-2 0-1 -1-3 4-2 6 0 3-1 3 0 4-1 4-2 2 0 3-3 3 0 2-1 4-1 1-1 1 0 4-1 2 0 4-1 2 0 1-1 3-1 2-1 3-1 3 0 4-1 12 0 2 1 6 0 4 1 2 1 4 0 2 1 6 0 4-1 12 0 2 1 4 0 2 1 4 1 2 1 3 0 1 1 14 0 2-1 4 0 4-1 14 0 4-1 2 0 3-1 1 0 2-1 4-1 1-1 1 0 4-1 24 0 2-1 10 0 1-1 5 0 2-1 10 0 2 1 1 0 3 1 2 1 4 0 2 1 10 0 2 1 4 0 2 1 9 0 3 1 10 0 2-1 4 0 2-1 3-1 0-3 -1-3 2-2 0-1 2-1 4-1 2-2 4 0 2-1 4 0 0-1 -4 0 -2-1 -4-1 -1-1 -1 0 -4-2 0-1 -2-3 2-1 3-2 3 0 4-1 2 1 6 0 0 1 4 0 2 1 6 0 4-1 2 0 3 1 1 1 2 3 1 0 2 6 -2 3 -1 0 -2 2 -2 1 -2 3 0 1 10 5 2 0 0 3 -1 3 1 3 0 1 4 2 2 0 0 1 10 0 2-1 4 0 2-2 3-1 1 0 2-3 -2-3 -4 0 -2-1 -6 0 -4-1 -2 0 -3-1 2-3 3-2 2-1 2-2 0-2 -1-2 -2-3 0-3 3-1 4-2 2 0 2-1 4 0 2-1 16 0 2-1 1 0 3-1 2-2 4-1 12 0 2-1 1-1 1-3 -1-3 -1 0 -1-3 0-3 1-1 3-2 1 0 1-3 -1-1 -1-2 -3-2 0-1 -1-3 -1-1 -3-2 -1 0 -3-2 0-1 -3-1 -2-2 -4-2 -3 0 -1-1 -4 0 -4-1 -2-1 -1-1 -3 0 -2-1 -4-1 -2-1 -8 0 -4 2 -3 1 -3 3 -1 0 1 1 1 2 1 3 -1 3 0 3 1 3 -2 2 -4 1 -12 0 -2-1 -4 0 -2-1 -10 0 -2 2 0 1 -1 2 1 1 2 4 2 1 1 3 -6 2 -3 0 -2 1 -2 0 -4 2 -4 0 -2 1 -10 0 -2 1 -4 1 -2 1 -1 0 -3 1 -2 1 -10 0 -2-1 -4 0 0-1 -2 0 -6-3 -2-3 2-2 0-1 2-1 4-1 1-1 1 0 4-1 2-1 3-1 1 0 2-1 4-1 1-1 1-2 1-1 -1 0 0-3 -2 0 -6-3 -4-1 -2-1 -3-1 -3 0 -4-1 -2-1 -1-1 -3 0 -2-2 -4-2 -1-2 -3-3 -2-1 -1-2 1-2 1-1 2-3 1 0 2-2 2-1 2 0 2-1 4-1 0-1 2-1 4-1 2 0 4 1 2 2 10 0 2 1 6 0 4-1 2 0 2-1 2 0 2-1 4-1 2 0 4 1 2 0 4-1 2 0 4-2 1-2 -1-1 -3-2 -6 0 -1 1 -2 1 -4 1 -2 0 0 1 -4 1 -20 0 -4 1 -18 0 -2-1 -18 0 -4 1 -3 0 -1 3 2 3 0 2 -6 3 -4 1 -2-1 -4-1 0-1 -2-3 -4-2 -6 0 -2 1 -4 1 -2 2 -4 2 -2 2 -2 0 -4 2 -4 0 -2 1 -4 0 -2 1 -4 0 0-1 -2 0 -4-1 -2-2 -4-1 -2-1 -1-1 -3 0 -2-1 -4 0 -2-1 -4 0 0-1 -2-1 -4-1 0-1 4-1 2-2 1 0 -1 0 -1-3 -1 0 -4-1 -2-1 -4 0 -1-1 -1 0 -4-1 -2-1 -1-1 1 0 2-6 0-6 -1-3 1-3 1 0 3-1 2-2 1 0 3-1 2 0 4-1 2 0 2-1 4 0 4-1 6 0 4-2 -2-1 -2-2 -4-1 -2-1 -3-1 -1 0 -2-1 -4 0 -4-2 -4 0 -4-1 -2-1 -3-1 -1 0 -2-1 -4-1 -2-1 -4-1 -2 0 -4-1 -2 0 -1-1 -3 0 -2-1 -4 0 -3-1 -3 0 -2-1 -1 0 -3-1 -10-5 -8 0 -2-1 -6 0 -4-1 -2-1 -4-1 -2-1 -1-1 -3-2 0-4 -2-3 -4-2 -2 0 -1-1 -3 0 -2-1 -4-1 -2 0 -3-1 3-1 0-2 2-1 2-2 5 0 3 3 2 3 2 0 2 1 6 0 0-1 6 0 2-1 4 0 2-1 4 0 1-1 5 0 2-1 10 0 2-1 4 0 0-1 2 0 6-3 4 0 2-1 6 0 4 1 12 0 2-1 6 0 4-1 2 0 1-1 6 0 3-1 8 0 4-1 8 0 3-1 1-1 0-5 2-1 4-1 2 0 1-1 3 0 2-1 4-1 1-1 1 0 4-1 2-1 1-1 3-1 2-1 3-1 0-3 -3-1 -2-2 -4-2 -2-2 -4 0 -2-1 -10 0 -2-1 -4-1 -1-2 1 0 4-2 0-1 2-1 2-2 2-1 2-2 0-1 2-2 4-6 4-1 12 0 2 1 1 0 -1 3 4 1 2 1 3 1 1 1 4 2 4 4 4 1 2 1 1 0 3 1 2 1 4 0 2 1 6 0 4 1 2 0 4 1 2 1 2 0 2 1 2 2 3 0 1 1 2 0 4 1 2-1 4 0 0-1 3-3 -1 0 -3-3 -3 0 -3-3 -2-3 0-3 3-2 0-1 3-3 2-3 1 0 2-3 4-1 2-1 1-1 13 0 2 1 18 0 4 2 3 3 1 2 3 1 1 0 2 1 4 0 2 1 10 0 2-1 4 0 0-1 2 0 4-1 2-2 4-1 2-1 1-1 3-1 2-1 1-1 0-3 -1-2 0-1 4-2 0-1 2 0 3-1 3 0 4-1 2 0 2-1 2 0 2-2 3-1 1-1 0-2 -4 0 -2-1 -4 0 -4-2 -2 0 -2-1 -4-1 0-1 -2 0 -4-1 -12 0 -2 1 -15 0 0 1 -3 0 -4 1 -2 1 -4 0 -2 1 -4 1 -2 0 -4 1 -2-3 -4-2 -4-4 0-6 -1-3 -1-1 -1-2 -5-5 0-1 -2-3 -4-1 -4-2 -2 0 -2-1 -4-1 -2-1 -4-1 -2-1 -1-1 -1-3 2 0 2-1 3-2 -3-2 -2 0 -4 1 -2 1 -2 0 1 3 -3 2 -2 1 -4 0 -2 1 -18 0 -4 1 -2 1 -6 0 -4-1 -2-1 -1-1 -3-1 -2-1 -1-1 -3 0 -2-1 -10 0 -2 1 -16 0 -2 1 -4 1 -2 1 -2 0 -2 2 0 1 -1 3 -1 1 -4 2 -8 0 -4-2 0-2 1-2 3-1 1-2 1-3 -2-1 -2-2 -2 0 -2-2 -3-1 -1 0 -2-3 2-3 1 0 3-1 5-5 0-6 3-3 4-1 2-2 1 0 3-1 2-1 4-1 2-1 4-1 2-1 -1-3 -1 0 -3-3 -1 0 0-4 4-4 0-1 2-1 3-2 1 0 2-1 4-1 1-1 1 0 4-1 6 0 2-1 12 0 3-1 7 0 2-1 4-1 0-4 -4-2 0-1 -2-1 -4-1 -2-2 -3-2 3-1 2-1 1-1 3 0 2-1 4-1 2-1 4 0 2-1 12 0 4-1 6 0 1-1 1 0 4-1 8-4 1-1 -1 0 -2-1 -4 0 -2-1 -6 0 -4-1 -6 0 -2-1 -4 0 -2-1 -3-1 -1 0 -2-1 -3-2 0-3 3-1 4-2 2 0 2-1 4 0 2-1 4 0 0-1 2-1 3-2 1 0 2-1 4-1 2-1 4 0 2-3 1-3 3-1 2-1 4 0 0-1 2 0 4-1 2 0 4-1 1-1 1-2 2-1 -2 0 -2-2 -2-1 -2 0 -2-2 -4 0 -1-1 -11 0 -2-1 -4-1 0-2 1-2 2-3 1 0 1-3 3-3 2-1 1-2 1-1 4-1 6 3 2 2 0 1 4 2 3 0 3 1 2-1 7 0 3-1 2-2 0-3 -1-3 0-3 1-1 4 0 2-1 12 0 2-1 2 0 2-1 10 0 2-1 4 0 0-1 2 0 6-3 4 0 2-1 6 0 4-1 6 0 2 1 6 0 4 1 8 0 4-1 2 0 4-1 0-1 2-1 3-2 1 0 2-1 6 0 4-1 8 0 3-1 1 0 2-1 4-1 2-1 0-1 2-2 4 0 4-1 2-1 1-1 3 0 2-1 2-2 2 0 3-3 3-1 4-2 2 0 2-1 24 0 4 1 3 0 3 2 2 1 -2 3 0 1 -3 2 1 3 2 1 2 2 3 0 1 1 8 0 1-1 3 0 2-1 4 0 4-2 4 0 4-1 2 0 4-1 2 0 2-1 2 0 2-1 4-1 2-1 1 0 3-2 0-1 1-3 -3-3 -2 0 -2-2 -4-2 -2-2 0-1 -1-2 1-1 1-2 1 0 4-1 2-1 1-1 3 0 3-3 3-2 4-4 2-1 1-2 1 0 4-2 1-1zM2044 555l-2 3 -1 0 3 3 3 0 1 1 12 0 2-1 4-1 2 0 4-1 1-1 -1 0 -4-1 -4-2 -2 0 -2-1 -4 0 -2-1 -4 0 -2 1zM2091 555l1 2 3 1 -1 3 -3 3 1 1 6 3 4 0 2 1 4 0 2-1 6 0 4-1 2 0 4-1 4-2 -2-1 -1-2 -1 0 -6-3 -4-1 -2 0 -4-1 0-1 -2 0 -4-1 -2-1 -6 0 -4 2zM2155 561l-3 1 -2 1 -4 1 -1 0 1 3 0 1 4 0 2 1 6 0 4 1 12 0 2-1 2-2 -2-2 0-1 -2-1 -4-1 -2-1zM2492 618l2 1 4 0 1-1zM2406 624l1 3 1 1 2 1 4 1 2 0 4 1 6 0 2 1 12 0 4-1 2-1 2-3 -4-2 -4-1zM1786 687l0 1 4 0 0-1zM2757 693l1 1 4 0 2-1 -2-2 -4 2zM2145 705l1 3 -1 3 0 3 1 1 3-1 1 0 0-6 2-2 2-1 -2 0 -2-1 -4 0zM2125 717l-3 2 -2 1 2 3 0 1 6 3 4 1 2 0 4-1 0-5 -1-2 -3-2 -1-1zM1969 720l3 3 1 0 3 1 6 0 0-1 2-1 3-2 -3-2 -8 0 -4 1 -2 1zM2158 738l0 3 1 0 3 2 2 1 0 1 4 1 2 1 1 0 3 1 2 1 4 1 2 0 4 1 2 0 4-2 0-5 -4-1 -2-1 -1-1 -5 0 -4-1 -2 0 -6-3 -4-1 -2 0zM2180 765l-4 1 -2 1 -4 0 -2 1 -1 0 -2 3 -1 2 0 11 3 2 1 1 2 1 3 1 1 1 2 0 4 1 2 0 4-1 2-1 4-3 2-3 4-1 2-1 1-1 3 0 2-2 4-2 1-2 -1-3 -3-3 -1 0 -2-1 -4-1 -2 0 -2-1 -4 0 -4-1 -2 0 -4 1zM2647 831l-3 1 -2 0 -4 2 -1 0 -1 3 -1 0 -3 3 -2 1 -4 1 -2 1 -3 0 -1 1 -2 0 -4 1 -2 1 -1 0 -3 2 -1 1 1 3 1 0 3 1 2 1 6 0 4-1 6 0 1-1 1 0 4-1 2-1 1-1 3-1 2-1 4 0 1-1 1 0 4-1 2-1 1-1 3-2 1-1 1 0 4-1 2 0 4-1 2 0 1-1 3-1 2-2 -2-1 -3-2zM1717 843l-3 1 -2 1 -3 1 -1 2 0 1 -1 3 1 3 1 0 3 1 2 1 4 1 2 1 10 0 1-1 1 0 4-1 4-2 1-3 -2-3 -1 0 -3-3 -3-1 -2 0 -4-1 -2-1zM1739 870l-1 1 -1 2 1 3 2 0 2 1 1-1 1 0 2-3 -1-3zM2617 876l1 2 2-1 1-1zM1834 1035l-2 2 -2 1 -2 3 0 3 4 3 2 0 -1 3 -1 1 -4 0 -2 1 -4 1 -2 6 -1 0 -2 3 3 2 2 1 0 1 4 1 2 1 2 0 -2 3 -2 1 -16 0 -2 1 -4 0 -2 1 -4 0 -2 3 -1 0 3 3 1 0 3 3 6 3 1 0 1 1 4 0 2 1 4 1 2 0 0 1 4 1 12 0 2-2 2-3 0-3 2 0 3-3 3-1 4-2 1-3 -1-3 2-1 2-2 4-1 18 0 4-2 2 0 1-3 0-3 -3-3 -2 0 -2-1 -4-1 0-1 -2-1 -4-4 0-1 -2-2 -12-6 -1-1 -3-1 -2-2 -4 0 -2-1 -6 0zM1516 1053l4 1 2 0 2-1zM2688 1071l-6 3 -1 3 3 2 2 1 1 0 3 1 2 1 3 1 1 0 2 1 4 1 2 0 4 1 2 0 4-1 2 0 4-1 2-1 4 0 2-1 12 0 4-1 2-1 -3-3 -3-1 -4-2 -2 0 -2-1 -4 0 -2-1 -4 0 -2-1 -4 0 -2-1 -4 0 -2-1 -12 0 -4 1 -2 1zM2872 1089l0 1 4 0 2-1 -2-1zM2757 1158l-1 1 -3 2 -1 3 0 1 2 2 4 2 4 1 12 0 2-2 3-1 1 0 2-2 2-1 1-3 -3-1 -1-2 -1 0 -4-1 -2-1 -10 0 -2 1 -4 1zM1819 1203l-2 1 -3 2 -1 0 1 1 2 0 4 1 2 1 2 0 2 1 2 0 4 1 2 0 4 1 4 0 2 1 2 0 1-1 3 0 2-1 2-2 2 0 3-3 2-3 -5 0 -4-1 -6 0 -2-1 -10 0 -2 1 -4 0 -2 1zM2288 513l2-1 4 0 2 1 3 0 -2 3 -1 1 -6 0 -2-2 -3-2zM1930 534l4-1 2-1 10 0 2 1 4 0 2 1 0 3 -6 3 -3 0 -3 1 -12 0 -1-1 -1 0 -4-2 0-1 4-2 0-1zM2452 543l7 0 3 1 2 2 1 0 0 3 -1 1 -2 0 -4 1 -2-1 -3 0 -1-1 -2-3zM2042 687l2-1 6 0 4 1 2 0 -2 1 -6 0 -4 1 -2 0 -2-2zM1652 700l8 0 4 1 2 1 2 0 4 2 3 1 3 3 0 1 1 2 2 3 1 1 0 3 -3 2 -1 0 -2 2 -4 1 -2 2 -10 0 -4-2 -1-3 1-3 2-1 2-2 0-2 1-1 -1 0 -2-1 -3-2 -1 0 -3-3 -1-3zM1894 762l4-1 2 0 4 4 2 3 2 0 -1 3 -1 1 -2 1 -4 1 -2 0 -4-1 -2-1 -1-1 -1-3 2-2 0-1zM1616 822l2-2 6 0 4 1 1 1 -1 2 -4 1 -6 0 -3-3zM1496 842l2 0 4-1 2 0 4 1 18 0 2-1 4 0 2 1 4 1 2 2 4 1 2 1 4 1 2 1 10 0 2-1 6 0 4 1 8 0 -1 3 -3 3 1 3 1 0 2 1 6 0 4 1 2 1 -2 2 -4 1 -2 0 -4-1 -2-1 -10 0 -2 1 -4 0 -2 1 -2 0 -4 2 -4 1 -2 1 -4 1 -2 1 -1 0 -3 1 -2 2 -1 0 -3 1 -2 2 -2 0 -4 2 -4 1 -1 0 -1 1 -10 0 -2-1 -4 0 -2-1 -10 0 -2-1 -4 0 -2-1 2 0 2-3 2 0 2-1 3-2 1 0 2-1 4-1 2-1 1 0 3-1 2-2 0-3 -2-3 -4-2 0-1 -2 0 -4-1 -2-1 -3-1 -1 0 -2-2 -2-1 0-3 2-1 2-2 1 0zM1312 897l10 0 0 4 -4 1 -2 1 -4-1 -1-2 0-3zM1298 909l2-1 4-1 2-1 4 0 6 3 2 3 -2 2 -4 1 -8 0 -4-1 -2-1 -1-1 0-3zM1654 921l8 0 4 2 4 1 1 0 1 3 -2 3 0 3 2 3 0 1 3 2 3 3 0 1 1 2 1 3 -2 3 -2 1 -4 1 -32 0 -4-1 0-1 -2 0 -4-1 -2-1 -1-1 -3 0 -2-1 -4 1 -4 0 -2 1 -8 0 -4-1 -2-1 -3-2 -1 0 -3-3 3-3 4 0 2-1 4 0 2-1 4 0 1-1 1 0 2-3 0-3 3-3 1 0 4-1 2 0 4 1 2 0 4 1 6 0 0-1 2-1 3-2 1 0 2-2 4-1zM1292 939l2-2 10 0 2 1 4 1 9 0 -1 1 -1 2 -1 1 -18 0 -2-1 -2 0 -2-3 -1 0zM1564 954l5 0 1 1 4 2 1 0 -1 3 -4-1 -2-1 -3-1 -1-1zM1204 960l4-1 6 0 2 1 1 0 -1 3 0 3 -1 3 -1 2 -6 3 -18 0 -4-1 -2 0 -1-1 0-3 1 0 2-2 4 0 1-1 5 0 2-1 2-2 2-1 0-2zM1478 963l2 0 4-1 8 0 4 1 8 0 0 1 4 1 4 4 4 2 4 1 6 0 2 1 4 1 2 1 -2 3 -4 1 -14 0 -4 1 -2 1 -3 0 -3 3 -2 0 -1 3 1 3 4 4 4 2 0 1 -3 2 -1 1 -2 1 -3 1 0 3 3 3 2 3 2 0 -1 3 -3 3 -6 0 -4-1 -2-1 -1-1 -3 0 -2-1 -6-2 -4 0 -2-1 -4-1 -2 0 -1-1 -3 0 -2-2 -2-1 0-3 1-3 -1-3 2-2 0-1 2-1 4-1 0-1 2-1 3-2 -2-3 -1 0 -2-1 -2-2 -1-3 1-3 2-1 1-2 1-1 3-2 1-1 0-2 2-1 3-2zM1912 986l6 0 4 1 2 0 0 3 -2 2 -4 1 -2 0 -4-1 -1-2 -1-3zM995 1014l10 0 1 1 6 0 4 1 2 0 3 1 1 0 2 2 4 1 2 0 4 1 2 1 4 0 2 1 4 0 2 1 12 0 4 1 2 0 3 1 3 3 0 4 4 0 2 1 6 0 4 1 7 0 1 1 4 0 2 1 4 0 2 1 4 0 6 3 1 0 1 3 -2 3 -1 0 -3 2 -2 1 0 1 -4 1 -2 2 -3 2 2 3 1 1 2 1 4 1 1 0 1 1 4 1 2 0 4 1 2 1 4 1 2 1 2 0 2 1 8 0 4 1 2 0 4 1 3 0 3 1 2 2 1 0 0 3 2 3 1 1 2 1 3 1 1 1 4 2 1 3 0 3 -3 3 -11 0 -1 1 -2 0 -4 1 -2 1 -4 0 -2 1 -4 1 -2 0 -4 1 -1 0 -1 1 -4 1 -2 1 -1 0 -3 2 -2 1 -2 0 0 3 2 2 0 1 1 3 1 1 4 1 2 0 4 1 1 0 1 1 4 0 2 1 4 1 2 1 4 1 2 1 1 0 3 1 2 1 4 1 2 0 0 1 2 2 -3 3 1 2 4 2 6 0 2 1 4 1 1 3 -1 2 -3 1 -3 3 -1 0 -2 3 -3 3 -1 0 -3 2 -2 1 0 1 -4 2 0 1 4 1 3 1 11 0 4-1 8 0 3 1 1 1 2 1 4 1 2 0 4 1 2 1 4 0 2 1 4 0 2 1 4 1 2 1 0 1 4 1 2 1 0 1 3 2 0 6 1 1 2 1 4 0 2 1 13 0 3 1 2 0 4 1 24 0 2 1 4 0 2 2 3 1 3 3 0 1 4 1 2 1 1 0 3 1 2 1 4 1 3 0 3 1 24 0 2 1 4 1 3 0 3 3 0 1 -4 2 -2 3 -1 0 1 2 2 1 0 1 10 0 2 1 4 0 2 1 0 1 4 1 2 1 2 0 -872 0 0-120 4-1 2-1 3-1 1-1 1-2 -1-1 -4-1 -6 0 0-16 6 0 4-1 6 0 2-1 4 0 2-1 4 1 2 0 4 1 2-1 4-1 2 0 4-1 6 0 2-1 4 1 8 0 4 1 3 0 2 3 1 1 8 4 4 1 2 3 12 0 -2 3 -4-1 -2-1 -6 0 -4 1 -2 0 -4 1 -22 0 -2 1 -2 0 -4 1 -18 0 -2 1 2 2 4 1 6 0 2 1 6 0 4 1 2 0 4 1 12 0 2 1 10 0 1-1 11 0 2 1 4 1 2 1 1 0 3 1 2 1 10 0 2 1 4 0 2 2 3 1 1 1 1 2 0 3 -1 3 -1 0 -3 1 -2 0 -4 1 -2 0 -4 1 -2 0 0 2 -2 1 2 3 0 1 -4 1 -6 0 -4-2 -2 0 -2-3 1-3 1-1 3-2 1-1 1-2 -1-1 -4-1 -6 0 -2 1 -4 0 -2 1 -10 0 -2-1 -4-1 0-1 -2-2 -4-2 -2 0 -4 1 -3 3 -3 2 -2 2 -4 1 -2 1 0 1 -4 1 -1 1 -1 3 2 1 4 0 2 1 6 0 4 1 7 0 1 1 6 0 4 1 2 1 0 1 4 2 1 0 1 2 4 0 2-1 4 0 2-1 4 0 2-1 6 0 4-1 6 0 2 2 4 1 2 1 4 1 2-1 4 0 2-1 4 0 2 1 4 1 1 0 1 1 4 2 2 2 3 1 1 0 2 2 4 1 4 0 2 3 -6 3 -1 0 -3 2 -2 1 -3 0 1 3 4 0 4 1 2 0 4-1 6 0 2-1 3-2 0-3 -2-3 0-3 3 0 2-1 4-1 0-1 2 0 4-1 2-1 4 0 1-1 2 0 3-1 2 0 4-1 0-1 2-1 10 0 2-1 4 0 2-1 16 0 2 1 4 1 2 0 3 1 -3 1 -2 1 -4 0 -2 1 -2 0 -2 1 -2 0 -4 1 -2 1 -5 0 1 3 0 1 4 0 2 1 4 1 3 0 3 1 8 0 3-1 1 0 2-1 4-1 1-1 2 0 3-1 2 1 4 0 2 2 2 1 -2 1 -2 2 -2 0 -2 1 -2 0 -4 1 -2 0 -4 1 -2 0 -6 3 -1 0 1 1 0 2 2 1 4 1 2 1 2 0 4 2 3 1 3 0 0 1 6 0 4 1 2 0 3 1 3 0 4 1 2 1 10 0 3 1 3 0 2 1 3 2 1 0 2 3 -2 3 -1 0 -3 2 -1 1 1 3 0 1 4 1 2 1 6 0 4-1 2 0 4-1 1-1 1 0 4-1 2-1 4 0 1-1 4 0 3-1 4 0 0-2 -4-1 -1-2 -3-3 -1-3 3-2 1-1 1 0 6-3 4-3 2-1 4 0 2-1 4 0 2 1 6 0 4 1 2 2 3 1 1 0 2 3 1 0 0 3 1 3 0 6 2 1 2 2 2 0 2 1 2 0 4 1 2 0 4-1 2 0 3-1 1 0 2-1 4-1 6 0 1-1 1 0 4-1 0-5 3-3 3 0 2-2 4-1 2-1 4 0 2-1 4 0 2 1 3 1 1 1 2 1 10 0 2-1 4 0 2-1 0-3 4-1 2-1 3-1 3 0 4-1 2 0 4-1 6 0 2 1 16 0 2-1 4 0 0-1 2 0 4-1 14 0 4 1 2 0 4-1 2 0 4-1 4-4 0-3 -2 0 -2-1 -4 0 -2-1 -4 0 0-1 -2-1 -3-2 3 0 2-1 3-2 0-3 -3 0 -2-1 -6 0 -4 1 -2 2 -4 1 -12 0 -3-3 -3-2 0-1 -2-1 -2-2 -2-1 -1-2 -1-3 0-2 -1-1 1 0 2-3 4 0 2-1 10 0 2 1 1 0 3 1 2 1 4 1 4 0 2 1 12 0 2-1 1 0 3-1 2-1 1-1 0-3 -1 0 -2-3 -4-2 0-1 -2-1 -4-1 -1-1 -1 0 -4-1 -2-2 -4-1 -4-2 -20 0 -2-1 -6 0 -4-1 -2 0 -2-1 2 0 2-3 4-1 2-2 1 0 3-2 1-1 -1-1 -4-1 -14 0 -2-1 -8 0 -2-1 -4 1 -5 0 0 1 -3 0 -4 1 -2 1 -22 0 -2-1 -4-1 0-1 -2-1 -4-4 0-4 -2-3 -1 0 -3-2 0-1 -2-1 -2-2 -2-1 -2-2 0-2 -1-1 1-3 0-6 -4-2 0-1 -2-1 -4-1 -1-1 -1 0 -4-2 -1-1 -1 0 -4-1 -3-1 -1-1 -2 0 -2-3 0-1 -3-2 -3 0 -4-1 -2 0 -4-1 -2-1 -4 0 -2-1 -6 0 -4 1 -2 0 0 1 -4 0 -2 1 -4 1 -2 0 2 2 4 1 2 1 4 1 2 2 4 1 6 0 2-1 6 0 4 1 2 1 3 0 -3 2 -2 2 -6 0 -4 1 -2 1 -2 0 -2 1 -2 2 -3 0 -1 1 -4 2 -1 3 -1 2 0 1 -2 2 -4 1 -12 0 -2-1 -4 0 -4-2 -2 0 -2-2 -3-1 -1 0 -1-3 1-3 1 0 2-6 1-1 0-3 -4 0 -2 1 -4 1 -2 0 -4 1 -2 0 -3 1 -1 1 -2 1 -3 1 -3 3 2 3 1 0 3 2 2 1 1 0 1 3 -3 3 -1 3 0 5 -2 1 -3 3 -1 2 -1 1 0 3 1 0 2 1 6 0 4-1 18 0 2-1 10 0 2 1 7 0 3 3 1 0 -1 1 -12 0 -4 1 -6 0 -2 1 -2 0 -2 1 -2 2 -1 0 -3 1 -2 1 -4 1 -14 0 -4-1 -2-1 -3-1 -1 0 -2-1 -4-1 -2-1 -5 0 -1 1 -4 0 -2 1 -6 0 -4 1 -12 0 -2-1 -4-1 -2-2 -3-2 3-2 0-1 2-1 4-1 2 0 3-1 3 0 4-1 2 0 4-2 -28 0 -2-1 -10 0 -4-2 -2 0 -2-1 -2-2 -2-1 -1-2 -1-3 1-3 -1-3 -4-2 0-1 -2-1 -3-1 -3 0 -2-1 -28 0 -4-1 -2-1 -3-1 -1 0 -3-3 1-2 0-1 2-1 6 0 4 1 2 0 0 1 4 0 2 1 4 0 2 1 12 0 4-2 0-1 -1-3 -2-3 -1-1 0-3 1-2 3-2 0-1 2 0 4-1 6 0 2-1 6 0 4-1 6 0 2-1 16 0 2 1 5 0 1 1 4 1 2 1 2 0 2 1 2 0 4 1 6 0 2 1 7 0 3 1 2 0 4 1 2 0 4 1 2 0 0 1 4 0 2 1 4 1 4 0 4 2 4 0 2 1 4 0 2-1 3-2 1 0 1-3 -1-3 1-3 0-6 17 0 2 1 6 0 4 1 2 0 4 1 2 0 4 1 0-1 2 0 4-1 2-2 4 0 2-1 4 1 4 0 4 2 4 1 2-1 4 0 4-2 2 0 2-1 3-2 1 0 2-2 6-3 1-1 11 0 4-1 8 0 4-1 8 0 4-1zM1059 1068l1 3 0 6 1 0 3 2 2 1 1 0 3 1 2 0 3-1 1 0 2-1 3-2 0-3 -3-1 -2 0 -4-1 -2-1 -4-1 -1-2zM718 1149l-2 1 -4 1 -1 1 1 3 0 1 4 1 8 0 4-1 1-1 1-2 1-1 -1-1 -2-1 -4 0 -1-1zM1065 1170l-1 3 1 3 1 1 4 1 2 1 6 0 4-1 4-2 0-3 -2 0 -2-2 -3-1 -3 0 -4-1 -2 0 -4 1zM690 1182l2 1 2 0 4-1 -4-1 -2 1zM967 1197l-3 1 -2 1 -4 1 0 3 4 1 2 1 12 0 4-1 2-1 0-3 -2-1 -4-1 -2 0 -3-1zM997 1203l1 1 0 2 2 1 4 1 2 1 4 1 2 1 6 0 4-1 2 0 3-1 1-1 0-2 -6 0 -4-1 -8 0 -4-1 -2 0 -2-1zM1426 1104l6 0 -2 3 -6 3 -4-1 0-2 4-2 1-1zM704 1125l2 0 4-1 6 0 1 1 1 3 1 0 1 3 -2 2 -2 1 -4 0 -2-1 -4 0 -2-1 -3-1 -1 0 -2-3 2-1 3-2zM646 1128l1 0 -1 1zM2560 1128l4-1 2 0 3 1 1 0 -4 2 -2 0 -4-1zM2174 1134l2-1 10 0 2 1 1 0 3 2 2 2 4 1 2 1 5 0 1 1 4 1 2 1 2 0 1 3 0 3 -5 5 -2 1 -2 2 0 1 -2 3 0 3 2 3 0 2 1 1 3 2 1 1 1 2 1 1 -1 2 0 1 -2 3 0 3 2 2 4 1 2 1 4 1 8 0 4 1 1 0 1 1 4 2 2 3 1 0 3 3 1 0 1 1 4 1 18 0 2 1 4 0 2 1 6 0 4-1 2 0 6-3 24 0 4-1 2 0 4-1 0-1 6 0 2-1 16 0 2 1 8 0 2 1 2 0 4 1 2 0 3 1 1 0 2 2 3 1 1 1 2 1 4 1 1 0 1 2 3 1 -1 3 -2 2 -2 1 0 1 -3 2 -1 1 -1 2 1 1 4 0 2 1 12 0 4 1 4 0 -395 0 -1-3 0-3 2-1 1-2 1-1 4-1 0-1 2-1 4-1 0-4 -4-1 -2-1 -1-1 -3-1 -2-1 -1-1 -3-2 -1-1 -1-2 -2-1 -1-3 -1 0 -1-3 0-3 1-2 1-1 3-1 12 0 2 1 10 0 3-3 3-2 1-1 7 0 4-1 14 0 4-1 1-1 1 0 4-1 2-1 1-1 3 0 2-1 4-1 14 0 4 1 2 1 4 0 2 1 4 0 2 1 6 0 4-1 6 0 2-1 4-1 1-2 0-3 -1-3 -4-2 0-1 -2-1 -2-2 0-3 2-1 1-2 1-1 3-2 1 0 2-2 6-3 3-1 1 0 2-1 4-1 1-1 1 0 4-1 2-1 1-1zM952 1140l17 0 1 1 6 2 1 0 -3 3 -4 1 -18 0 -2 1 -6 0 -4-1 0-1 -1-3 1 0 4-1 2-1 4 0 0-1zM2104 1146l4-1 6 0 1 1 -1 1 -4 1 -2 0 -4-1 -1-1zM2546 1148l6 0 2 1 2 0 2 3 0 1 -4 1 -6 0 -2-1 -4-1 0-2 1-1zM2528 1152l7 0 -1 1 -4 0 -2-1 -1 0zM2470 1218l4 0 2 3 1 0 3 3 3 0 -40 0 1 0 2-1 4-1 0-1 2 0 4-1 2 0 4-1 2 0 4-1z"/>
<path fill="#ea7457" fill-rule="evenodd" d="M1886 693l2-1 4 0 2-1 6 0 4 1 2 0 4 1 1 0 1 1 4 2 1 0 -1 1 -3 2 -1 0 -2 1 -10 0 -2-1 -4 0 -2-1 -4 0 -2-1 -3-1 0-3zM2696 729l18 0 2-1 4 0 2-1 16 0 2 1 6 0 4 1 3 3 3 2 2 2 4 2 2 2 4 1 2 3 -2 2 -6 3 -4 1 -2 1 -4 1 -2 0 -3 1 -1 0 -2 2 -4 1 -1 0 -1 1 -4 2 -2 3 -1 0 -2 6 1 3 4 4 3 2 0 3 -3 2 -2 1 -3 0 -1 1 -6 0 -2 1 -4 0 -2 1 -1 0 -3 2 -1 1 0 3 -1 3 0 1 -3 2 -1 2 0 3 2 1 2 2 2 1 -2 2 -6 0 -4 1 -3 0 -3 2 -2 2 -6 3 -6 0 -4 1 -2 1 -2 0 -2 1 -2 0 -4 1 -2 0 -4-1 -2-1 1-3 1-1 3-2 1 0 2-3 -2 0 -4-1 -2-1 -6 0 -4 1 -6 0 -2 1 -3 0 -1 1 -2 1 -4 1 -2 1 -4 0 -2-1 -1-3 -3-2 0-1 -2-1 -2-2 -1-3 1-3 2-1 1-2 1-3 -3-3 -3-1 -2-1 -1-1 -3-1 -2-1 -1-1 -3-1 -2-4 -1-1 0-3 1-1 0-5 -4-2 -6-6 0-1 -2-2 -2-1 -8 0 -2-1 -6 0 -4-1 -6-3 0-1 -2-1 -2-2 0-3 2-1 2-2 4-1 4-2 2 0 2-1 4-1 2 0 4-1 2 0 4 1 6 0 2 1 6 0 4-1 2-1 4-1 2-2 4 0 2-1 6 0 4-1 30 0 2 1 4 0 2 1 7 0 3 1 2 0 4 1 2 1 4 1 2 0 1-1 0-3 3-1 4-2zM3080 801l2-1 4-1 0 339 -24 0 -3-1 -1 0 -2 1 -4 1 -2 1 0 3 2 3 2 0 2 1 2 2 1 0 -1 1 -1 2 -1 1 -4 1 -2 1 -3 0 -1 1 -1 2 1 3 0 2 1 1 -3 3 -1 0 -3 1 -2 1 -4 0 -2 1 -4 0 -2 1 -3 2 -1 2 0 1 -2 3 0 1 -3 2 -3 3 -2 0 -4 2 -4 1 -2 3 -1 0 1 1 2 1 3 1 3 3 2 0 3 3 1 2 1 1 -1 2 0 1 -2 2 -2 1 -4 6 0 1 -4 1 -2 1 -4 0 -2 2 -4 1 -2 2 -4 1 -22 0 2 0 2-2 2-1 2-2 0-1 -1-3 -3-2 0-4 -1-3 -1 0 -4-2 -14 0 -4-1 -2 0 -4-1 -2-1 -3-1 -1 0 -2-1 -3-2 -1-1 0-5 2-3 6-3 2 0 2-1 4-1 0-1 2-3 -3-3 -3-1 -2-2 1-3 3-3 0-3 -2-1 -5-5 -1 0 -1-3 -1-2 -4-4 -2-3 -4-1 -4-2 -2 0 -2-2 -2-1 2 0 2-3 1 0 3-1 2-2 0-2 1-1 2-3 1 0 2-1 3-2 1 0 3-3 3-2 1-1 1 0 4-1 8 0 4 1 2 0 0 1 4 2 2 2 3 1 1 1 2 1 3 1 1 1 2 1 4 1 3-3 2-3 -2-3 -1 0 -2-2 -4-2 -1-2 -3-3 -2-1 -2-2 2-1 6 0 4-1 2-1 1 0 3-1 2 0 4-1 2-1 22 0 2 1 4-1 -2-3 -2 0 -2-1 -4 0 -2-1 -4 0 -2-1 -4 0 -2-2 -2-1 -2-3 4-1 2-2 1 0 0-3 -5 0 -4 2 -4 1 -1 0 -1 1 -18 0 -4 1 -8 4 -16 0 -2-1 -4 0 -2 1 -1 0 1 0 2 1 12 0 4-1 2 1 4 0 2 2 1 0 2 3 1 2 0 1 2 3 -2 1 -4 1 -2 0 -4 1 -5 0 0 1 -7 0 -1-1 -5 0 -2-1 -3-2 -1-1 -1-2 -1-3 -4-1 -2-1 -3-1 -3 0 -4-1 -2-1 -1-1 1 0 2-6 0-1 3-2 3-3 -3-3 -1-3 2 0 2-1 4 0 2-1 4-1 8 0 4-1 2-1 1-1 2-3 -3-1 -2 0 -4-1 -2 1 -18 0 -4-1 -12 0 -6 3 -2 0 -4 1 -2 1 -4 0 -2 1 -7 0 0-1 1-2 0-1 2-1 4-1 1-1 2 0 3-1 2-1 4-1 1-3 0-12 -1-1 -1-2 -2-3 -1-2 0-1 -2-6 -3-3 -1 0 -2-1 -4-1 0-1 -3-3 1 0 2-3 -1-3 -1 0 -4-2 -1-1 -1 0 -4-2 -1-1 -1 0 -4-1 -2-2 -1 0 -3-1 -2-2 0-1 -2-2 -1-3 0-3 -1-2 0-1 1-3 3-1 2 0 4-1 1-1 1-2 1-1 -1 0 -2-3 -4-2 -1-1 -1 0 -4-2 -1-1 0-3 1-2 2-1 6 0 2 1 12 0 2 1 4 0 2 1 4 0 2-1 4-1 0-1 2 0 4-1 2 1 10 0 2-1 4 0 2-1 4 0 2-1 4 0 2-1 4-1 1-1 1 0 3-3 1 0 1-3 0-3 -1-2 -1-1 -2-3 -1-1 0-3 2-2 2-1 2-2 4-1 4-2 2 0 2-2 4-2 2-2 4-2 2-2 4-2 3-3 0-3 1-3 2-1 1-2 1-3 -1-3 3-3 2 0 2-2 2-1 2 0 2-3 1 0 3-2 2-2 3-2 1 0 2-1 4-1 2-1 4-1 2-1 3-1 1 0 3-3 3-2 0-2 -1-2 -3-1 -2-4 -1-1 0-3 -2-3 -1 0 -2-2 -2-1 1-3 1 0 1-3 -1-3 0-2 -1-1 -1-3 2-2 0-1 2-1 3-2 0-3 -1-3 1-3 1 0 1-3 3-3 2 0 2-2 4 0 1-1 35 0 2-1 4-1 2-1 1 0 3-2 1-1 1-3 -2-6 0-3 2 0 4-1 2-2zM2931 1077l-1 2 -1 1 1 1 6 3 2 0 4 1 8 0 4 1 6 0 6 3 2-1 1-2 3-2 0-1 -3-3 -1 0 -2-3 -1 0 -3-1 -2-1 -16 0 -2 1 -10 0zM2464 818l4-1 2 1 1 1 2 3 3 3 -1 3 -1 1 -4 0 0-1 -2-1 -4-1 0-1 -3-3 1-2 0-1zM2474 833l14 0 4 1 1 3 -1 1 -3 2 -1 1 -2 0 -4 1 -2 0 -4 1 -3 0 -3 1 -2 1 -4 1 -2 1 -4 0 -2 1 -4 0 -2-1 -4 1 -2 0 -2 1 -2 2 0 1 -2 6 0 1 -4 4 -2 1 0 1 -4 1 -2 0 -4 1 -26 0 -4-1 -2-1 -4 0 -1-1 -1 0 -4-1 -14 0 -3 1 -1 1 -2 1 -3 1 0 3 3 2 2 1 3 0 1 1 2 0 4 1 2 0 4 1 6 0 0 1 -2 2 -2 1 -6 0 -2 1 -28 0 -2 1 -4 0 -2 1 -4 0 -2 1 -4 1 -6 3 -2 0 0 1 -6 0 -1-1 -1-3 2 0 2-2 2-1 2 0 2-1 3-2 1 0 2-1 4-1 2-1 4 0 2-1 4-1 1-1 0-3 -1-2 -1-1 1 0 2-6 0-3 1 0 3-1 2-1 4 1 2 0 4 1 8 0 4-1 2-1 4 0 1-1 7 0 4-1 6 0 2-1 6 0 3-1 7 0 2-1 4 0 2-1 3-1 1 0 2-1 4-1 2-1 4 0 2-1 4 0 1-2 1 0 4-1 2-1 1-1 3 0 2-1 4-1 2-1 4-1zM2272 845l4 0 2 1 3 0 3 3 0 3 -2 3 0 2 -1 1 1 1 1 2 1 1 4 1 2 1 0 1 4 2 1 0 0 3 -1 1 -4 1 -2 1 -12 0 -4-1 -2-2 0-3 1-3 -1-1 -3-2 -1 0 -2-1 -4 0 -3-2 -2-3 2-3 1 0 2-2 2-1 2 0 2-2 4-1zM1810 894l4-1 2-1 6 0 4 1 2 1 1 0 0 3 1 3 4 2 4 1 3 0 1 3 -4 4 -4 2 -12 0 -2-1 -4 0 -2-1 -4 0 -2-1 -4 0 -6-3 -3-3 0-3 1-1 2-1 4 0 2-1 1 0 3-1zM1792 918l5 0 1 1 4 1 2 1 10 0 3-1 3 1 1 0 -1 1 -4 1 -2 1 -4 1 -8 0 -4-1 -2 0 -4-2 -1-1zM1726 921l4 0 2 1 3 2 1 0 -4 2 -6 0 -2-1 -1-1 1-2 1-1zM2236 924l4-1 2-1 6 0 4 1 2 1 2 0 4 2 4 1 2 3 1 0 -1 3 -2 2 -4 1 -2 0 -4 1 -2-1 -4 0 -2-1 -4-1 -1-1 -1 0 -4-1 -3-2 -1-3 2-1zM1850 948l12 0 2 3 -2 3 -1 0 -3 1 -2 1 -4 0 -2-1 -3-1 -1 0 -1-3 1-1 3-2zM976 1020l6 0 4-1 20 0 4 1 1 0 1 1 4 1 8 4 2 0 2 2 2 1 1 0 3 2 2 1 0 1 2 2 0 6 2 1 2 2 2 0 2 1 2 0 4 1 2 0 4 1 4 0 -2 0 -2 1 -4 0 -2 1 -4 1 -2 2 -3 1 -1 1 -1 2 1 3 0 3 -2 6 0 1 -3 2 -3 3 0 1 -4 2 -2 0 0 1 -4 1 -2 1 -1 0 -3 1 -6 0 -2 1 -4 1 -2 0 0 1 -4 0 -2 1 -4 0 -2 1 -4-1 -2 0 -4-1 -2-1 -1 0 -2-3 -1 0 -2-3 -4-2 -2-2 -3-2 -1 0 -1-3 0-3 1-3 3-3 1 0 2-3 -2-3 -1 0 -3-1 -2-1 -3-1 -1 0 -2-1 -4-1 0-1 -2-1 -2-2 -1-3 0-3 1-3 4-2 1-1 3 0 2-1 4-1 1-1 0-6 1 0 4-1 2-1 4-1zM740 1035l2 0 4-1 6 0 2-1 6 0 4 1 2 1 2 0 2 1 2 2 1 0 2 3 -1 3 1 3 3 3 5 0 1 1 6 0 4 1 2 1 1 0 3 3 2 6 0 3 -1 3 -1 1 -4 1 -2 1 -1 0 -2 1 -3 0 -4 1 -20 0 -4 1 -12 0 -6-3 -1-3 1-3 -3-9 1 0 3-3 3-1 1-2 3-3 -1-2 -1-1 -6 0 -2-1 -6 0 -3-2 0-3 3-1 2-1 3-1zM1076 1041l2-1 10 0 2 1 7 0 3 1 2 2 1 0 -3 3 -4 1 -2 1 -16 0 -2-1 -4-1 -2-1 -2-2 2 0 2-2 2-1zM2018 1067l2-1 22 0 2 2 1 0 -3 3 0 2 -1 1 0 3 -2 3 -1 1 -12 0 -6-6 0-1 -2-3 -3-3zM1753 1080l4 0 -1 1 -2 0zM1112 1083l2-1 4 1 2 0 0 1 4 1 2 0 4 1 1 0 1 3 -2 2 -3 1 -1 1 -8 0 -3-1 -1 0 -2-3 0-1 -1-2 -1-3zM2012 1095l2-1 4 0 2 1 3 0 1 3 -3 1 -7 0 -2-1 -3-3zM1790 1101l2-1 4 0 2 1 3 0 3 3 2 0 4 6 1 0 3 3 1 3 1 1 4 1 2 1 4 1 2 1 4 0 2 1 4 0 2 1 4 1 8 4 5 0 1 1 6 0 2-1 12 0 4 2 4 1 6 3 1 3 -1 1 -4 1 -2 1 0 1 -4 2 1 3 3 2 1 1 2 3 0 1 -1 2 -2 2 -4 1 -1 0 -1 1 -4 1 -2 1 -3 0 2 3 -3 2 -2 1 -5 0 -1 1 -6 0 -4 1 -2 1 -4 3 -1 3 -1 2 -4 1 -2 2 -4 1 -2 1 -4 1 -6 0 -2-1 -3-1 -1 0 -2-1 -10 0 -2-1 -1-1 1 0 2-3 0-1 1-2 -1 0 -2-1 -4-1 -2-1 -4 0 -2-1 -4-1 -6-3 0-2 1-2 3-1 2-1 3-1 -1-3 -2-1 -2-2 -4-2 -6 0 -2 1 -4 1 -2 2 -3 1 -1 1 -1 2 -1 3 0 1 -1 2 1 3 2 3 1 0 -1 0 -2 3 -1 0 -3 1 -17 0 -3 1 -16 0 -2 1 -3 0 -1 1 -2 4 -2 1 -2 2 -2 1 0 1 -6 3 -4 1 -2 1 -2 0 -2 1 -2 0 -4 1 -2 1 -3 0 -3 3 -2 0 4 4 4 2 1 0 1 1 4 2 2 3 1 0 -1 1 0 2 -2 3 0 2 -1 1 -2 3 2 3 -192 0 3-2 3-1 1 0 2-2 4 0 1-1 4 0 3-1 4-1 2 0 1-1 3-1 4-2 1-3 1 0 2-3 4-2 1-1 1-3 -2-1 -2-2 -2 0 -2-1 -6 0 -4 1 -6 0 -2-1 -6 0 -4-1 -2 0 -1-1 -3-2 -1-1 3-3 2 0 2-1 4-1 8 0 2-1 26 0 2-1 4 0 4-2 4 0 4-1 2 0 4-1 2-1 1-3 3-2 1-1 7 0 4-1 2 0 4-1 2 0 3-1 27 0 4-1 2-1 1-1 3-2 0-4 -2-3 -2 0 -2-2 -4 0 0-1 -2 0 -4-1 -2-1 -3 0 -1-1 -2-1 -2-2 2-1 1-2 1 0 4-1 2-1 1-1 3-1 2-1 1-1 3-1 4-2 1 0 3-1 4-1 2 0 2-1 -2-1 0-2 -2-1 -2-2 -4-2 -1-1 -3-1 -2-2 1-3 1 0 6-3 4-1 2-2 0-1 2-2 2 0 2-1 3-2 1 0 2-1 4-1 12 0 2 1 4 0 2 1 5 0 1 1 4 0 2 1 6 0 4 1 9 0 3 2 2 1 1 0 0 3 -1 1 -2 0 -4 1 -2 0 -3 1 3 2 6 0 2-1 3-1 5 0 2 1 2 0 4 1 2 1 0 1 4 0 2 2 2 0 2 1 2 2 1 0 3 1 2 1 3 1 1 0 2 2 3 1 1 1 2 1 10 0 2-1 1-1 2-3 -2-3 -1 0 -2-1 -4-1 -2-1 -4 0 -2-1 -4-1 -2 0 -1-1 -3 0 -3-3 1 0 2-2 10 0 1-1 1 0 4-1 4-2 2 0 2-2 2-1 2 0 2-2 4-2 2-4 2-1zM1655 1119l3 2 2 2 4 1 2 1 3 0 3-2 1-1 2-3 -3-1 -14 0zM1850 1146l0 1 -4 1 -2 1 0 1 -4 1 -2 1 -1 0 3 3 1 0 3 1 2 2 2 0 4 2 6 0 4-1 0-4 4-6 -2-1 -2-2 -4-1 -2 0 -4 1zM1984 1101l4-1 2 0 4-1 2 0 4 1 2 0 8 4 -1 3 0 1 -6 2 -1 1 -2 1 -9 0 -6-2 -1 0 -2-1 -3-2 0-3 3-1zM518 1110l2-1 16 0 2 1 5 0 -1 3 0 1 -4 1 -2 1 -2 0 -4 2 -16 0 0-7 1-1zM2846 1116l2-1 6 0 4 1 6 0 3 3 -1 1 -2 1 -4 0 -2-1 -4 0 -1-1 -1 0 -4-1 -3-1 0-1zM1894 1122l4-1 6 0 2 1 0 3 -2 1 -4 1 -8 0 -4-1 0-1 4-3zM517 1128l1 1 2 0 4 1 2 1 3 0 1 1 2 1 4 1 1 0 1 1 4 0 2 1 4 0 2 1 4 0 2 1 4 0 2 1 3 1 3 3 1 0 3 2 2 1 1 0 3 1 2 1 4 1 2 2 3 1 3 3 1 0 3 2 2 1 0 2 1 1 0 6 1 3 -2 3 -2 2 -4 1 -2 0 2 2 4 2 2 0 4 2 1 0 1 1 4 2 1 0 1 2 2 1 -4 6 -1 3 1 1 2-1 1 0 3-1 6-3 2 0 4-1 12 0 2-1 4 0 1-3 0-3 1-1 4-2 6 0 2 2 2 1 -4 4 -4 1 -2 0 -4 1 0 1 2 2 2 1 2 2 0 1 4 2 1 3 1 2 1 1 3 1 8 0 3-1 1 0 2-1 4 0 2 1 2 0 2 2 0 1 2 3 0 1 2 2 1 3 1 2 0 4 -178 0 0-64 10 0 2 1 22 0 2-1 10 0 2-1 4-1 -1-3 -3 0 -2-2 -2-1 -2 0 -2-1 -4-1 -6 0 0-1 -2 0 -4-1 -6-3 -2-2 0-1 -1-2 -3-2 0-1 -2-1 -10 0 0-8zM1132 1128l4-1 8 0 4 1 2 3 1 0 -1 2 0 1 -2 2 -2 1 -2 2 -2 1 -6 0 -4-1 -5-5 1-3 3-3zM2864 1128l2 1 4 0 2 1 4 1 2 2 3 1 -1 3 -2 2 -2 1 0 1 -6 3 -4 1 -2 1 -19 0 -3 1 -2 1 -12 0 -4-1 0-1 -2-1 -4-1 0-1 -2-3 -1 0 0-3 -1-3 6 0 2 1 2 0 4 1 6 0 2 1 18 0 4-1 2-2 1 0 0-3 2-3zM2830 1152l4-1 2 1 6 0 4 1 2 2 1 0 3 2 1 1 1 2 3 1 1 1 1 2 0 3 -1 2 -3 1 -1 1 -6 3 -2 2 -3 0 -1 1 -2 0 -4 1 -2 1 -2 0 -4 2 -4 1 -2 1 -4 1 -2 0 -4 1 -6 0 -2-1 -3-1 -2-1 -1 0 -4-2 0-2 1-2 3-2 0-1 2-2 8-4 2 0 2-1 3-2 1 0 1-3 0-3 3-3 4-2 4 0 1-1zM1174 1173l4 0 2 1 16 0 2 1 4 1 1 0 -1 3 0 3 2 1 4 1 2 1 0 1 4 1 2 1 1 0 3 1 2 1 3 1 1 0 2 3 2 0 -2 2 -2 1 2 3 6 0 4-1 2-1 18 0 4 1 1 1 -1 2 -1 1 -2 3 1 3 0 3 -2 1 -2 2 -2 0 -2 2 -2 1 0 1 -4 1 -2 1 -4 0 -2-1 -3-2 -1 0 -2-1 -6 0 -1 1 -1 3 -3 3 -65 0 2-3 2-1 2-2 -3-3 -3-1 -2-2 -4-2 -1-1 0-3 1-1 4-1 0-1 2-1 4-1 1-1 1 0 2-3 2 0 3-3 3-1 2 0 4-1 2-1 4-1 2-1 3-1 1-1 1-2 -1-2 -1-1 -3 0 -2-1 -4-1 -3 0 0-1 -3-1 -2-1 -1-1zM2758 1185l4 0 2-1 4 0 2 1 3 0 1 1 0 3 -4 2 -6 0 -2-1 -3-2 -1-1zM3032 1188l9 0 3 2 2 1 -1 3 -1 1 -4 0 -2 1 -4 0 -2-1 -4 0 -2-1 0-1 -1-2 1 0 2-2 3-1zM1052 1191l2-1 4 0 2-1 4 0 2 1 4 0 2 2 4 2 1 0 1 1 3 2 -1 3 -2 2 -20 0 -4-1 -2 0 -6-3 -1-1 0-3 1 0 2-1 3-2zM2612 1191l2 0 -2 1 -3-1zM2764 1193l4-1 2 2 1 0 3 2 2 1 0 3 -2 1 -4 1 -2 0 -4-1 -2-1 -1-3 3-3zM1894 1196l4-1 2 0 4 1 2 1 2 0 -4 2 -6 0 -3-1 -1-1zM2659 1200l12 0 1 1 0 3 -10 0 -1-1 -1-2zM2782 1200l4-1 2-1 6 0 2 2 -1 3 -1 0 -2 2 -3 1 -1 0 -2 1 -1-1 -3-1 -2-2zM2608 1206l10 0 2 1 4 1 2 0 4 1 3 0 -1 2 0 1 -2 1 -4 1 -2 1 -4 0 -2 2 -4 0 -2-2 -4-1 -2-4 -1-1 1 0 1-3zM902 1208l2 0 3 1 3 3 2 0 -1 3 -1 1 -2 1 -4-1 -2 0 -1-1 -2-3 1-3zM970 1212l12 0 0 1 3 2 2 0 -1 2 -6 3 -6 0 -4-1 -2-2 -1-2zM2690 1212l4 0 2 1 2 4 2 1 3 3 -1 2 -2 1 -28 0 2 0 4-1 2-2 -1-3 0-3 1 0 6-3zM2768 1215l2 0 4-1 6 0 2 1 2 0 -4 4 -4 1 -2 1 0 2 -1 1 -22 0 0-3 1-1 3-2 1 0 2-1 4 0 2-1 3-1zM1042 1218l8 0 2 1 6 0 2 1 4 0 2 1 4 0 2 1 4 1 2 1 6 0 4-1 5-5 1 0 2-1 4 0 2 1 6 0 0 1 6 0 4 1 2 0 4 1 2 0 0 1 4 2 -101 0 1-1 3-2 1 0 2-1 4-1zM2596 1221l4 0 2-1 4 0 2-1 16 0 2 1 4 0 2 1 2 0 2 1 2 2 2 0 -51 0 1-1 4-1 0-1z"/>
</g>
<path d="M814.0 294.4V1221.5M1177.8 294.4V1221.5M1541.5 294.4V1221.5M1905.2 294.4V1221.5M2269.0 294.4V1221.5M2632.8 294.4V1221.5M2996.5 294.4V1221.5M517.5 1099.3H3082.5M517.5 953.6H3082.5M517.5 808.0H3082.5M517.5 662.3H3082.5M517.5 516.7H3082.5M517.5 371.0H3082.5" stroke="#aaaaaa" stroke-opacity="0.27" stroke-width="2" fill="none"/>
<path d="M515.0 553.1 517.4 553.9 519.1 554.0 521.7 553.3 524.3 552.4 527.1 551.7 529.1 551.7 530.6 552.0 532.3 552.6 533.7 553.5 534.8 554.5 536.2 554.8 537.8 553.4 539.3 551.6 541.2 549.6 543.2 547.9 545.1 546.6 547.5 545.2 550.3 543.9 552.9 542.7 555.5 541.4 557.3 539.9 558.4 538.5 559.9 537.1 561.9 536.1 563.7 535.3 565.6 534.4 566.8 533.4 567.5 532.5 569.0 531.9 571.9 532.1 574.8 532.6 577.4 533.4 578.1 534.5 577.8 535.7 577.1 537.0 575.2 538.5 573.2 539.9 571.1 541.3 569.6 542.5 568.4 543.4 567.5 544.4 567.3 545.5 567.5 546.5 568.0 547.5 569.2 548.2 570.5 548.8 572.5 549.4 575.2 550.1 577.8 550.7 580.3 551.6 581.9 553.1 582.9 554.6 584.2 556.3 586.0 557.8 587.6 559.1 589.1 560.6 589.9 562.0 590.3 563.3 591.1 564.7 592.5 565.9 594.0 566.9 595.6 568.1 597.0 569.3 598.1 570.4 600.0 571.5 602.9 571.9 605.9 572.1 609.1 572.5 611.6 573.4 613.4 574.3 615.3 575.6 616.5 577.2 617.2 578.7 618.0 580.2 618.5 581.3 619.3 582.9M619.3 582.9 616.9 581.8 615.0 581.2 612.1 580.7 609.1 580.2 605.5 580.0 601.7 580.4 598.4 581.0 594.7 581.5 591.4 581.7 588.8 581.7 586.1 582.0 584.0 583.0 582.5 584.1 580.7 585.7 578.8 587.8 577.1 589.8 575.7 591.9 575.4 593.7 575.6 595.0 576.2 596.5 577.6 597.9 579.1 599.0 580.1 600.4 579.7 602.0 578.7 603.5 577.9 605.3 577.8 607.0 578.1 608.5 577.7 610.3 576.1 612.2 574.3 614.0 572.3 615.8 570.5 617.4 569.2 618.7 567.7 620.2 566.2 621.8 564.9 623.1 562.9 624.5 559.9 625.4 557.0 626.1 553.7 626.8 550.9 627.2 548.6 627.4 545.9 627.9 543.0 628.9 540.4 630.1 537.2 631.1 533.9 631.5 530.9 631.7 527.3 631.8 523.4 631.9 515.0 631.9M619.3 582.9 623.4 583.7 625.4 583.9 627.3 583.7 628.8 583.4 630.3 582.8 631.4 582.0 632.1 581.3 633.7 580.5 636.9 579.8 640.2 579.3 644.2 578.7 648.1 578.3 655.3 577.5M655.3 577.5 661.8 577.0 665.1 576.4 667.9 575.4 670.1 574.3 672.7 573.0 675.1 571.9 677.1 570.9 678.7 569.6 678.8 567.8 678.3 566.2 678.1 564.3 678.6 562.5 679.3 561.1 680.3 559.5 681.5 558.3 682.6 557.4 684.5 556.5 687.4 556.0 690.4 555.7 694.0 555.4 697.9 555.3 702.3 555.2 706.0 554.9 709.1 554.4 711.4 553.8 714.1 553.6 716.7 554.4 718.7 555.5 721.4 556.5 724.7 557.0 727.6 557.2 730.3 556.7 731.4 555.0 731.6 553.0 732.0 551.2 732.7 550.4 733.5 550.3 734.5 550.6 735.8 552.0 737.1 553.7 738.9 555.0 741.2 555.2 743.4 554.8 746.1 554.2 749.1 553.3 751.7 552.4 754.2 551.3 755.6 550.2 756.3 549.3 756.9 548.1 756.8 546.8 756.4 545.7 756.5 544.7 757.7 544.2 759.2 544.1 761.0 544.2 763.1 545.0 765.0 545.9 767.1 546.3 769.3 545.4 771.2 544.1 773.7 542.8 776.8 541.7 779.8 540.9 783.3 539.9 786.8 538.7 789.8 537.7 792.3 536.5 792.8 535.3 792.4 534.4 791.7 533.3 790.2 532.4 788.8 531.6 787.4 530.5 786.8 529.0 786.5 527.5 786.6 525.9 787.4 524.5 788.4 523.4 790.1 522.3 793.0 521.6 796.0 521.2 799.3 520.8 802.5 520.4 805.1 520.0 807.9 519.5 810.0 518.7 811.7 518.0 813.3 516.8 814.1 515.2 814.6 513.5 815.9 511.9 818.7 510.7 821.9 510.0 825.5 509.1 829.0 508.0 832.0 507.0 835.5 505.8 839.2 504.5 844.1 502.8 847.9 501.7 851.9 501.3 858.8 501.1 862.2 500.5 864.5 498.9 866.0 497.2 868.2 495.5 871.2 494.2 874.2 493.3 877.6 492.0 880.7 490.3 883.4 488.7 886.6 487.1 890.3 486.3 893.7 486.0 897.5 485.5 901.1 484.8 904.0 484.2 907.5 483.6 911.0 482.9 914.0 482.4 916.8 481.6 918.3 480.5 919.1 479.4 920.5 478.1 923.0 476.9 925.6 476.0 928.4 474.6 930.8 472.9 932.7 471.3 935.2 469.6 938.3 468.2 941.3 467.3 944.9 466.4 948.8 465.9 953.2 465.6 957.2 465.5 961.2 465.6 965.6 465.9 969.3 465.9 972.2 465.3 974.5 464.5 976.7 463.4 978.2 461.9 979.2 460.4 980.2 458.8 980.9 457.2 981.4 456.0 982.2 454.7 983.4 454.0 984.5 453.5 985.8 453.3 987.1 453.7 988.2 454.3 989.4 455.2 990.4 456.5 991.1 457.9 992.3 459.3 994.2 460.5 996.0 461.4 998.1 462.5 999.9 463.7 1001.4 464.8 1003.2 465.9 1004.9 466.6 1006.4 467.0 1008.1 467.1 1009.9 466.5 1011.4 465.8 1012.8 464.7 1013.7 463.2 1014.2 461.7 1015.3 460.3 1017.3 459.5 1019.4 459.1 1021.8 458.9 1024.4 459.0 1026.6 459.2 1028.8 459.9 1030.0 461.4 1030.5 463.0 1031.2 465.0 1031.9 467.1 1032.4 468.9 1033.4 470.7 1035.2 471.7 1037.0 472.2 1039.6 472.7 1043.2 472.8 1057.6 472.4 1061.5 472.5 1065.5 472.7 1077.4 473.8 1081.4 474.0 1085.4 474.2 1102.3 474.7 1104.7 474.8 1104.1 474.8 1102.2 474.8 1101.5 474.9 1104.0 474.9 1119.6 475.1 1122.8 475.4 1124.3 476.5 1124.9 477.7 1125.7 479.3 1126.6 481.2 1127.5 483.1 1128.4 485.5 1129.0 488.3 1129.4 490.9 1129.9 493.9 1130.7 496.6 1131.4 498.8 1132.7 501.1 1134.9 502.7 1137.1 503.9 1139.4 505.3 1141.1 506.9 1142.2 508.4 1143.6 510.1 1145.2 511.9 1146.7 513.4 1148.4 514.7 1150.2 515.1 1151.7 515.1 1153.7 515.0 1156.5 514.7 1159.1 514.3 1162.3 514.0 1166.0 513.9 1169.4 513.9 1172.7 514.2 1175.0 515.2 1176.5 516.3 1178.3 517.5 1180.0 518.5 1181.5 519.4 1183.8 520.1 1187.2 520.3 1200.3 520.3 1203.9 520.6 1206.5 521.4 1208.4 522.2 1210.4 523.2 1212.0 523.9 1213.3 524.4 1214.8 524.6 1216.3 523.9 1217.7 522.9 1219.6 521.9 1222.3 521.2 1224.9 520.7 1227.6 519.9 1229.7 518.8 1231.2 517.6 1233.0 516.6 1235.1 515.9 1237.0 515.5 1238.9 515.4 1240.4 516.0 1241.6 516.7 1242.7 517.7 1243.7 518.9 1244.5 520.0 1245.5 520.9 1246.6 520.9 1247.8 520.5 1249.2 519.8 1250.8 518.8 1252.3 517.6 1254.5 516.9 1257.5 517.2 1260.5 518.0 1263.8 518.9 1266.6 520.1 1268.8 521.2 1271.3 522.4 1273.3 523.4 1275.0 524.2 1277.0 524.5 1279.3 523.9 1281.4 522.9 1283.7 522.1 1285.6 522.1 1287.1 522.3 1288.8 522.9 1290.4 524.1 1291.7 525.5 1293.5 526.3 1295.6 525.7 1297.7 524.6 1300.4 523.7 1303.9 523.5 1307.3 523.6 1311.0 523.9 1314.2 524.2 1316.8 524.6 1319.5 525.2 1321.6 526.2 1323.1 527.1 1324.8 528.3 1326.6 529.5 1328.1 530.5 1329.8 531.8 1331.6 533.1 1333.0 534.3 1335.1 535.5 1337.8 536.1 1340.4 536.4 1343.4 536.5 1346.1 536.1 1348.3 535.6 1350.9 534.8 1353.5 533.7 1355.8 532.5 1358.3 531.3 1360.6 530.2 1362.4 529.3 1364.1 528.1 1364.9 526.5 1365.1 525.0 1365.9 523.6 1367.7 522.8 1369.7 522.3 1372.1 521.8 1374.7 521.2 1376.9 520.7 1379.3 520.4 1381.2 520.8 1382.7 521.4 1384.4 521.6 1385.8 520.9 1386.9 520.0 1388.5 518.9 1390.8 518.0 1393.0 517.2 1395.5 516.3 1397.8 515.5 1399.7 514.7 1401.8 513.5 1403.6 511.7 1405.1 509.8 1406.8 507.6 1408.6 505.3 1410.1 503.3 1411.7 501.0 1413.1 498.7 1414.2 496.7 1415.2 494.6 1415.4 492.6 1415.2 490.9 1415.3 488.9 1415.9 486.8 1416.6 485.0 1417.2 483.0 1417.3 481.3 1417.0 480.0 1416.4 478.7 1415.0 477.7 1413.5 477.0 1411.6 476.1 1409.2 475.4 1407.0 474.8 1404.5 473.8 1402.2 472.4 1400.3 470.9 1398.4 469.1 1396.8 467.4 1395.7 465.9 1394.5 464.2 1393.5 462.6 1392.8 461.3 1392.5 459.8 1393.2 458.5 1394.3 457.4 1395.1 456.2 1394.8 455.1 1394.0 454.1 1392.8 453.0 1391.0 451.9 1389.1 450.9 1387.1 449.6 1385.2 448.0 1383.7 446.5 1382.6 444.7 1382.9 442.9 1383.6 441.2 1384.6 439.3 1385.8 437.1 1386.9 435.3 1388.1 433.1 1389.1 430.9 1389.8 429.1 1390.4 427.0 1390.5 425.2 1390.4 423.7 1390.5 421.9 1391.2 420.2 1392.1 418.7 1393.2 417.0 1394.5 415.2 1395.6 413.7 1397.0 412.2 1398.6 410.9 1400.1 410.0 1402.3 409.3 1405.3 409.0 1408.3 409.0 1411.0 408.5 1412.2 407.0 1412.6 405.3 1413.3 403.1 1414.3 400.7 1415.5 398.4 1416.9 396.1 1418.5 394.1 1420.0 392.6 1422.1 391.1 1424.8 390.2 1427.4 389.6 1430.7 388.9 1434.3 388.3 1437.7 387.8 1441.2 387.0 1443.8 385.8 1445.7 384.7 1447.7 383.2 1449.6 381.2 1451.1 379.4 1452.8 377.0 1454.5 374.2 1456.0 371.6 1457.4 368.8 1457.9 366.8 1458.1 365.3 1458.5 363.8 1459.4 362.8 1460.4 362.2 1461.5 361.8 1462.8 361.8 1463.9 362.0 1465.1 362.6 1466.1 363.9 1466.8 365.2 1468.1 366.5 1470.3 367.4 1472.5 367.9 1475.3 368.6 1478.2 369.4 1480.8 370.1 1483.7 371.1 1486.5 372.5 1488.7 373.7 1491.6 375.1 1495.2 376.1 1498.6 376.8 1502.5 377.6 1506.5 378.1 1513.4 378.8 1517.0 379.5 1520.0 380.7 1522.2 381.9 1525.0 383.5 1527.9 385.3 1530.5 387.0 1533.4 388.5 1536.1 389.4 1538.4 389.9 1541.3 390.2 1545.0 390.4 1550.7 390.4 1554.7 390.4 1558.7 390.5 1573.0 390.8 1577.0 391.1 1580.8 392.0 1585.6 393.4 1589.4 394.6 1593.2 395.8 1603.0 399.1 1606.8 400.3 1610.7 401.4 1620.4 404.2 1623.8 405.1 1626.4 405.7 1628.3 406.1 1630.8 406.8 1633.9 408.2 1636.9 409.6 1640.5 410.7 1644.3 410.5 1648.9 409.7 1652.8 409.3 1656.8 409.6 1661.3 410.2 1665.2 410.8 1669.1 411.6 1675.0 412.9 1678.8 413.6 1682.4 414.2 1685.3 414.7 1688.7 415.4 1691.9 416.5 1694.5 417.6 1697.1 418.8 1698.8 419.8 1699.9 420.6 1700.8 421.2 1700.8 421.3 1700.4 421.2 1700.2 422.1 1700.3 425.1 1701.0 435.8 1701.4 439.3 1702.1 441.9 1702.9 443.8 1703.4 445.9 1703.5 447.7 1703.2 449.2 1703.1 451.1 1703.2 453.5 1703.5 455.8 1704.2 458.2 1705.9 460.1 1707.8 461.6 1709.4 463.2 1710.1 464.5 1710.3 465.5 1710.1 466.7 1709.2 468.1 1708.2 469.3 1707.3 470.8 1707.3 472.1 1707.6 473.2 1708.3 474.5 1709.5 475.7 1710.9 476.6 1712.9 477.6 1715.9 478.2 1718.9 478.6 1721.9 479.3 1724.1 480.5 1725.6 481.8 1727.3 483.2 1728.9 484.5 1730.2 485.7 1732.2 486.8 1735.0 487.7 1737.8 488.2 1741.0 489.1 1744.0 490.4 1746.6 491.7 1749.6 493.0 1752.3 493.8 1754.5 494.3 1757.4 494.7 1760.6 494.6 1763.6 494.3 1766.8 494.1 1769.3 494.3 1771.1 494.6 1773.2 495.4 1775.3 497.2 1777.0 499.1 1778.8 500.9 1780.0 501.8 1780.9 502.2 1782.4 502.4 1784.6 502.3 1786.8 502.1 1789.5 502.3 1792.5 503.2 1795.1 504.3 1798.1 505.4 1801.2 506.0 1803.8 506.4 1806.9 506.4 1810.3 505.5 1813.3 504.4 1816.8 503.6 1820.2 503.7 1823.2 504.2 1826.6 504.8 1829.8 505.4 1832.4 505.8 1835.4 506.1 1838.4 506.1 1841.1 505.9 1843.8 505.4 1845.8 504.7 1847.3 504.0 1849.2 502.9 1851.2 501.4 1853.1 499.9 1855.4 498.2 1857.9 496.8 1860.1 495.7 1863.1 494.7 1866.7 494.3 1871.2 494.1 1874.8 493.7 1877.8 493.0 1880.0 492.1 1882.7 491.4 1885.7 491.0 1888.3 490.9 1891.2 490.5 1893.9 489.8 1896.1 489.1 1899.1 488.4 1902.8 488.2 1907.2 488.2 1910.7 488.0 1913.4 487.3 1915.2 486.6 1917.4 485.6 1919.6 484.6 1921.4 483.6 1923.5 482.7 1925.3 482.1 1926.8 481.8 1929.0 481.7 1932.0 482.1 1935.0 482.6 1938.6 483.3 1942.4 484.0 1947.0 484.9 1950.8 485.5 1954.4 485.5 1957.4 485.4 1960.8 485.4 1963.9 485.8 1966.5 486.3 1969.5 486.8 1972.2 487.1 1974.4 487.3 1976.8 487.8 1978.8 488.8 1980.2 490.0 1982.1 491.2 1984.2 491.8 1986.0 492.1 1988.3 492.6 1990.8 493.4 1993.0 494.2 1995.9 494.7 1999.1 494.5 2002.1 493.9 2005.7 493.3 2009.5 492.8 2012.9 492.5 2016.8 492.3 2020.7 492.4 2024.0 492.7 2027.6 493.0 2030.6 493.6 2032.8 494.2 2035.5 495.1 2038.4 496.5 2041.1 497.8 2043.9 499.4 2046.3 501.1 2048.1 502.6 2050.2 504.5 2052.0 506.5 2053.5 508.4 2055.6 510.5 2058.3 512.3 2060.9 513.8 2064.0 515.1 2067.0 515.7 2069.6 515.9 2072.3 516.2 2074.4 516.7 2075.9 517.3 2078.2 517.9 2081.6 518.2 2086.1 518.3 2090.1 518.5 2094.1 518.6 2098.5 518.7 2102.1 518.9 2105.1 519.5 2107.3 520.2 2110.2 520.9 2113.4 521.3 2116.4 521.5 2119.0 522.3 2119.7 524.3 2119.6 526.6 2119.5 529.1 2119.7 531.4 2120.0 533.2 2120.1 535.3 2119.8 537.3 2119.2 539.0 2119.3 540.5 2120.8 541.3 2122.7 541.7 2124.3 542.4 2125.0 543.5 2125.2 544.7 2125.9 546.0 2127.8 547.1 2129.9 548.0 2132.3 548.9 2134.9 549.5 2137.1 549.9 2139.5 550.6 2141.5 552.0 2143.0 553.5 2144.9 555.3 2147.3 557.2 2149.6 558.8 2152.4 560.7 2155.7 562.3 2158.6 563.7 2162.1 564.8 2165.6 565.2 2168.6 565.2 2172.2 565.2 2176.0 565.0 2186.7 564.2 2190.4 564.2 2193.7 564.4 2196.3 564.8 2199.5 565.0 2202.9 564.8 2205.8 564.4 2209.3 564.1 2212.8 564.2 2215.8 564.5 2219.3 564.9 2222.7 565.5 2225.7 566.2 2228.5 567.0 2230.1 568.1 2230.8 569.1 2232.5 569.9 2235.7 570.1 2245.1 569.8 2248.7 569.9 2251.7 570.6 2253.9 571.3 2256.9 572.2 2260.4 573.0 2265.0 573.9 2268.9 574.7 2272.9 575.4 2277.4 576.4 2281.1 576.8 2284.4 576.7 2287.0 576.3 2289.8 575.7 2292.2 574.5 2294.1 573.3 2296.2 572.5 2298.0 572.9 2299.5 573.7 2301.7 574.7 2304.7 575.9 2307.7 576.9 2311.0 577.9 2313.8 578.6 2316.0 578.9 2318.0 579.3 2318.6 579.5 2318.6 579.5 2319.6 579.4 2322.5 578.8 2325.9 578.2 2329.8 577.3 2333.6 576.1 2337.2 574.8 2340.9 573.3 2344.5 571.7 2347.5 570.2 2350.9 568.7 2354.4 567.7 2357.4 567.0 2360.5 566.1 2362.9 564.9 2364.6 563.8 2366.9 563.0 2369.8 563.1 2372.6 563.6 2375.9 563.8 2379.6 563.1 2384.4 561.6 2388.2 560.7 2392.2 560.3 2400.4 559.9 2404.3 559.7 2408.3 559.4 2412.8 559.1 2416.7 558.6 2420.6 557.7 2427.8 555.8 2431.7 554.8 2435.5 553.8 2442.7 551.8 2446.5 551.1 2450.1 550.9 2453.0 551.0 2456.4 551.3 2459.6 552.0 2462.2 552.8 2465.2 553.4 2468.3 553.3 2470.9 552.8 2474.0 552.0 2477.4 550.6 2480.4 549.1 2483.6 547.7 2486.5 547.0 2488.7 546.7 2490.9 545.8 2492.2 543.9 2492.9 541.8 2494.0 539.4 2495.5 537.2 2497.0 535.3 2498.9 533.3 2500.9 531.4 2502.8 529.9 2505.3 528.2 2508.5 526.4 2512.6 524.3 2516.1 522.4 2519.6 520.4 2523.9 517.8 2527.4 516.0 2531.1 514.5 2534.7 513.3 2538.4 512.3 2542.0 511.6 2545.0 511.2 2548.4 510.4 2551.9 508.8 2554.9 507.1 2558.4 505.2 2561.9 503.4 2564.8 501.9 2568.1 500.3 2570.9 499.3 2573.2 498.5 2575.7 497.8 2578.0 497.3 2579.8 497.0 2582.4 497.0 2585.9 497.7 2589.3 498.6 2593.2 499.3 2597.2 499.3 2604.1 498.7 2607.8 498.6 2611.1 499.1 2613.7 499.7 2616.8 500.5 2619.8 501.6 2622.4 502.6 2625.4 503.8 2628.1 504.8 2630.3 505.6 2632.9 506.9 2635.5 508.9 2637.8 510.9 2640.5 513.3 2643.7 515.5 2647.0 517.8 2650.4 519.8 2653.8 521.6 2656.8 522.9 2660.4 524.1 2664.2 524.5 2668.7 524.5 2672.6 524.5 2676.6 524.7 2679.9 525.0 2683.8 524.8 2687.6 524.0 2691.2 522.8 2695.0 521.4 2698.7 520.0 2703.7 518.0 2707.4 516.8 2710.9 516.0 2713.9 515.6 2717.4 515.3 2720.9 515.6 2723.9 516.0 2727.3 516.7 2730.8 517.6 2733.8 518.5 2737.3 519.5 2740.7 520.5 2743.7 521.4 2747.0 522.8 2750.0 524.7 2755.2 528.9M2755.2 528.9 2770.9 536.3 2774.6 537.9 2778.4 539.1 2789.3 542.2 2793.2 543.1 2797.1 543.7 2807.8 544.5 2811.7 545.1 2815.6 546.1 2820.4 547.7 2824.1 548.9 2827.7 550.0 2830.7 550.9 2833.9 551.7 2836.6 551.7 2838.8 551.4 2841.1 550.8 2842.9 549.6 2844.3 548.3 2846.3 546.8 2849.2 545.3 2852.0 544.1 2855.3 542.6 2858.8 540.8 2864.2 537.8 2867.7 535.9 2871.2 534.0 2875.0 532.1 2878.3 530.3 2881.2 528.7 2883.6 527.3 2886.5 525.6 2889.9 524.0 2895.1 521.7 2898.8 520.3 2902.7 519.4 2913.4 517.8 2917.4 517.3 2921.3 517.0 2927.3 516.6 2931.1 516.2 2934.6 515.6 2937.4 514.9 2940.4 513.9 2942.8 512.4 2944.7 510.9 2946.5 509.0 2947.6 506.8 2948.3 504.7 2948.8 502.4 2948.8 500.2 2948.6 498.3 2948.6 496.4 2948.9 494.8 2949.4 493.7 2949.4 492.6 2948.3 491.8 2946.9 491.2 2945.2 490.7 2943.1 490.5 2941.3 490.5 2939.1 490.4 2937.1 489.8 2935.4 489.1 2934.6 488.3 2936.0 487.3 2938.1 486.4 2940.3 484.7 2941.7 482.0 2942.6 479.2 2943.9 476.4 2945.4 474.3 2946.8 472.9 2948.8 471.3 2951.7 469.7 2954.4 468.3 2957.2 466.4 2958.8 463.9 2959.7 461.6 2960.5 459.0 2960.6 456.7 2960.4 454.8 2960.8 452.7 2962.6 450.5 2964.6 448.6 2967.2 446.6 2970.3 444.8 2973.1 443.4 2975.8 441.5 2977.4 439.1 2978.4 436.8 2979.1 434.3 2979.2 432.4 2979.0 431.0 2979.5 429.4 2981.2 427.7 2983.3 426.4 2985.3 424.4 2986.7 422.0 2987.7 419.7 2989.0 417.0 2990.9 414.2 2992.8 411.9 2994.8 409.5 2996.6 407.6 2998.0 406.2 2999.4 404.3 3000.4 402.0 3001.0 399.9 3002.1 397.8 3003.8 396.3 3005.4 395.4 3007.7 394.1 3010.6 392.4 3013.4 390.9 3016.8 389.0 3020.2 387.0 3025.7 383.9 3029.1 382.0 3032.4 380.6 3035.2 379.5 3038.3 378.3 3041.2 377.4 3043.5 376.7 3045.8 375.5 3047.3 373.5 3048.2 371.3 3049.4 368.8 3050.7 366.1 3051.9 363.8 3052.8 360.9 3052.7 357.8 3052.1 355.0 3050.9 352.1 3048.5 349.9 3046.0 348.3 3044.0 346.3 3043.9 344.0 3044.5 341.8 3045.4 339.3 3046.7 336.6 3047.9 334.3 3048.0 331.9 3045.6 330.2 3042.2 328.9 3038.6 327.6 3035.2 326.6 3032.4 325.7 3029.0 325.2 3025.2 325.4 3020.6 326.2 3016.7 326.9 3012.9 327.5 3009.6 327.9 3006.2 328.1 3003.7 327.4 3001.8 326.5 3000.1 324.8 2999.3 322.1 2999.0 319.3 2999.4 316.6 3001.2 315.0 3003.3 314.0 3006.2 312.9 3009.6 311.6 3012.9 310.5 3016.4 309.0 3019.4 307.0 3021.7 305.2 3024.6 302.9 3027.5 300.5 3036.9 292.8M655.3 577.5 656.1 581.0 656.4 582.8 656.4 584.2 656.3 585.3 656.4 586.5 657.1 587.5 658.0 588.3 658.8 589.2 658.9 590.4 658.7 591.6 657.9 592.8 655.7 594.0 653.2 595.0 651.0 596.1 650.1 597.1 649.9 598.0 650.1 599.1 651.2 600.1 652.5 601.0 653.9 602.1 655.0 603.2 655.7 604.1 657.1 605.1 659.6 605.9 662.2 606.4 665.1 607.1 667.5 608.1 669.3 609.1 671.1 610.2 671.9 611.4 672.3 612.3 672.0 613.6 670.1 615.0 667.9 616.2 665.9 617.7 665.3 619.0 665.3 620.1 665.8 621.3 667.5 622.1 669.3 622.7 671.9 623.5 675.4 624.3 680.0 625.5 683.8 626.6 687.4 628.0 690.4 629.3 693.5 630.7 696.0 631.9 697.9 632.8 700.1 633.7 702.2 634.3 704.1 634.7 706.1 635.3 707.6 636.4 708.7 637.5 709.7 639.0 710.3 641.0 710.5 642.9 711.2 644.8 712.7 646.3 714.3 647.5 716.4 648.8 718.8 650.1 721.1 651.2 723.4 652.3 725.4 653.1 726.9 653.6 728.7 654.1 730.8 654.2 732.7 654.2 734.8 654.6 737.0 655.8 738.9 657.1 740.9 658.7 742.8 660.2 744.3 661.4 746.6 662.6 750.0 663.0 754.4 663.1 758.1 663.0 761.1 662.5 763.4 661.9 766.1 661.3 769.1 661.0 771.8 660.9 774.9 660.8 777.6 660.7 779.9 660.7 781.9 661.0 782.7 661.8 783.0 662.7 783.5 663.7 784.5 664.8 785.7 665.7 786.9 666.7 788.0 667.8 788.9 668.7 790.0 669.5 791.3 670.0 792.4 670.2 793.5 670.8 794.3 671.8 794.7 672.9 795.4 674.0 796.3 674.6 797.2 674.9 798.7 675.1 801.1 675.1 803.6 674.9 806.0 674.6 807.4 674.3 808.2 673.9 809.0 673.3 809.5 672.4 809.9 671.5 810.5 670.7 811.5 670.4 812.7 670.3 814.0 670.3 815.3 670.4 816.4 670.6 817.5 671.0 818.2 671.7 818.7 672.5 818.9 673.5 818.7 674.5 818.2 675.4 818.0 676.5 818.5 677.5 819.2 678.4 820.2 679.5 821.5 680.5 822.9 681.4 824.6 682.4 826.6 683.0 828.4 683.5 830.5 684.0 832.6 684.5 834.4 685.0 836.2 685.5 837.6 686.2 838.6 686.8 839.3 687.4 839.0 688.1 838.4 688.6 838.1 689.5 838.5 690.8 839.3 692.2 840.3 693.7 841.5 695.0 842.6 696.2 843.9 697.3 844.9 698.3 845.7 698.9 846.4 699.9 846.7 701.3 846.8 702.6 847.2 704.1 848.0 705.4 848.9 706.5 849.7 707.5 850.1 708.3 850.2 708.8 850.1 709.5 849.4 710.3 848.6 710.9 848.4 712.1 849.5 714.1 851.1 716.1 853.1 718.6 855.5 721.5 859.3 725.9 861.8 728.7 864.0 731.1 865.8 732.9 867.9 734.5 870.0 735.2 871.8 735.4 873.8 735.9 875.5 736.8 876.8 737.6 878.2 738.8 879.2 740.0 879.9 741.1 880.6 742.3 881.4 743.2 881.9 743.9 882.3 744.7 881.9 745.5 881.4 746.2 881.0 747.0 881.2 747.9 881.6 748.7 882.4 749.7 883.7 750.8 885.1 751.8 886.4 753.0 887.3 754.3 887.9 755.4 888.4 756.9 888.3 759.0 888.0 761.1 887.8 763.0 887.6 764.0 887.5 764.4 887.7 764.9 888.5 765.5 889.4 765.9 890.0 766.8 889.6 768.3 889.0 769.8 888.0 771.8 886.9 774.0 885.7 776.1 884.5 778.3 883.5 780.1 882.7 781.5 881.7 783.0 880.8 784.2 880.1 785.0 879.5 786.2 879.7 788.0 880.1 789.8 880.9 791.8 882.0 793.8 883.1 795.3 884.4 797.0 885.5 798.2 886.4 799.0 887.1 800.4 887.1 802.5 886.9 804.6 886.0 807.1 883.7 809.8 879.4 813.8 876.5 816.5 873.5 819.1 868.5 823.3 866.0 826.1 864.8 829.2 864.2 832.1 863.6 835.2 862.9 838.2 862.3 840.7 862.4 843.3 864.0 845.2 866.0 846.7 868.1 848.6 869.7 851.2 871.0 853.7 872.5 856.2 873.9 858.2 875.1 859.6 876.3 861.3 876.9 863.2 877.3 864.8 878.3 866.0 880.6 865.9 883.0 865.1 886.0 864.6 889.2 864.7 892.1 864.9 895.2 865.6 898.2 866.8 900.7 868.0 903.7 869.3 906.9 870.2 909.7 870.7 912.6 871.1 914.7 870.7 916.1 870.2 918.0 870.1 920.6 871.3 923.1 872.9 926.2 874.3 929.7 874.9 932.9 875.1 936.6 875.3 940.6 875.3 946.7 875.1 950.7 874.9 954.7 874.8 958.5 874.8 962.4 875.0 966.3 875.9 971.6 877.7 975.4 878.7 979.1 879.1 982.3 879.2 985.9 879.4 989.3 879.6 992.2 879.9 995.6 879.9 999.4 879.6 1010.3 878.2 1013.9 877.8 1016.8 877.6 1018.9 877.4 1021.4 877.5 1023.8 878.1 1026.0 878.8 1028.8 879.5 1032.4 879.8 1038.6 880.0 1042.4 880.2 1045.9 880.7 1048.7 881.2 1052.2 881.8 1055.9 882.4 1059.8 883.0 1063.6 883.5 1067.1 883.9 1069.9 884.1 1073.3 884.6 1076.9 885.7 1080.1 886.9 1083.6 888.7 1086.6 891.2 1090.4 894.9 1093.1 897.6 1095.7 899.8 1097.8 901.6 1100.4 903.3 1103.2 904.3 1105.6 904.9 1108.5 905.3 1111.4 905.1 1113.9 904.8 1116.7 904.9 1119.2 906.2 1121.4 907.7 1123.7 909.6 1125.9 911.6 1127.7 913.4 1129.9 915.0 1132.6 915.8 1135.1 916.2 1138.2 916.9 1141.6 918.2 1144.9 919.7 1148.4 921.5 1151.4 923.6 1153.9 925.6 1157.0 927.6 1160.6 929.1 1165.9 930.7 1169.6 931.8 1173.1 932.7 1175.9 933.5 1179.4 934.0 1183.2 933.9 1189.3 933.4 1193.3 933.1 1197.3 932.9 1203.0 932.6 1205.5 933.1 1205.1 935.1 1203.5 937.4 1202.0 940.5 1201.4 944.2 1201.2 947.9 1201.7 951.1 1203.3 952.6 1205.2 953.2 1207.7 953.7 1210.7 954.2 1213.6 954.4 1216.5 955.6 1218.7 958.3 1220.9 962.5 1222.7 966.1 1224.3 969.8 1227.1 976.5 1228.7 980.2 1230.6 983.7 1233.8 989.7 1235.5 992.6 1236.8 994.4 1237.8 995.5 1238.7 997.0 1239.1 999.1 1239.4 1001.1 1239.8 1003.3 1240.5 1005.2 1241.2 1006.7 1242.7 1008.6 1245.3 1010.9 1271.2 1030.9 1273.8 1033.7 1275.0 1037.2 1275.8 1041.8 1277.2 1044.7 1280.4 1045.4 1333.8 1041.5 1337.8 1041.4 1341.7 1041.6 1499.0 1057.2 1503.0 1057.3 1506.9 1056.7 1537.6 1049.6 1541.5 1049.0 1545.5 1049.2 1625.7 1059.4 1629.7 1059.7 1633.7 1059.5 1640.6 1059.0 1644.4 1058.8 1647.6 1058.9 1650.2 1059.1 1653.2 1059.4 1655.9 1059.8 1658.1 1060.2 1660.7 1060.9 1663.4 1062.4 1665.6 1063.9 1668.2 1065.9 1670.8 1068.6 1676.8 1075.7 1679.5 1078.5 1682.4 1080.7 1685.0 1082.3 1688.3 1083.9 1692.0 1084.9 1722.6 1089.8 1726.6 1090.5 1730.5 1091.1 1761.2 1096.7 1765.0 1097.6 1768.8 1098.9 1807.4 1115.0 1810.2 1116.1 1811.3 1116.5 1811.5 1116.5 1812.6 1116.4 1815.6 1115.9 1838.0 1112.6 1842.0 1112.1 1845.9 1111.5 1864.9 1108.9 1867.8 1109.5 1868.8 1112.3 1868.8 1118.7 1869.5 1121.8 1871.6 1123.2 1874.0 1123.5 1877.1 1123.9 1880.8 1124.0 1893.9 1124.0 1897.2 1124.1 1899.2 1124.7 1900.3 1125.3 1901.6 1126.0 1902.9 1126.8 1904.0 1127.6 1905.6 1127.8 1907.5 1126.9 1909.4 1125.5 1911.8 1123.8 1914.6 1121.5 1917.2 1119.5 1919.9 1117.5 1922.0 1116.4 1923.5 1115.9 1925.5 1115.1 1928.3 1114.0 1930.9 1112.9 1934.1 1111.5 1937.7 1110.2 1967.4 1099.3 1971.2 1097.9 1975.0 1096.7 2004.6 1087.2 2008.4 1086.0 2012.3 1084.7 2029.5 1079.2 2033.3 1078.2 2037.3 1077.5 2044.2 1076.6 2048.2 1076.0 2052.2 1075.5 2079.0 1072.3 2083.0 1071.8 2086.9 1071.3 2113.8 1067.8 2117.8 1067.4 2121.7 1066.9 2132.4 1065.8 2136.4 1065.6 2140.3 1065.9 2143.7 1066.3 2147.6 1066.7 2151.6 1066.8 2158.5 1066.8 2162.4 1066.9 2166.0 1067.3 2168.9 1067.6 2172.5 1068.1 2176.3 1068.5 2179.7 1068.9 2183.5 1068.9 2187.1 1068.2 2190.1 1067.2 2193.6 1066.4 2197.5 1066.3 2200.8 1066.6 2204.6 1066.8 2208.2 1067.1 2211.2 1067.3 2214.4 1067.4 2217.3 1067.1 2219.5 1066.8 2222.3 1066.4 2225.6 1066.1 2228.6 1065.9 2232.1 1065.2 2235.5 1063.6 2241.0 1060.6 2244.5 1058.8 2248.0 1057.4 2250.9 1056.4 2254.2 1055.3 2257.0 1054.5 2259.3 1053.9 2262.2 1053.2 2265.8 1052.7 2269.1 1052.4 2272.5 1051.8 2274.8 1050.8 2276.3 1049.8 2278.5 1048.7 2281.8 1047.5 2285.4 1046.4 2289.1 1045.2 2292.7 1044.1 2295.7 1043.1 2298.3 1042.3 2299.2 1042.0 2299.3 1042.0 2299.8 1041.5 2301.1 1040.0 2302.6 1038.2 2304.7 1036.0 2307.4 1033.7 2310.0 1031.6 2312.7 1029.1 2314.8 1026.5 2316.3 1024.3 2318.3 1021.7 2321.0 1019.0 2326.2 1014.4 2329.2 1011.8 2332.2 1009.1 2336.1 1005.9 2339.3 1003.6 2342.8 1001.8 2347.8 999.8 2351.6 998.4 2355.4 997.2 2361.4 995.5 2364.9 994.3 2367.8 993.0 2370.1 991.9 2372.9 990.8 2376.1 990.2 2379.1 989.8 2382.5 988.9 2385.7 987.0 2388.3 985.0 2391.1 982.8 2393.5 980.8 2395.3 979.1 2397.5 977.6 2399.7 976.9 2401.6 976.7 2403.7 976.4 2405.9 975.8 2407.8 975.2 2409.5 974.2 2410.2 972.6 2410.4 970.9 2410.2 968.9 2409.1 966.6 2407.8 964.5 2406.1 962.1 2404.0 959.7 2402.2 957.7 2399.9 955.6 2397.4 953.9 2395.2 952.6 2392.5 951.0 2389.9 949.1 2387.7 947.4 2385.2 945.2 2382.9 942.5 2381.1 940.1 2379.3 937.4 2378.2 935.3 2377.6 933.7 2376.5 931.9 2374.8 930.4 2373.0 929.3 2371.5 927.8 2371.1 926.0 2371.3 924.3 2371.9 922.2 2373.3 920.0 2375.0 917.9 2376.8 915.7 2378.3 913.7 2379.5 912.0 2380.5 910.2 2380.6 908.6 2380.4 907.2 2380.4 905.6 2381.0 903.9 2381.7 902.4 2383.0 900.3 2385.0 897.5 2387.7 893.9 2390.0 890.8 2392.2 887.7 2394.1 885.1 2396.3 882.4 2398.4 880.6 2400.3 879.3 2402.6 878.0 2405.1 877.1 2407.3 876.5 2409.6 875.8 2411.2 875.1 2412.4 874.5 2414.1 874.2 2416.7 874.4 2419.3 874.8 2422.6 875.2 2426.3 875.3 2429.6 875.2 2433.5 875.1 2437.5 875.1 2440.8 875.1 2444.3 875.4 2446.9 876.2 2448.8 877.2 2450.9 878.6 2453.1 880.7 2455.0 882.7 2457.3 884.7 2459.8 886.2 2462.0 887.1 2464.9 888.2 2468.5 889.1 2471.9 889.9 2475.8 890.7 2479.7 891.5 2484.3 892.4 2487.9 893.2 2490.8 893.8 2493.0 894.4 2496.0 894.9 2499.6 895.3 2504.1 895.6 2508.1 896.0 2512.1 896.3 2517.7 896.7 2521.1 897.0 2523.0 897.6 2524.2 898.1 2525.7 898.6 2527.9 898.8 2530.0 898.9 2532.3 898.6 2534.3 897.8 2536.0 896.8 2538.0 895.7 2540.1 894.6 2541.9 893.6 2544.2 892.3 2546.7 890.7 2548.9 889.3 2551.4 887.9 2553.7 887.2 2555.6 886.9 2557.9 886.4 2560.4 885.8 2562.6 885.2 2565.2 884.2 2567.8 882.4 2570.1 880.5 2572.9 878.3 2576.1 876.2 2579.2 874.2 2582.6 872.1 2585.9 869.8 2589.3 867.4 2592.1 865.1 2594.1 862.8 2595.5 860.8 2596.7 858.5 2597.5 856.4 2597.8 854.7 2598.6 853.1 2600.2 852.1 2601.8 851.6 2603.9 851.0 2606.3 850.3 2608.6 849.7 2611.3 849.4 2614.2 849.7 2616.8 850.3 2619.8 851.0 2622.5 851.9 2624.7 852.6 2627.7 853.2 2631.3 853.1 2638.2 852.6 2642.2 852.3 2646.2 852.1 2653.1 851.9 2657.1 851.7 2661.1 851.3 2665.6 850.7 2669.5 850.2 2673.5 849.4 2676.8 848.6 2680.4 847.5 2683.4 845.9 2685.6 844.2 2688.3 842.3 2691.2 840.4 2693.9 838.7 2697.0 836.8 2700.4 834.8 2703.4 833.1 2706.5 831.6 2709.0 831.1 2710.9 831.1 2713.2 830.8 2715.7 830.0 2717.9 829.0 2720.2 827.6 2721.8 825.5 2722.9 823.5 2723.6 821.3 2723.2 819.2 2722.3 817.5 2721.8 816.5 2722.4 817.4 2723.3 819.1 2724.0 820.4 2723.6 820.2 2722.9 819.5 2722.1 818.4 2721.6 816.9 2721.2 815.4 2721.3 813.3 2722.5 810.6 2724.0 808.0 2725.8 805.1 2727.9 802.4 2729.8 800.1 2732.1 797.6 2735.0 795.3 2737.6 793.5 2740.5 791.3 2743.2 789.1 2745.5 787.3 2748.2 785.5 2751.1 784.7 2753.7 784.3 2756.7 783.5 2759.6 782.1 2762.1 780.6 2764.9 779.4 2767.8 779.3 2770.1 779.7 2773.2 780.1 2776.9 780.5 2783.8 781.0 2787.8 781.3 2791.8 781.6 2799.2 781.9 2802.3 781.3 2803.5 779.2 2803.7 776.8 2804.2 774.3 2805.1 772.6 2806.1 771.5 2806.9 770.1 2807.2 768.6 2807.2 767.3 2807.7 766.1 2809.1 765.5 2810.8 765.4 2812.8 765.2 2815.1 764.8 2817.2 764.4 2819.4 764.5 2821.1 765.7 2822.4 767.2 2824.0 768.6 2826.0 769.5 2827.9 769.9 2830.2 770.2 2832.7 770.1 2834.9 769.8 2837.3 769.0 2839.3 767.5 2840.7 765.9 2842.7 764.3 2845.1 763.3 2847.3 762.7 2850.0 761.9 2853.0 760.9 2855.6 760.0 2858.8 759.0 2862.4 757.7 2866.0 756.5 2869.5 755.6 2872.4 755.3 2874.7 755.3 2877.5 755.5 2880.7 756.1 2883.7 756.9 2887.1 757.4 2890.2 757.3 2892.9 757.0 2895.9 756.8 2898.9 757.1 2901.6 757.7 2904.4 757.6 2906.8 756.1 2908.6 754.2 2910.6 752.6 2912.1 752.0 2913.2 752.0 2914.4 752.4 2915.4 753.4 2916.1 754.6 2917.2 755.5 2918.8 755.3 2920.2 754.7 2921.8 754.5 2922.9 755.3 2923.6 756.5 2925.1 757.7 2928.0 758.9 2930.9 759.9 2934.5 760.9 2938.3 761.7 2942.9 762.5 2946.7 762.9 2950.3 762.8 2953.3 762.4 2956.8 762.1 2960.2 762.0 2963.2 762.0 2966.5 762.2 2969.3 762.7 2971.6 763.3 2974.1 763.5 2976.3 762.7 2978.2 761.6 2980.3 760.5 2982.1 760.1 2983.6 759.9 2985.3 759.4 2987.1 758.2 2988.6 756.8 2989.7 755.0 2989.4 752.7 2988.7 750.4 2988.2 748.0 2988.3 746.1 2988.6 744.6 2988.6 743.0 2987.8 741.7 2986.6 740.8 2985.2 739.5 2983.6 738.1 2982.1 736.9 2980.7 735.2 2979.9 733.2 2979.6 731.4 2978.7 729.1 2977.0 726.8 2975.1 724.7 2972.7 722.3 2969.9 719.9 2967.3 717.9 2964.1 715.6 2960.8 713.4 2957.7 711.4 2954.3 709.4 2951.0 707.4 2948.1 705.8 2945.8 704.0 2945.5 702.7 2946.1 701.8 2945.7 700.6 2943.1 699.3 2936.9 697.0 2933.9 695.2 2932.3 692.4 2931.6 689.7 2929.9 687.0 2926.8 685.5 2923.4 684.7 2919.5 683.7 2915.7 682.6 2910.9 681.1 2907.4 679.8 2904.5 678.1 2902.2 676.4 2899.6 674.3 2896.9 671.6 2893.6 668.0 2891.1 665.6 2888.8 664.2 2886.9 663.5 2884.3 662.8 2880.7 662.4 2876.3 662.3 2872.3 662.0 2868.4 661.3 2863.8 660.4 2859.9 660.0 2855.9 660.3 2851.4 661.0 2847.6 661.4 2844.0 661.5 2841.0 661.5 2837.8 661.6 2835.3 662.3 2833.5 663.1 2831.1 664.5 2828.2 666.6 2823.2 670.8 2820.1 673.2 2816.9 675.7 2812.2 679.1 2809.3 681.4 2806.9 683.6 2805.2 685.4 2803.3 686.8 2801.3 686.8 2799.7 686.3 2797.6 685.5 2795.2 684.2 2792.9 683.0 2790.1 681.4 2786.8 679.5 2783.8 677.8 2780.3 676.0 2776.6 674.5 2769.3 672.1 2765.4 671.2 2761.5 671.2 2757.0 671.7 2753.0 672.1 2749.1 672.5 2742.1 673.3 2738.1 673.6 2734.2 673.3 2727.2 672.5 2723.4 672.4 2719.8 672.9 2716.8 673.7 2713.6 674.8 2711.1 676.4 2709.3 678.1 2707.0 680.0 2704.7 681.7 2702.7 683.2 2700.6 684.4 2698.8 684.6 2697.5 684.3 2695.5 683.5 2692.6 681.7 2689.2 679.3 2686.0 677.0 2682.8 674.5 2676.7 669.6 2674.1 666.9 2672.7 664.0 2671.9 661.4 2671.2 658.6 2670.6 656.2 2670.2 654.3 2670.9 652.4 2673.6 650.9 2687.6 646.0 2690.4 644.1 2691.1 640.7 2690.0 628.8 2690.5 625.1 2692.4 621.9 2706.8 606.6 2708.8 604.1 2709.1 602.4 2708.8 601.3 2708.5 600.6 2708.5 601.0 2708.6 601.8 2708.6 602.2 2708.3 601.4 2707.9 600.3 2708.1 598.5 2709.7 595.7 2755.2 528.9M3082.2 1176.3 3081.4 1176.8 3080.8 1177.2 3079.7 1177.9 3078.7 1178.5 3077.6 1179.2 3076.6 1179.9 3075.8 1180.4 3075.1 1181.1 3074.8 1181.9 3074.7 1182.7 3074.4 1183.5 3074.1 1184.3 3073.7 1184.9 3073.2 1185.4 3072.6 1185.2 3072.1 1184.9 3071.5 1184.4 3070.8 1184.0 3070.1 1183.6 3069.3 1183.3 3068.5 1183.4 3067.7 1183.7 3067.0 1184.1 3066.7 1184.7 3066.5 1185.4 3066.3 1186.1 3065.8 1186.9 3065.3 1187.5 3064.9 1188.3 3064.8 1189.0 3064.9 1189.7 3065.4 1190.2 3066.3 1190.4 3067.3 1190.4 3068.4 1190.5 3069.4 1190.9 3070.2 1191.2 3070.6 1191.6 3069.9 1191.8 3068.9 1192.0 3067.6 1192.2 3066.3 1192.7 3065.2 1193.2 3063.8 1193.8 3062.5 1194.1 3061.3 1194.4 3060.0 1194.7 3058.8 1194.8 3057.7 1195.0 3056.8 1195.3 3056.2 1196.0 3056.0 1196.8 3055.6 1197.6 3055.2 1198.4 3054.8 1199.1 3054.2 1199.8 3053.0 1200.6 3051.9 1201.2 3050.5 1202.0 3049.2 1202.9 3048.0 1203.6 3046.8 1204.6 3045.8 1205.7 3045.0 1206.8 3044.1 1207.8 3043.2 1208.4 3042.4 1208.8 3041.6 1209.3 3040.9 1209.7 3040.4 1210.1 3039.9 1210.7 3039.7 1211.6 3039.6 1212.5 3039.2 1213.4 3038.5 1214.0 3037.7 1214.4 3037.0 1214.9 3036.5 1215.4 3036.3 1215.9 3036.3 1216.4 3036.9 1216.7 3037.6 1216.8 3038.2 1217.1 3037.9 1217.6 3037.4 1218.1 3036.6 1218.6 3035.3 1219.1 3034.0 1219.5 3032.8 1220.0 3031.9 1220.6 3030.8 1221.7" fill="none" stroke="#000" stroke-width="2.2" stroke-linejoin="round" stroke-linecap="round"/>
</g>
<rect x="517.5" y="294.4" width="2565.0" height="927.1" fill="none" stroke="#000" stroke-width="3.33"/>
<text class="t" x="1799" y="212.2">Temp(°C) @ 20251002_06</text>
<text class="t" x="1814" y="268.6">Simulation Time: 20250929_12</text>
<text class="l" text-anchor="middle" x="814.0" y="1274.3">90°E</text>
<text class="l" text-anchor="middle" x="1177.8" y="1274.3">95°E</text>
<text class="l" text-anchor="middle" x="1541.5" y="1274.3">100°E</text>
<text class="l" text-anchor="middle" x="1905.2" y="1274.3">105°E</text>
<text class="l" text-anchor="middle" x="2269.0" y="1274.3">110°E</text>
<text class="l" text-anchor="middle" x="2632.8" y="1274.3">115°E</text>
<text class="l" text-anchor="middle" x="2996.5" y="1274.3">120°E</text>
<text class="l" text-anchor="end" x="495.5" y="1110.4">42°N</text>
<text class="l" text-anchor="end" x="495.5" y="964.7">44°N</text>
<text class="l" text-anchor="end" x="495.5" y="819.1">46°N</text>
<text class="l" text-anchor="end" x="495.5" y="673.4">48°N</text>
<text class="l" text-anchor="end" x="495.5" y="527.8">50°N</text>
<text class="l" text-anchor="end" x="495.5" y="382.1">52°N</text>
<rect x="3242.1" y="1177.9" width="57.8" height="105.4" fill="#2a0593"/>
<rect x="3242.1" y="1072.9" width="57.8" height="105.4" fill="#5601a4"/>
<rect x="3242.1" y="967.9" width="57.8" height="105.4" fill="#7e03a8"/>
<rect x="3242.1" y="862.9" width="57.8" height="105.4" fill="#a11b9b"/>
<rect x="3242.1" y="757.9" width="57.8" height="105.4" fill="#bf3984"/>
<rect x="3242.1" y="652.9" width="57.8" height="105.4" fill="#d6556d"/>
<rect x="3242.1" y="547.9" width="57.8" height="105.4" fill="#ea7457"/>
<rect x="3242.1" y="442.9" width="57.8" height="105.4" fill="#f89540"/>
<rect x="3242.1" y="337.9" width="57.8" height="105.4" fill="#feba2c"/>
<rect x="3242.1" y="232.9" width="57.8" height="105.4" fill="#f7e425"/>
<path d="M3242.1 232.9L3271.0 180.5L3299.9 232.9Z" fill="#f0f921"/>
<path d="M3242.1 1282.9L3271.0 1334.5L3299.9 1282.9Z" fill="#0d0887"/>
<path d="M3242.1 232.9L3271.0 180.5L3299.9 232.9V1282.9L3271.0 1334.5L3242.1 1282.9Z" fill="none" stroke="#000" stroke-width="3.33" stroke-linejoin="miter"/>
<path d="M3299.9 1178.3h15.5" stroke="#000" stroke-width="3.33"/>
<text class="l" x="3328.5" y="1192.3">0</text>
<path d="M3299.9 968.3h15.5" stroke="#000" stroke-width="3.33"/>
<text class="l" x="3328.5" y="982.3">10</text>
<path d="M3299.9 758.3h15.5" stroke="#000" stroke-width="3.33"/>
<text class="l" x="3328.5" y="772.3">20</text>
<path d="M3299.9 548.3h15.5" stroke="#000" stroke-width="3.33"/>
<text class="l" x="3328.5" y="562.3">30</text>
<path d="M3299.9 338.3h15.5" stroke="#000" stroke-width="3.33"/>
<text class="l" x="3328.5" y="352.3">40</text>
</svg></body></html>
